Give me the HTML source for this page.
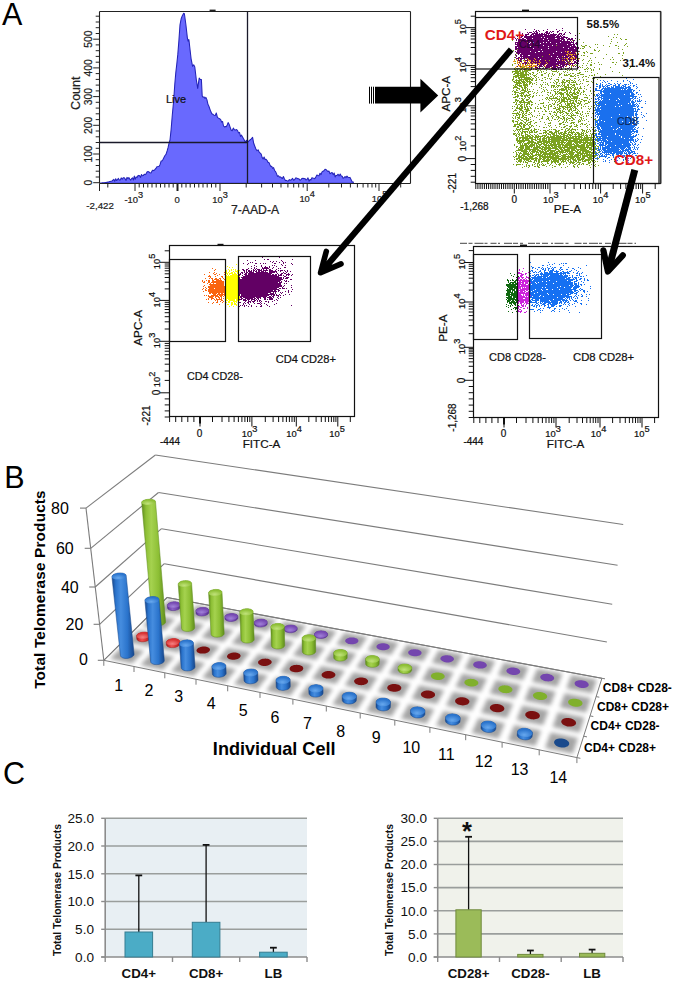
<!DOCTYPE html>
<html><head><meta charset="utf-8"><style>
html,body{margin:0;padding:0;background:#fff;}
svg{display:block;}
text{font-family:"Liberation Sans", sans-serif;}
</style></head><body>
<svg width="675" height="982" viewBox="0 0 675 982" font-family="Liberation Sans, sans-serif">
<defs><filter id="fb" x="-5%" y="-20%" width="110%" height="140%"><feGaussianBlur stdDeviation="2.3"/></filter>
<clipPath id="floorclip"><path d="M103.8 660.3 L576.9 757.6 L601.9 678.3 L167.1 597.5 Z"/></clipPath>
<linearGradient id="cg0" gradientUnits="userSpaceOnUse" x1="167.4" y1="0" x2="180.3" y2="0"><stop offset="0" stop-color="#512c8a"/><stop offset="0.18" stop-color="#7548b2"/><stop offset="0.4" stop-color="#8a60c4"/><stop offset="0.7" stop-color="#7548b2"/><stop offset="1" stop-color="#512c8a"/></linearGradient>
<radialGradient id="cg0t" cx="0.45" cy="0.75" r="0.6"><stop offset="0" stop-color="#a080d8"/><stop offset="1" stop-color="#7548b2"/></radialGradient>
<linearGradient id="cg1" gradientUnits="userSpaceOnUse" x1="195.9" y1="0" x2="208.8" y2="0"><stop offset="0" stop-color="#512c8a"/><stop offset="0.18" stop-color="#7548b2"/><stop offset="0.4" stop-color="#8a60c4"/><stop offset="0.7" stop-color="#7548b2"/><stop offset="1" stop-color="#512c8a"/></linearGradient>
<radialGradient id="cg1t" cx="0.45" cy="0.75" r="0.6"><stop offset="0" stop-color="#a080d8"/><stop offset="1" stop-color="#7548b2"/></radialGradient>
<linearGradient id="cg2" gradientUnits="userSpaceOnUse" x1="224.9" y1="0" x2="237.8" y2="0"><stop offset="0" stop-color="#512c8a"/><stop offset="0.18" stop-color="#7548b2"/><stop offset="0.4" stop-color="#8a60c4"/><stop offset="0.7" stop-color="#7548b2"/><stop offset="1" stop-color="#512c8a"/></linearGradient>
<radialGradient id="cg2t" cx="0.45" cy="0.75" r="0.6"><stop offset="0" stop-color="#a080d8"/><stop offset="1" stop-color="#7548b2"/></radialGradient>
<linearGradient id="cg3" gradientUnits="userSpaceOnUse" x1="141.7" y1="0" x2="165.6" y2="0"><stop offset="0" stop-color="#5f8c1c"/><stop offset="0.18" stop-color="#8dbf35"/><stop offset="0.4" stop-color="#a5d24f"/><stop offset="0.7" stop-color="#8dbf35"/><stop offset="1" stop-color="#5f8c1c"/></linearGradient>
<radialGradient id="cg3t" cx="0.45" cy="0.75" r="0.6"><stop offset="0" stop-color="#c0e27a"/><stop offset="1" stop-color="#8dbf35"/></radialGradient>
<linearGradient id="cg4" gradientUnits="userSpaceOnUse" x1="254.3" y1="0" x2="267.3" y2="0"><stop offset="0" stop-color="#512c8a"/><stop offset="0.18" stop-color="#7548b2"/><stop offset="0.4" stop-color="#8a60c4"/><stop offset="0.7" stop-color="#7548b2"/><stop offset="1" stop-color="#512c8a"/></linearGradient>
<radialGradient id="cg4t" cx="0.45" cy="0.75" r="0.6"><stop offset="0" stop-color="#a080d8"/><stop offset="1" stop-color="#7548b2"/></radialGradient>
<linearGradient id="cg5" gradientUnits="userSpaceOnUse" x1="178.2" y1="0" x2="194.7" y2="0"><stop offset="0" stop-color="#5f8c1c"/><stop offset="0.18" stop-color="#8dbf35"/><stop offset="0.4" stop-color="#a5d24f"/><stop offset="0.7" stop-color="#8dbf35"/><stop offset="1" stop-color="#5f8c1c"/></linearGradient>
<radialGradient id="cg5t" cx="0.45" cy="0.75" r="0.6"><stop offset="0" stop-color="#c0e27a"/><stop offset="1" stop-color="#8dbf35"/></radialGradient>
<linearGradient id="cg6" gradientUnits="userSpaceOnUse" x1="284.2" y1="0" x2="297.2" y2="0"><stop offset="0" stop-color="#512c8a"/><stop offset="0.18" stop-color="#7548b2"/><stop offset="0.4" stop-color="#8a60c4"/><stop offset="0.7" stop-color="#7548b2"/><stop offset="1" stop-color="#512c8a"/></linearGradient>
<radialGradient id="cg6t" cx="0.45" cy="0.75" r="0.6"><stop offset="0" stop-color="#a080d8"/><stop offset="1" stop-color="#7548b2"/></radialGradient>
<linearGradient id="cg7" gradientUnits="userSpaceOnUse" x1="208.6" y1="0" x2="224.2" y2="0"><stop offset="0" stop-color="#5f8c1c"/><stop offset="0.18" stop-color="#8dbf35"/><stop offset="0.4" stop-color="#a5d24f"/><stop offset="0.7" stop-color="#8dbf35"/><stop offset="1" stop-color="#5f8c1c"/></linearGradient>
<radialGradient id="cg7t" cx="0.45" cy="0.75" r="0.6"><stop offset="0" stop-color="#c0e27a"/><stop offset="1" stop-color="#8dbf35"/></radialGradient>
<linearGradient id="cg8" gradientUnits="userSpaceOnUse" x1="314.5" y1="0" x2="327.6" y2="0"><stop offset="0" stop-color="#512c8a"/><stop offset="0.18" stop-color="#7548b2"/><stop offset="0.4" stop-color="#8a60c4"/><stop offset="0.7" stop-color="#7548b2"/><stop offset="1" stop-color="#512c8a"/></linearGradient>
<radialGradient id="cg8t" cx="0.45" cy="0.75" r="0.6"><stop offset="0" stop-color="#a080d8"/><stop offset="1" stop-color="#7548b2"/></radialGradient>
<linearGradient id="cg9" gradientUnits="userSpaceOnUse" x1="136.6" y1="0" x2="150.2" y2="0"><stop offset="0" stop-color="#a01818"/><stop offset="0.18" stop-color="#d83030"/><stop offset="0.4" stop-color="#ec5050"/><stop offset="0.7" stop-color="#d83030"/><stop offset="1" stop-color="#a01818"/></linearGradient>
<radialGradient id="cg9t" cx="0.45" cy="0.75" r="0.6"><stop offset="0" stop-color="#f58080"/><stop offset="1" stop-color="#d83030"/></radialGradient>
<linearGradient id="cg10" gradientUnits="userSpaceOnUse" x1="239.7" y1="0" x2="254.2" y2="0"><stop offset="0" stop-color="#5f8c1c"/><stop offset="0.18" stop-color="#8dbf35"/><stop offset="0.4" stop-color="#a5d24f"/><stop offset="0.7" stop-color="#8dbf35"/><stop offset="1" stop-color="#5f8c1c"/></linearGradient>
<radialGradient id="cg10t" cx="0.45" cy="0.75" r="0.6"><stop offset="0" stop-color="#c0e27a"/><stop offset="1" stop-color="#8dbf35"/></radialGradient>
<linearGradient id="cg12" gradientUnits="userSpaceOnUse" x1="166.3" y1="0" x2="179.8" y2="0"><stop offset="0" stop-color="#a01818"/><stop offset="0.18" stop-color="#d83030"/><stop offset="0.4" stop-color="#ec5050"/><stop offset="0.7" stop-color="#d83030"/><stop offset="1" stop-color="#a01818"/></linearGradient>
<radialGradient id="cg12t" cx="0.45" cy="0.75" r="0.6"><stop offset="0" stop-color="#f58080"/><stop offset="1" stop-color="#d83030"/></radialGradient>
<linearGradient id="cg13" gradientUnits="userSpaceOnUse" x1="270.8" y1="0" x2="284.7" y2="0"><stop offset="0" stop-color="#5f8c1c"/><stop offset="0.18" stop-color="#8dbf35"/><stop offset="0.4" stop-color="#a5d24f"/><stop offset="0.7" stop-color="#8dbf35"/><stop offset="1" stop-color="#5f8c1c"/></linearGradient>
<radialGradient id="cg13t" cx="0.45" cy="0.75" r="0.6"><stop offset="0" stop-color="#c0e27a"/><stop offset="1" stop-color="#8dbf35"/></radialGradient>
<linearGradient id="cg16" gradientUnits="userSpaceOnUse" x1="302.1" y1="0" x2="315.7" y2="0"><stop offset="0" stop-color="#5f8c1c"/><stop offset="0.18" stop-color="#8dbf35"/><stop offset="0.4" stop-color="#a5d24f"/><stop offset="0.7" stop-color="#8dbf35"/><stop offset="1" stop-color="#5f8c1c"/></linearGradient>
<radialGradient id="cg16t" cx="0.45" cy="0.75" r="0.6"><stop offset="0" stop-color="#c0e27a"/><stop offset="1" stop-color="#8dbf35"/></radialGradient>
<linearGradient id="cg18" gradientUnits="userSpaceOnUse" x1="111.9" y1="0" x2="134.1" y2="0"><stop offset="0" stop-color="#17468a"/><stop offset="0.18" stop-color="#2b74cc"/><stop offset="0.4" stop-color="#468ddf"/><stop offset="0.7" stop-color="#2b74cc"/><stop offset="1" stop-color="#17468a"/></linearGradient>
<radialGradient id="cg18t" cx="0.45" cy="0.75" r="0.6"><stop offset="0" stop-color="#67a8ee"/><stop offset="1" stop-color="#2b74cc"/></radialGradient>
<linearGradient id="cg20" gradientUnits="userSpaceOnUse" x1="333.7" y1="0" x2="347.2" y2="0"><stop offset="0" stop-color="#5f8c1c"/><stop offset="0.18" stop-color="#8dbf35"/><stop offset="0.4" stop-color="#a5d24f"/><stop offset="0.7" stop-color="#8dbf35"/><stop offset="1" stop-color="#5f8c1c"/></linearGradient>
<radialGradient id="cg20t" cx="0.45" cy="0.75" r="0.6"><stop offset="0" stop-color="#c0e27a"/><stop offset="1" stop-color="#8dbf35"/></radialGradient>
<linearGradient id="cg22" gradientUnits="userSpaceOnUse" x1="144.9" y1="0" x2="164.3" y2="0"><stop offset="0" stop-color="#17468a"/><stop offset="0.18" stop-color="#2b74cc"/><stop offset="0.4" stop-color="#468ddf"/><stop offset="0.7" stop-color="#2b74cc"/><stop offset="1" stop-color="#17468a"/></linearGradient>
<radialGradient id="cg22t" cx="0.45" cy="0.75" r="0.6"><stop offset="0" stop-color="#67a8ee"/><stop offset="1" stop-color="#2b74cc"/></radialGradient>
<linearGradient id="cg24" gradientUnits="userSpaceOnUse" x1="365.6" y1="0" x2="379.3" y2="0"><stop offset="0" stop-color="#5f8c1c"/><stop offset="0.18" stop-color="#8dbf35"/><stop offset="0.4" stop-color="#a5d24f"/><stop offset="0.7" stop-color="#8dbf35"/><stop offset="1" stop-color="#5f8c1c"/></linearGradient>
<radialGradient id="cg24t" cx="0.45" cy="0.75" r="0.6"><stop offset="0" stop-color="#c0e27a"/><stop offset="1" stop-color="#8dbf35"/></radialGradient>
<linearGradient id="cg26" gradientUnits="userSpaceOnUse" x1="179.4" y1="0" x2="195" y2="0"><stop offset="0" stop-color="#17468a"/><stop offset="0.18" stop-color="#2b74cc"/><stop offset="0.4" stop-color="#468ddf"/><stop offset="0.7" stop-color="#2b74cc"/><stop offset="1" stop-color="#17468a"/></linearGradient>
<radialGradient id="cg26t" cx="0.45" cy="0.75" r="0.6"><stop offset="0" stop-color="#67a8ee"/><stop offset="1" stop-color="#2b74cc"/></radialGradient>
<linearGradient id="cg28" gradientUnits="userSpaceOnUse" x1="398" y1="0" x2="411.8" y2="0"><stop offset="0" stop-color="#5f8c1c"/><stop offset="0.18" stop-color="#8dbf35"/><stop offset="0.4" stop-color="#a5d24f"/><stop offset="0.7" stop-color="#8dbf35"/><stop offset="1" stop-color="#5f8c1c"/></linearGradient>
<radialGradient id="cg28t" cx="0.45" cy="0.75" r="0.6"><stop offset="0" stop-color="#c0e27a"/><stop offset="1" stop-color="#8dbf35"/></radialGradient>
<linearGradient id="cg30" gradientUnits="userSpaceOnUse" x1="211.9" y1="0" x2="226.2" y2="0"><stop offset="0" stop-color="#17468a"/><stop offset="0.18" stop-color="#2b74cc"/><stop offset="0.4" stop-color="#468ddf"/><stop offset="0.7" stop-color="#2b74cc"/><stop offset="1" stop-color="#17468a"/></linearGradient>
<radialGradient id="cg30t" cx="0.45" cy="0.75" r="0.6"><stop offset="0" stop-color="#67a8ee"/><stop offset="1" stop-color="#2b74cc"/></radialGradient>
<linearGradient id="cg34" gradientUnits="userSpaceOnUse" x1="243.7" y1="0" x2="258" y2="0"><stop offset="0" stop-color="#17468a"/><stop offset="0.18" stop-color="#2b74cc"/><stop offset="0.4" stop-color="#468ddf"/><stop offset="0.7" stop-color="#2b74cc"/><stop offset="1" stop-color="#17468a"/></linearGradient>
<radialGradient id="cg34t" cx="0.45" cy="0.75" r="0.6"><stop offset="0" stop-color="#67a8ee"/><stop offset="1" stop-color="#2b74cc"/></radialGradient>
<linearGradient id="cg38" gradientUnits="userSpaceOnUse" x1="276" y1="0" x2="290.3" y2="0"><stop offset="0" stop-color="#17468a"/><stop offset="0.18" stop-color="#2b74cc"/><stop offset="0.4" stop-color="#468ddf"/><stop offset="0.7" stop-color="#2b74cc"/><stop offset="1" stop-color="#17468a"/></linearGradient>
<radialGradient id="cg38t" cx="0.45" cy="0.75" r="0.6"><stop offset="0" stop-color="#67a8ee"/><stop offset="1" stop-color="#2b74cc"/></radialGradient>
<linearGradient id="cg41" gradientUnits="userSpaceOnUse" x1="308.8" y1="0" x2="323.1" y2="0"><stop offset="0" stop-color="#17468a"/><stop offset="0.18" stop-color="#2b74cc"/><stop offset="0.4" stop-color="#468ddf"/><stop offset="0.7" stop-color="#2b74cc"/><stop offset="1" stop-color="#17468a"/></linearGradient>
<radialGradient id="cg41t" cx="0.45" cy="0.75" r="0.6"><stop offset="0" stop-color="#67a8ee"/><stop offset="1" stop-color="#2b74cc"/></radialGradient>
<linearGradient id="cg44" gradientUnits="userSpaceOnUse" x1="342.2" y1="0" x2="356.5" y2="0"><stop offset="0" stop-color="#17468a"/><stop offset="0.18" stop-color="#2b74cc"/><stop offset="0.4" stop-color="#468ddf"/><stop offset="0.7" stop-color="#2b74cc"/><stop offset="1" stop-color="#17468a"/></linearGradient>
<radialGradient id="cg44t" cx="0.45" cy="0.75" r="0.6"><stop offset="0" stop-color="#67a8ee"/><stop offset="1" stop-color="#2b74cc"/></radialGradient>
<linearGradient id="cg47" gradientUnits="userSpaceOnUse" x1="376" y1="0" x2="390.5" y2="0"><stop offset="0" stop-color="#17468a"/><stop offset="0.18" stop-color="#2b74cc"/><stop offset="0.4" stop-color="#468ddf"/><stop offset="0.7" stop-color="#2b74cc"/><stop offset="1" stop-color="#17468a"/></linearGradient>
<radialGradient id="cg47t" cx="0.45" cy="0.75" r="0.6"><stop offset="0" stop-color="#67a8ee"/><stop offset="1" stop-color="#2b74cc"/></radialGradient>
<linearGradient id="cg49" gradientUnits="userSpaceOnUse" x1="410.4" y1="0" x2="425" y2="0"><stop offset="0" stop-color="#17468a"/><stop offset="0.18" stop-color="#2b74cc"/><stop offset="0.4" stop-color="#468ddf"/><stop offset="0.7" stop-color="#2b74cc"/><stop offset="1" stop-color="#17468a"/></linearGradient>
<radialGradient id="cg49t" cx="0.45" cy="0.75" r="0.6"><stop offset="0" stop-color="#67a8ee"/><stop offset="1" stop-color="#2b74cc"/></radialGradient>
<linearGradient id="cg51" gradientUnits="userSpaceOnUse" x1="445.4" y1="0" x2="460.2" y2="0"><stop offset="0" stop-color="#17468a"/><stop offset="0.18" stop-color="#2b74cc"/><stop offset="0.4" stop-color="#468ddf"/><stop offset="0.7" stop-color="#2b74cc"/><stop offset="1" stop-color="#17468a"/></linearGradient>
<radialGradient id="cg51t" cx="0.45" cy="0.75" r="0.6"><stop offset="0" stop-color="#67a8ee"/><stop offset="1" stop-color="#2b74cc"/></radialGradient>
<linearGradient id="cg53" gradientUnits="userSpaceOnUse" x1="481" y1="0" x2="496" y2="0"><stop offset="0" stop-color="#17468a"/><stop offset="0.18" stop-color="#2b74cc"/><stop offset="0.4" stop-color="#468ddf"/><stop offset="0.7" stop-color="#2b74cc"/><stop offset="1" stop-color="#17468a"/></linearGradient>
<radialGradient id="cg53t" cx="0.45" cy="0.75" r="0.6"><stop offset="0" stop-color="#67a8ee"/><stop offset="1" stop-color="#2b74cc"/></radialGradient>
<linearGradient id="cg54" gradientUnits="userSpaceOnUse" x1="517.2" y1="0" x2="532.5" y2="0"><stop offset="0" stop-color="#17468a"/><stop offset="0.18" stop-color="#2b74cc"/><stop offset="0.4" stop-color="#468ddf"/><stop offset="0.7" stop-color="#2b74cc"/><stop offset="1" stop-color="#17468a"/></linearGradient>
<radialGradient id="cg54t" cx="0.45" cy="0.75" r="0.6"><stop offset="0" stop-color="#67a8ee"/><stop offset="1" stop-color="#2b74cc"/></radialGradient></defs>
<text x="2" y="24.7" font-size="30.5">A</text>
<text x="4.3" y="487.8" font-size="30.5">B</text>
<text x="3" y="784.2" font-size="30.5">C</text>
<path d="M100.5 183.2 L100.5 183 L101.4 182.9 L102.3 182.8 L103.2 182.8 L104.2 182.7 L105.1 182.6 L106 182.5 L107 182.2 L108 182 L109 181.8 L110 181.5 L111 181.2 L112 181 L112.9 180.2 L113.8 179.4 L114.7 181.2 L115.7 178.8 L116.6 180.5 L117.5 179.7 L118.4 178.4 L119.3 180 L120.3 179.9 L121.2 177.9 L122.2 179.3 L123.2 177.7 L124.1 177.7 L125.1 178.9 L126.1 180.4 L127 177.4 L128 178.8 L128.9 177.6 L129.8 179.1 L130.7 180.2 L131.6 178.6 L132.5 177.8 L133.4 180 L134.3 176.1 L135.2 179.3 L136.1 176.9 L137 177.6 L137.9 175.8 L138.8 175.4 L139.7 175.8 L140.6 177.4 L141.5 174.5 L142.4 175.8 L143.3 175.6 L144.2 174.2 L145.1 174.6 L146 174 L147 172 L148 171.6 L149 171.9 L150 172.8 L151 172.9 L151.9 171.2 L152.9 170.1 L153.8 170.6 L154.8 169.6 L155.9 168.4 L156.9 166.7 L158 166.5 L159.1 166.2 L160.1 164.4 L161.1 161.1 L162.2 160.7 L163.1 159.3 L164.1 157.3 L165 155.5 L166 154.3 L167.1 151 L168.1 147.4 L169.1 142.9 L170 140 L171.1 129.6 L172.3 115 L173.6 101.4 L174.8 84 L175.8 72.6 L176.8 63.9 L177.8 54.4 L178.9 40.6 L180 24.8 L181.1 19 L182.2 15.9 L183.7 13.3 L184.4 13.7 L185.9 24.8 L187.4 38.1 L188.1 41.1 L188.9 39.6 L190 49.2 L191.1 58.8 L192.6 66.3 L193.7 64.8 L194.8 67 L196.3 79.6 L197.7 88.4 L199.2 78.1 L200.3 79.5 L201.4 79.6 L202.2 95.9 L203.1 97.3 L204.1 96.9 L205 98.5 L205.9 97.4 L206.9 99.6 L207.9 104.1 L208.9 106.3 L209.9 109.1 L210.8 111.6 L211.8 113.7 L212.9 114.3 L214 115.2 L215.2 115.5 L216.3 113 L217.4 117.3 L218.5 118.1 L219.6 118.7 L220.7 119.6 L221.6 122.1 L222.6 121.5 L223.5 126 L224.4 127 L225.3 126.5 L226.2 126.8 L227.2 125 L228.1 122.6 L229.1 124.2 L230.1 127.1 L231.1 130 L232.2 130.7 L233.3 128.1 L234.4 129.8 L235.5 130 L236.5 129.6 L237.5 130.4 L238.5 132.9 L239.5 132.4 L240.5 136.4 L241.4 135.1 L242.4 136.8 L243.4 138.6 L244.4 140.3 L245.4 142.6 L246.4 140.2 L247.4 142.6 L248.7 141.1 L250 140 L251.3 138.9 L252.6 137.4 L253.7 143.3 L254.8 146.2 L255.9 149 L257 150.7 L258.1 149.8 L259.2 152.2 L260.2 153.1 L261.2 154.1 L262.1 157.4 L263.1 159 L264.1 157 L265.1 159.6 L266.1 159.3 L267.1 160.5 L268.1 162.5 L269 162.6 L269.9 164.8 L270.8 166.4 L271.7 166.3 L272.6 168.4 L273.6 167.6 L274.6 170.5 L275.6 171.6 L276.5 173.6 L277.5 176.4 L278.5 175.8 L279.5 177.1 L280.5 176.9 L281.4 177.8 L282.4 178.5 L283.4 176.5 L284.4 178.8 L285.4 180.6 L286.4 180.4 L287.4 181 L288.3 181 L289.3 179.6 L290.3 180.3 L291.4 179.7 L292.5 178.3 L293.6 180.2 L294.7 179.5 L295.8 177.9 L296.8 178.1 L297.9 178.8 L298.9 178.8 L300 180.3 L301 179.6 L302 178.4 L303 178.2 L304 178.7 L305 178.5 L306 180 L307 179.4 L308 177.9 L309 181.2 L310 179.6 L310.9 179.9 L311.9 177.8 L312.8 178.1 L313.8 178.3 L314.7 178.7 L315.8 177.1 L316.9 175.1 L318 175.5 L319 175.8 L320 173.3 L321 174.6 L322 171.9 L323 171.3 L324 170.7 L325 169.2 L326 169.5 L327 170.7 L328 171.5 L329 171.1 L330 173.8 L331 173 L332.1 172.5 L333.3 174.7 L334.2 173 L335.1 176.9 L336.1 175.4 L337 175.5 L338.1 174.2 L339.1 175.9 L340.2 174 L341.3 176 L342.2 176.2 L343.1 178.2 L344.1 177.8 L345 176.5 L346 177.6 L347 176.1 L348 177.3 L349 177.5 L350 177.4 L351 179.5 L352.1 181.8 L353.3 182 L353.3 183.2Z" fill="#6969fe" stroke="#2424b8" stroke-width="1.05" stroke-linejoin="round"/>
<line x1="99.5" y1="11.5" x2="410.5" y2="11.5" stroke="#222" stroke-width="1.1"/>
<line x1="410.5" y1="11.5" x2="410.5" y2="183.5" stroke="#222" stroke-width="1.1"/>
<line x1="99.5" y1="11.5" x2="99.5" y2="183.5" stroke="#222" stroke-width="1.1"/>
<line x1="99.5" y1="183.5" x2="410.5" y2="183.5" stroke="#222" stroke-width="1.1"/>
<rect x="209.6" y="9.6" width="6" height="1.6" fill="#222" stroke="none" stroke-width="0"/>
<line x1="99.5" y1="142.5" x2="247.5" y2="142.5" stroke="#1a1a2a" stroke-width="1.3"/>
<line x1="247.5" y1="11.5" x2="247.5" y2="183.5" stroke="#1a1a2a" stroke-width="1.3"/>
<line x1="93.2" y1="182.7" x2="99.5" y2="182.7" stroke="#222" stroke-width="1"/>
<line x1="95.7" y1="177" x2="99.5" y2="177" stroke="#222" stroke-width="1"/>
<line x1="95.7" y1="171.2" x2="99.5" y2="171.2" stroke="#222" stroke-width="1"/>
<line x1="95.7" y1="165.5" x2="99.5" y2="165.5" stroke="#222" stroke-width="1"/>
<line x1="95.7" y1="159.7" x2="99.5" y2="159.7" stroke="#222" stroke-width="1"/>
<line x1="93.2" y1="154" x2="99.5" y2="154" stroke="#222" stroke-width="1"/>
<line x1="95.7" y1="148.3" x2="99.5" y2="148.3" stroke="#222" stroke-width="1"/>
<line x1="95.7" y1="142.5" x2="99.5" y2="142.5" stroke="#222" stroke-width="1"/>
<line x1="95.7" y1="136.8" x2="99.5" y2="136.8" stroke="#222" stroke-width="1"/>
<line x1="95.7" y1="131" x2="99.5" y2="131" stroke="#222" stroke-width="1"/>
<line x1="93.2" y1="125.3" x2="99.5" y2="125.3" stroke="#222" stroke-width="1"/>
<line x1="95.7" y1="119.6" x2="99.5" y2="119.6" stroke="#222" stroke-width="1"/>
<line x1="95.7" y1="113.8" x2="99.5" y2="113.8" stroke="#222" stroke-width="1"/>
<line x1="95.7" y1="108.1" x2="99.5" y2="108.1" stroke="#222" stroke-width="1"/>
<line x1="95.7" y1="102.3" x2="99.5" y2="102.3" stroke="#222" stroke-width="1"/>
<line x1="93.2" y1="96.6" x2="99.5" y2="96.6" stroke="#222" stroke-width="1"/>
<line x1="95.7" y1="90.9" x2="99.5" y2="90.9" stroke="#222" stroke-width="1"/>
<line x1="95.7" y1="85.1" x2="99.5" y2="85.1" stroke="#222" stroke-width="1"/>
<line x1="95.7" y1="79.4" x2="99.5" y2="79.4" stroke="#222" stroke-width="1"/>
<line x1="95.7" y1="73.6" x2="99.5" y2="73.6" stroke="#222" stroke-width="1"/>
<line x1="93.2" y1="67.9" x2="99.5" y2="67.9" stroke="#222" stroke-width="1"/>
<line x1="95.7" y1="62.2" x2="99.5" y2="62.2" stroke="#222" stroke-width="1"/>
<line x1="95.7" y1="56.4" x2="99.5" y2="56.4" stroke="#222" stroke-width="1"/>
<line x1="95.7" y1="50.7" x2="99.5" y2="50.7" stroke="#222" stroke-width="1"/>
<line x1="95.7" y1="44.9" x2="99.5" y2="44.9" stroke="#222" stroke-width="1"/>
<line x1="93.2" y1="39.2" x2="99.5" y2="39.2" stroke="#222" stroke-width="1"/>
<line x1="95.7" y1="33.5" x2="99.5" y2="33.5" stroke="#222" stroke-width="1"/>
<line x1="95.7" y1="27.7" x2="99.5" y2="27.7" stroke="#222" stroke-width="1"/>
<line x1="95.7" y1="22" x2="99.5" y2="22" stroke="#222" stroke-width="1"/>
<line x1="95.7" y1="16.2" x2="99.5" y2="16.2" stroke="#222" stroke-width="1"/>
<text x="91.6" y="182.7" font-size="10.3" text-anchor="middle" fill="#222" stroke="#222" stroke-width="0.22" transform="rotate(-90 91.6 182.7)">0</text>
<text x="91.6" y="154" font-size="10.3" text-anchor="middle" fill="#222" stroke="#222" stroke-width="0.22" transform="rotate(-90 91.6 154)">100</text>
<text x="91.6" y="125.3" font-size="10.3" text-anchor="middle" fill="#222" stroke="#222" stroke-width="0.22" transform="rotate(-90 91.6 125.3)">200</text>
<text x="91.6" y="96.6" font-size="10.3" text-anchor="middle" fill="#222" stroke="#222" stroke-width="0.22" transform="rotate(-90 91.6 96.6)">300</text>
<text x="91.6" y="67.9" font-size="10.3" text-anchor="middle" fill="#222" stroke="#222" stroke-width="0.22" transform="rotate(-90 91.6 67.9)">400</text>
<text x="91.6" y="39.2" font-size="10.3" text-anchor="middle" fill="#222" stroke="#222" stroke-width="0.22" transform="rotate(-90 91.6 39.2)">500</text>
<text x="79.6" y="93.2" font-size="12.5" text-anchor="middle" fill="#222" stroke="#222" stroke-width="0.22" transform="rotate(-90 79.6 93.2)">Count</text>
<line x1="99.5" y1="183.5" x2="99.5" y2="191" stroke="#222" stroke-width="1"/>
<line x1="107.8" y1="183.5" x2="107.8" y2="187.5" stroke="#222" stroke-width="1"/>
<line x1="135" y1="183.5" x2="135" y2="191" stroke="#222" stroke-width="1"/>
<line x1="177.5" y1="183.5" x2="177.5" y2="191" stroke="#222" stroke-width="1"/>
<line x1="220" y1="183.5" x2="220" y2="191" stroke="#222" stroke-width="1"/>
<line x1="307.2" y1="183.5" x2="307.2" y2="191" stroke="#222" stroke-width="1"/>
<line x1="379" y1="183.5" x2="379" y2="191" stroke="#222" stroke-width="1"/>
<line x1="139.2" y1="183.5" x2="139.2" y2="187.5" stroke="#222" stroke-width="1"/>
<line x1="181.8" y1="183.5" x2="181.8" y2="187.5" stroke="#222" stroke-width="1"/>
<line x1="143.5" y1="183.5" x2="143.5" y2="187.5" stroke="#222" stroke-width="1"/>
<line x1="186" y1="183.5" x2="186" y2="187.5" stroke="#222" stroke-width="1"/>
<line x1="147.8" y1="183.5" x2="147.8" y2="187.5" stroke="#222" stroke-width="1"/>
<line x1="190.2" y1="183.5" x2="190.2" y2="187.5" stroke="#222" stroke-width="1"/>
<line x1="152" y1="183.5" x2="152" y2="187.5" stroke="#222" stroke-width="1"/>
<line x1="194.5" y1="183.5" x2="194.5" y2="187.5" stroke="#222" stroke-width="1"/>
<line x1="156.2" y1="183.5" x2="156.2" y2="187.5" stroke="#222" stroke-width="1"/>
<line x1="198.8" y1="183.5" x2="198.8" y2="187.5" stroke="#222" stroke-width="1"/>
<line x1="160.5" y1="183.5" x2="160.5" y2="187.5" stroke="#222" stroke-width="1"/>
<line x1="203" y1="183.5" x2="203" y2="187.5" stroke="#222" stroke-width="1"/>
<line x1="164.8" y1="183.5" x2="164.8" y2="187.5" stroke="#222" stroke-width="1"/>
<line x1="207.2" y1="183.5" x2="207.2" y2="187.5" stroke="#222" stroke-width="1"/>
<line x1="169" y1="183.5" x2="169" y2="187.5" stroke="#222" stroke-width="1"/>
<line x1="211.5" y1="183.5" x2="211.5" y2="187.5" stroke="#222" stroke-width="1"/>
<line x1="173.2" y1="183.5" x2="173.2" y2="187.5" stroke="#222" stroke-width="1"/>
<line x1="215.8" y1="183.5" x2="215.8" y2="187.5" stroke="#222" stroke-width="1"/>
<line x1="246.2" y1="183.5" x2="246.2" y2="187.5" stroke="#222" stroke-width="1"/>
<line x1="261.6" y1="183.5" x2="261.6" y2="187.5" stroke="#222" stroke-width="1"/>
<line x1="272.5" y1="183.5" x2="272.5" y2="187.5" stroke="#222" stroke-width="1"/>
<line x1="281" y1="183.5" x2="281" y2="187.5" stroke="#222" stroke-width="1"/>
<line x1="287.9" y1="183.5" x2="287.9" y2="187.5" stroke="#222" stroke-width="1"/>
<line x1="293.7" y1="183.5" x2="293.7" y2="187.5" stroke="#222" stroke-width="1"/>
<line x1="298.7" y1="183.5" x2="298.7" y2="187.5" stroke="#222" stroke-width="1"/>
<line x1="303.2" y1="183.5" x2="303.2" y2="187.5" stroke="#222" stroke-width="1"/>
<line x1="328.8" y1="183.5" x2="328.8" y2="187.5" stroke="#222" stroke-width="1"/>
<line x1="341.5" y1="183.5" x2="341.5" y2="187.5" stroke="#222" stroke-width="1"/>
<line x1="350.4" y1="183.5" x2="350.4" y2="187.5" stroke="#222" stroke-width="1"/>
<line x1="357.4" y1="183.5" x2="357.4" y2="187.5" stroke="#222" stroke-width="1"/>
<line x1="363.1" y1="183.5" x2="363.1" y2="187.5" stroke="#222" stroke-width="1"/>
<line x1="367.9" y1="183.5" x2="367.9" y2="187.5" stroke="#222" stroke-width="1"/>
<line x1="372" y1="183.5" x2="372" y2="187.5" stroke="#222" stroke-width="1"/>
<line x1="375.7" y1="183.5" x2="375.7" y2="187.5" stroke="#222" stroke-width="1"/>
<line x1="400.7" y1="183.5" x2="400.7" y2="187.5" stroke="#222" stroke-width="1"/>
<line x1="177.5" y1="183.5" x2="177.5" y2="191" stroke="#222" stroke-width="2"/>
<text x="113.8" y="209.3" font-size="9.7" text-anchor="end" fill="#222" stroke="#222" stroke-width="0.22">-2,422</text>
<text x="124.5" y="203.3" font-size="9.4" fill="#222" stroke="#222" stroke-width="0.22">-10<tspan dy="-5" font-size="9.2">3</tspan></text>
<text x="177.2" y="203.2" font-size="9.5" text-anchor="middle" fill="#222" stroke="#222" stroke-width="0.22">0</text>
<text x="220" y="202.6" font-size="9.4" text-anchor="middle" fill="#222" stroke="#222" stroke-width="0.22">10<tspan dy="-5" font-size="9.2">3</tspan></text>
<text x="307.2" y="202" font-size="9.4" text-anchor="middle" fill="#222" stroke="#222" stroke-width="0.22">10<tspan dy="-5" font-size="9.2">4</tspan></text>
<text x="379.5" y="202" font-size="9.4" text-anchor="middle" fill="#222" stroke="#222" stroke-width="0.22">10<tspan dy="-5" font-size="9.2">5</tspan></text>
<text x="231" y="213.7" font-size="12.2" fill="#222" stroke="#222" stroke-width="0.22">7-AAD-A</text>
<text x="166" y="103.2" font-size="11" fill="#111" stroke="#111" stroke-width="0.22">Live</text>
<path fill="#7ba21f" d="M579 33h1v1h-1zm35 1h1v1h-1zm3 0h1v1h-1zm-9 2h1v1h-1zm-46 1h1v1h-1zm51 0h1v1h-1zm3 0h1v1h-1zm-83 1h1v1h-1zm4 0h1v1h-1zm83 0h1v1h-1zm-92 1h1v1h-1zm51 0h1v1h-1zm32 0h1v1h-1zm10 0h1v1h-1zm4 0h2v1h-2zm-113 1h1v1h-1zm8 0h1v1h-1zm52 0h1v1h-1zm-54 1h1v1h-1zm7 0h1v1h-1zm2 0h1v1h-1zm38 0h1v1h-1zm46 0h1v1h-1zm-89 1h1v1h-1zm26 0h1v1h-1zm10 0h2v1h-2zm25 0h1v1h-1zm34 0h1v1h-1zm-66 1h1v1h-1zm10 0h1v1h-1zm49 0h1v1h-1zm16 0h1v1h-1zm-84 1h1v1h-1zm2 0h1v1h-1zm5 0h1v1h-1zm5 0h1v1h-1zm2 0h1v1h-1zm15 0h1v1h-1zm24 0h1v1h-1zm2 0h1v1h-1zm28 0h1v1h-1zm-100 1h1v1h-1zm4 0h1v1h-1zm11 0h2v1h-2zm5 0h1v1h-1zm11 0h1v1h-1zm13 0h1v1h-1zm12 0h1v1h-1zm4 0h2v1h-2zm18 0h1v1h-1zm12 0h2v1h-2zm9 0h1v1h-1zm-105 1h1v1h-1zm4 0h1v1h-1zm12 0h1v1h-1zm30 0h1v1h-1zm17 0h3v1h-3zm7 0h1v1h-1zm20 0h1v1h-1zm9 0h1v1h-1zm9 0h1v1h-1zm-98 1h1v1h-1zm6 0h1v1h-1zm17 0h1v1h-1zm2 0h1v1h-1zm12 0h1v1h-1zm7 0h1v1h-1zm5 0h1v1h-1zm6 0h1v1h-1zm6 0h1v1h-1zm7 0h1v1h-1zm-52 1h1v1h-1zm12 0h1v1h-1zm6 0h1v1h-1zm3 0h1v1h-1zm4 0h1v1h-1zm10 0h1v1h-1zm2 0h2v1h-2zm36 0h1v1h-1zm-101 1h1v1h-1zm34 0h1v1h-1zm3 0h2v1h-2zm5 0h1v1h-1zm9 0h2v1h-2zm6 0h1v1h-1zm20 0h1v1h-1zm28 0h1v1h-1zm-109 1h1v1h-1zm5 0h1v1h-1zm19 0h1v1h-1zm5 0h1v1h-1zm12 0h1v1h-1zm6 0h1v1h-1zm3 0h1v1h-1zm3 0h1v1h-1zm3 0h1v1h-1zm25 0h2v1h-2zm5 0h1v1h-1zm-75 1h1v1h-1zm10 0h1v1h-1zm9 0h1v1h-1zm7 0h1v1h-1zm2 0h1v1h-1zm10 0h1v1h-1zm6 0h1v1h-1zm11 0h1v1h-1zm7 0h1v1h-1zm12 0h1v1h-1zm-74 1h1v1h-1zm2 0h1v1h-1zm6 0h1v1h-1zm2 0h1v1h-1zm5 0h1v1h-1zm2 0h1v1h-1zm19 0h1v1h-1zm5 0h1v1h-1zm2 0h1v1h-1zm8 0h1v1h-1zm8 0h2v1h-2zm4 0h1v1h-1zm36 0h1v1h-1zm-107 1h1v1h-1zm11 0h1v1h-1zm2 0h1v1h-1zm16 0h1v1h-1zm11 0h1v1h-1zm13 0h1v1h-1zm6 0h1v1h-1zm2 0h1v1h-1zm7 0h1v1h-1zm6 0h3v1h-3zm28 0h2v1h-2zm5 0h1v1h-1zm-100 1h1v1h-1zm25 0h1v1h-1zm22 0h1v1h-1zm5 0h1v1h-1zm31 0h1v1h-1zm-91 1h1v1h-1zm22 0h1v1h-1zm34 0h1v1h-1zm2 0h2v1h-2zm4 0h1v1h-1zm4 0h1v1h-1zm2 0h2v1h-2zm39 0h1v1h-1zm-80 1h1v1h-1zm14 0h1v1h-1zm9 0h1v1h-1zm2 0h2v1h-2zm5 0h1v1h-1zm3 0h1v1h-1zm2 0h1v1h-1zm10 0h1v1h-1zm-73 1h1v1h-1zm9 0h1v1h-1zm2 0h1v1h-1zm8 0h1v1h-1zm8 0h1v1h-1zm15 0h1v1h-1zm15 0h2v1h-2zm24 0h1v1h-1zm17 0h1v1h-1zm-93 1h2v1h-2zm6 0h2v1h-2zm5 0h1v1h-1zm2 0h1v1h-1zm8 0h1v1h-1zm8 0h1v1h-1zm12 0h1v1h-1zm2 0h1v1h-1zm8 0h3v1h-3zm9 0h1v1h-1zm11 0h1v1h-1zm13 0h1v1h-1zm19 0h1v1h-1zm-108 1h1v1h-1zm13 0h1v1h-1zm10 0h1v1h-1zm4 0h1v1h-1zm5 0h1v1h-1zm6 0h1v1h-1zm4 0h1v1h-1zm5 0h1v1h-1zm5 0h1v1h-1zm17 0h1v1h-1zm27 0h1v1h-1zm3 0h1v1h-1zm-92 1h1v1h-1zm2 0h1v1h-1zm8 0h2v1h-2zm4 0h1v1h-1zm6 0h1v1h-1zm3 0h1v1h-1zm4 0h3v1h-3zm7 0h1v1h-1zm7 0h2v1h-2zm5 0h1v1h-1zm2 0h2v1h-2zm8 0h1v1h-1zm5 0h1v1h-1zm7 0h1v1h-1zm2 0h1v1h-1zm29 0h1v1h-1zm-107 1h1v1h-1zm2 0h1v1h-1zm6 0h1v1h-1zm4 0h1v1h-1zm2 0h1v1h-1zm39 0h1v1h-1zm6 0h1v1h-1zm3 0h1v1h-1zm13 0h1v1h-1zm-71 1h2v1h-2zm4 0h1v1h-1zm6 0h1v1h-1zm4 0h2v1h-2zm6 0h1v1h-1zm15 0h1v1h-1zm5 0h1v1h-1zm2 0h1v1h-1zm3 0h1v1h-1zm3 0h1v1h-1zm2 0h1v1h-1zm2 0h1v1h-1zm22 0h1v1h-1zm7 0h1v1h-1zm14 0h2v1h-2zm4 0h1v1h-1zm-101 1h1v1h-1zm9 0h2v1h-2zm6 0h1v1h-1zm14 0h1v1h-1zm2 0h1v1h-1zm4 0h1v1h-1zm4 0h1v1h-1zm3 0h1v1h-1zm8 0h1v1h-1zm3 0h1v1h-1zm3 0h1v1h-1zm12 0h1v1h-1zm4 0h1v1h-1zm7 0h1v1h-1zm-82 1h1v1h-1zm8 0h1v1h-1zm7 0h1v1h-1zm5 0h1v1h-1zm7 0h2v1h-2zm15 0h1v1h-1zm7 0h1v1h-1zm2 0h1v1h-1zm5 0h1v1h-1zm7 0h1v1h-1zm15 0h2v1h-2zm9 0h1v1h-1zm2 0h1v1h-1zm14 0h1v1h-1zm-103 1h1v1h-1zm7 0h1v1h-1zm3 0h1v1h-1zm4 0h4v1h-4zm8 0h1v1h-1zm15 0h1v1h-1zm7 0h1v1h-1zm3 0h1v1h-1zm5 0h1v1h-1zm10 0h1v1h-1zm2 0h1v1h-1zm6 0h1v1h-1zm4 0h1v1h-1zm4 0h2v1h-2zm-69 1h5v1h-5zm8 0h2v1h-2zm9 0h1v1h-1zm10 0h1v1h-1zm9 0h1v1h-1zm14 0h1v1h-1zm8 0h1v1h-1zm-59 1h1v1h-1zm2 0h3v1h-3zm4 0h1v1h-1zm2 0h1v1h-1zm4 0h1v1h-1zm5 0h1v1h-1zm6 0h1v1h-1zm2 0h1v1h-1zm6 0h1v1h-1zm4 0h1v1h-1zm8 0h1v1h-1zm6 0h1v1h-1zm2 0h1v1h-1zm9 0h1v1h-1zm2 0h1v1h-1zm5 0h1v1h-1zm7 0h1v1h-1zm16 0h1v1h-1zm20 0h1v1h-1zm-116 1h1v1h-1zm2 0h4v1h-4zm6 0h1v1h-1zm2 0h4v1h-4zm5 0h1v1h-1zm8 0h1v1h-1zm9 0h2v1h-2zm19 0h1v1h-1zm21 0h1v1h-1zm2 0h1v1h-1zm2 0h1v1h-1zm9 0h1v1h-1zm30 0h1v1h-1zm-115 1h2v1h-2zm3 0h1v1h-1zm3 0h2v1h-2zm3 0h4v1h-4zm5 0h4v1h-4zm7 0h1v1h-1zm6 0h1v1h-1zm3 0h1v1h-1zm11 0h1v1h-1zm3 0h1v1h-1zm4 0h1v1h-1zm4 0h1v1h-1zm4 0h2v1h-2zm14 0h2v1h-2zm3 0h1v1h-1zm4 0h1v1h-1zm2 0h1v1h-1zm6 0h1v1h-1zm-84 1h3v1h-3zm4 0h2v1h-2zm3 0h1v1h-1zm2 0h7v1h-7zm13 0h2v1h-2zm3 0h1v1h-1zm6 0h1v1h-1zm5 0h1v1h-1zm5 0h1v1h-1zm11 0h1v1h-1zm2 0h1v1h-1zm3 0h1v1h-1zm4 0h1v1h-1zm3 0h1v1h-1zm12 0h1v1h-1zm2 0h1v1h-1zm-81 1h9v1h-9zm10 0h6v1h-6zm15 0h1v1h-1zm4 0h1v1h-1zm2 0h1v1h-1zm9 0h5v1h-5zm6 0h1v1h-1zm5 0h1v1h-1zm2 0h1v1h-1zm20 0h1v1h-1zm2 0h1v1h-1zm25 0h1v1h-1zm-100 1h1v1h-1zm3 0h4v1h-4zm5 0h4v1h-4zm5 0h2v1h-2zm3 0h1v1h-1zm4 0h2v1h-2zm7 0h1v1h-1zm2 0h1v1h-1zm5 0h1v1h-1zm11 0h1v1h-1zm7 0h1v1h-1zm3 0h1v1h-1zm12 0h2v1h-2zm12 0h1v1h-1zm28 0h1v1h-1zm-105 1h10v1h-10zm11 0h2v1h-2zm4 0h2v1h-2zm4 0h1v1h-1zm4 0h1v1h-1zm7 0h2v1h-2zm5 0h1v1h-1zm3 0h1v1h-1zm7 0h1v1h-1zm2 0h1v1h-1zm9 0h1v1h-1zm2 0h2v1h-2zm5 0h3v1h-3zm20 0h1v1h-1zm-84 1h2v1h-2zm4 0h2v1h-2zm3 0h9v1h-9zm10 0h1v1h-1zm2 0h1v1h-1zm4 0h1v1h-1zm5 0h2v1h-2zm7 0h1v1h-1zm4 0h1v1h-1zm2 0h1v1h-1zm5 0h2v1h-2zm5 0h1v1h-1zm2 0h1v1h-1zm2 0h2v1h-2zm7 0h1v1h-1zm5 0h4v1h-4zm14 0h1v1h-1zm11 0h1v1h-1zm-90 1h12v1h-12zm13 0h1v1h-1zm5 0h3v1h-3zm8 0h2v1h-2zm7 0h1v1h-1zm5 0h1v1h-1zm6 0h1v1h-1zm5 0h4v1h-4zm6 0h2v1h-2zm4 0h1v1h-1zm3 0h2v1h-2zm12 0h1v1h-1zm2 0h2v1h-2zm3 0h1v1h-1zm28 0h1v1h-1zm-109 1h6v1h-6zm7 0h5v1h-5zm6 0h1v1h-1zm4 0h1v1h-1zm4 0h1v1h-1zm2 0h1v1h-1zm12 0h1v1h-1zm3 0h1v1h-1zm19 0h4v1h-4zm5 0h1v1h-1zm8 0h1v1h-1zm2 0h2v1h-2zm15 0h1v1h-1zm-87 1h1v1h-1zm2 0h2v1h-2zm3 0h12v1h-12zm13 0h1v1h-1zm4 0h1v1h-1zm3 0h1v1h-1zm6 0h2v1h-2zm14 0h1v1h-1zm3 0h1v1h-1zm17 0h1v1h-1zm4 0h1v1h-1zm6 0h1v1h-1zm6 0h1v1h-1zm-81 1h1v1h-1zm5 0h2v1h-2zm3 0h1v1h-1zm3 0h7v1h-7zm8 0h2v1h-2zm4 0h1v1h-1zm6 0h1v1h-1zm5 0h1v1h-1zm2 0h1v1h-1zm2 0h1v1h-1zm18 0h1v1h-1zm5 0h2v1h-2zm18 0h1v1h-1zm2 0h1v1h-1zm-82 1h2v1h-2zm4 0h1v1h-1zm3 0h14v1h-14zm17 0h1v1h-1zm3 0h1v1h-1zm6 0h1v1h-1zm5 0h1v1h-1zm6 0h3v1h-3zm7 0h2v1h-2zm7 0h1v1h-1zm9 0h1v1h-1zm4 0h1v1h-1zm3 0h1v1h-1zm11 0h1v1h-1zm-85 1h1v1h-1zm3 0h7v1h-7zm8 0h1v1h-1zm2 0h3v1h-3zm4 0h1v1h-1zm2 0h2v1h-2zm4 0h2v1h-2zm6 0h2v1h-2zm13 0h1v1h-1zm4 0h1v1h-1zm4 0h1v1h-1zm2 0h1v1h-1zm2 0h4v1h-4zm5 0h2v1h-2zm3 0h1v1h-1zm4 0h1v1h-1zm5 0h1v1h-1zm-70 1h2v1h-2zm3 0h1v1h-1zm2 0h2v1h-2zm3 0h4v1h-4zm5 0h5v1h-5zm29 0h1v1h-1zm3 0h1v1h-1zm4 0h2v1h-2zm4 0h2v1h-2zm3 0h1v1h-1zm4 0h1v1h-1zm2 0h1v1h-1zm5 0h1v1h-1zm6 0h3v1h-3zm5 0h1v1h-1zm2 0h1v1h-1zm-79 1h7v1h-7zm8 0h4v1h-4zm5 0h1v1h-1zm2 0h3v1h-3zm7 0h1v1h-1zm7 0h1v1h-1zm2 0h1v1h-1zm5 0h1v1h-1zm3 0h1v1h-1zm3 0h2v1h-2zm5 0h5v1h-5zm7 0h2v1h-2zm3 0h5v1h-5zm21 0h1v1h-1zm-76 1h6v1h-6zm7 0h2v1h-2zm3 0h1v1h-1zm3 0h2v1h-2zm3 0h1v1h-1zm2 0h1v1h-1zm13 0h1v1h-1zm7 0h1v1h-1zm2 0h1v1h-1zm3 0h1v1h-1zm3 0h1v1h-1zm2 0h1v1h-1zm5 0h1v1h-1zm7 0h1v1h-1zm4 0h1v1h-1zm2 0h1v1h-1zm14 0h1v1h-1zm-81 1h3v1h-3zm4 0h1v1h-1zm4 0h5v1h-5zm6 0h1v1h-1zm3 0h1v1h-1zm4 0h1v1h-1zm4 0h1v1h-1zm2 0h1v1h-1zm3 0h1v1h-1zm2 0h1v1h-1zm9 0h1v1h-1zm6 0h1v1h-1zm2 0h1v1h-1zm3 0h2v1h-2zm3 0h2v1h-2zm3 0h2v1h-2zm3 0h2v1h-2zm3 0h1v1h-1zm9 0h1v1h-1zm-75 1h1v1h-1zm2 0h1v1h-1zm2 0h5v1h-5zm6 0h5v1h-5zm18 0h1v1h-1zm7 0h1v1h-1zm3 0h4v1h-4zm6 0h3v1h-3zm4 0h1v1h-1zm2 0h2v1h-2zm4 0h2v1h-2zm5 0h3v1h-3zm15 0h1v1h-1zm-73 1h3v1h-3zm5 0h3v1h-3zm5 0h2v1h-2zm3 0h1v1h-1zm4 0h1v1h-1zm10 0h1v1h-1zm10 0h1v1h-1zm2 0h2v1h-2zm3 0h1v1h-1zm2 0h1v1h-1zm2 0h1v1h-1zm2 0h1v1h-1zm2 0h3v1h-3zm4 0h1v1h-1zm3 0h1v1h-1zm3 0h1v1h-1zm6 0h1v1h-1zm4 0h1v1h-1zm16 0h1v1h-1zm-87 1h5v1h-5zm8 0h2v1h-2zm3 0h3v1h-3zm15 0h1v1h-1zm4 0h1v1h-1zm2 0h1v1h-1zm6 0h1v1h-1zm2 0h1v1h-1zm2 0h1v1h-1zm2 0h1v1h-1zm7 0h7v1h-7zm8 0h2v1h-2zm3 0h1v1h-1zm2 0h1v1h-1zm3 0h1v1h-1zm10 0h1v1h-1zm-77 1h1v1h-1zm4 0h3v1h-3zm5 0h1v1h-1zm2 0h2v1h-2zm3 0h1v1h-1zm14 0h1v1h-1zm20 0h3v1h-3zm4 0h2v1h-2zm3 0h1v1h-1zm2 0h2v1h-2zm4 0h2v1h-2zm3 0h1v1h-1zm2 0h3v1h-3zm5 0h1v1h-1zm-68 1h1v1h-1zm3 0h1v1h-1zm3 0h2v1h-2zm3 0h1v1h-1zm2 0h1v1h-1zm2 0h1v1h-1zm4 0h1v1h-1zm10 0h1v1h-1zm3 0h1v1h-1zm8 0h2v1h-2zm3 0h1v1h-1zm2 0h8v1h-8zm9 0h2v1h-2zm3 0h1v1h-1zm3 0h3v1h-3zm4 0h1v1h-1zm8 0h1v1h-1zm9 0h1v1h-1zm-82 1h1v1h-1zm3 0h2v1h-2zm5 0h5v1h-5zm6 0h1v1h-1zm10 0h1v1h-1zm7 0h1v1h-1zm3 0h1v1h-1zm4 0h1v1h-1zm2 0h1v1h-1zm6 0h1v1h-1zm2 0h4v1h-4zm5 0h2v1h-2zm4 0h1v1h-1zm3 0h2v1h-2zm5 0h2v1h-2zm5 0h1v1h-1zm7 0h1v1h-1zm8 0h1v1h-1zm-86 1h1v1h-1zm2 0h2v1h-2zm6 0h1v1h-1zm4 0h3v1h-3zm4 0h3v1h-3zm4 0h1v1h-1zm10 0h1v1h-1zm2 0h1v1h-1zm10 0h2v1h-2zm3 0h2v1h-2zm9 0h2v1h-2zm4 0h1v1h-1zm4 0h1v1h-1zm3 0h1v1h-1zm2 0h1v1h-1zm4 0h2v1h-2zm7 0h1v1h-1zm4 0h1v1h-1zm-80 1h5v1h-5zm7 0h4v1h-4zm6 0h2v1h-2zm7 0h1v1h-1zm3 0h1v1h-1zm4 0h1v1h-1zm6 0h2v1h-2zm3 0h1v1h-1zm5 0h1v1h-1zm2 0h1v1h-1zm2 0h3v1h-3zm5 0h2v1h-2zm3 0h1v1h-1zm2 0h3v1h-3zm4 0h2v1h-2zm3 0h3v1h-3zm5 0h1v1h-1zm2 0h1v1h-1zm-68 1h1v1h-1zm4 0h5v1h-5zm9 0h1v1h-1zm5 0h1v1h-1zm3 0h1v1h-1zm14 0h1v1h-1zm5 0h2v1h-2zm3 0h6v1h-6zm8 0h2v1h-2zm3 0h1v1h-1zm3 0h4v1h-4zm5 0h2v1h-2zm3 0h1v1h-1zm11 0h1v1h-1zm2 0h1v1h-1zm-81 1h1v1h-1zm2 0h2v1h-2zm3 0h1v1h-1zm4 0h1v1h-1zm2 0h1v1h-1zm3 0h1v1h-1zm3 0h2v1h-2zm18 0h1v1h-1zm5 0h1v1h-1zm3 0h1v1h-1zm2 0h1v1h-1zm3 0h4v1h-4zm6 0h3v1h-3zm4 0h3v1h-3zm4 0h3v1h-3zm6 0h1v1h-1zm3 0h1v1h-1zm2 0h1v1h-1zm9 0h1v1h-1zm-77 1h2v1h-2zm3 0h3v1h-3zm4 0h6v1h-6zm9 0h1v1h-1zm3 0h1v1h-1zm3 0h1v1h-1zm3 0h1v1h-1zm6 0h1v1h-1zm4 0h1v1h-1zm2 0h1v1h-1zm7 0h1v1h-1zm2 0h1v1h-1zm4 0h3v1h-3zm4 0h2v1h-2zm6 0h2v1h-2zm9 0h1v1h-1zm3 0h1v1h-1zm5 0h1v1h-1zm-79 1h4v1h-4zm6 0h2v1h-2zm3 0h2v1h-2zm3 0h1v1h-1zm3 0h1v1h-1zm2 0h2v1h-2zm18 0h2v1h-2zm3 0h1v1h-1zm4 0h1v1h-1zm2 0h1v1h-1zm2 0h1v1h-1zm2 0h1v1h-1zm4 0h1v1h-1zm2 0h2v1h-2zm3 0h6v1h-6zm23 0h1v1h-1zm2 0h1v1h-1zm-84 1h3v1h-3zm4 0h1v1h-1zm8 0h1v1h-1zm3 0h2v1h-2zm4 0h1v1h-1zm14 0h2v1h-2zm3 0h1v1h-1zm4 0h1v1h-1zm2 0h2v1h-2zm5 0h1v1h-1zm2 0h5v1h-5zm6 0h1v1h-1zm2 0h1v1h-1zm3 0h5v1h-5zm11 0h4v1h-4zm-65 1h1v1h-1zm2 0h2v1h-2zm3 0h1v1h-1zm5 0h1v1h-1zm16 0h1v1h-1zm2 0h1v1h-1zm2 0h9v1h-9zm10 0h1v1h-1zm2 0h1v1h-1zm2 0h4v1h-4zm5 0h2v1h-2zm3 0h7v1h-7zm8 0h1v1h-1zm8 0h1v1h-1zm4 0h1v1h-1zm-76 1h2v1h-2zm7 0h2v1h-2zm4 0h3v1h-3zm16 0h1v1h-1zm4 0h1v1h-1zm2 0h1v1h-1zm3 0h1v1h-1zm6 0h3v1h-3zm4 0h4v1h-4zm5 0h5v1h-5zm8 0h1v1h-1zm2 0h1v1h-1zm5 0h2v1h-2zm8 0h1v1h-1zm-74 1h4v1h-4zm6 0h3v1h-3zm5 0h2v1h-2zm4 0h1v1h-1zm9 0h1v1h-1zm10 0h1v1h-1zm3 0h1v1h-1zm2 0h1v1h-1zm2 0h1v1h-1zm3 0h1v1h-1zm2 0h4v1h-4zm6 0h1v1h-1zm3 0h4v1h-4zm5 0h2v1h-2zm3 0h2v1h-2zm5 0h4v1h-4zm-68 1h1v1h-1zm2 0h1v1h-1zm2 0h3v1h-3zm4 0h2v1h-2zm5 0h4v1h-4zm27 0h1v1h-1zm3 0h2v1h-2zm3 0h7v1h-7zm8 0h2v1h-2zm4 0h1v1h-1zm2 0h2v1h-2zm5 0h2v1h-2zm4 0h1v1h-1zm4 0h1v1h-1zm2 0h1v1h-1zm3 0h1v1h-1zm-80 1h2v1h-2zm3 0h1v1h-1zm3 0h11v1h-11zm12 0h2v1h-2zm12 0h1v1h-1zm5 0h1v1h-1zm7 0h1v1h-1zm2 0h1v1h-1zm3 0h2v1h-2zm4 0h1v1h-1zm3 0h1v1h-1zm3 0h1v1h-1zm2 0h2v1h-2zm4 0h1v1h-1zm2 0h1v1h-1zm2 0h1v1h-1zm8 0h2v1h-2zm6 0h3v1h-3zm-78 1h1v1h-1zm4 0h1v1h-1zm4 0h1v1h-1zm3 0h3v1h-3zm8 0h1v1h-1zm5 0h4v1h-4zm12 0h1v1h-1zm2 0h1v1h-1zm5 0h2v1h-2zm6 0h1v1h-1zm2 0h8v1h-8zm10 0h4v1h-4zm8 0h3v1h-3zm-70 1h2v1h-2zm3 0h2v1h-2zm3 0h2v1h-2zm3 0h1v1h-1zm2 0h2v1h-2zm3 0h1v1h-1zm2 0h2v1h-2zm7 0h1v1h-1zm11 0h2v1h-2zm4 0h2v1h-2zm4 0h2v1h-2zm4 0h1v1h-1zm4 0h1v1h-1zm2 0h3v1h-3zm4 0h1v1h-1zm3 0h2v1h-2zm5 0h1v1h-1zm2 0h1v1h-1zm3 0h1v1h-1zm14 0h1v1h-1zm-81 1h1v1h-1zm3 0h2v1h-2zm4 0h1v1h-1zm2 0h1v1h-1zm5 0h1v1h-1zm12 0h1v1h-1zm3 0h1v1h-1zm2 0h1v1h-1zm3 0h1v1h-1zm6 0h1v1h-1zm2 0h1v1h-1zm2 0h1v1h-1zm5 0h4v1h-4zm5 0h2v1h-2zm3 0h1v1h-1zm3 0h2v1h-2zm4 0h1v1h-1zm12 0h2v1h-2zm-81 1h1v1h-1zm2 0h1v1h-1zm3 0h1v1h-1zm3 0h3v1h-3zm4 0h1v1h-1zm2 0h2v1h-2zm3 0h1v1h-1zm8 0h1v1h-1zm6 0h1v1h-1zm5 0h1v1h-1zm2 0h2v1h-2zm4 0h1v1h-1zm5 0h7v1h-7zm8 0h1v1h-1zm2 0h3v1h-3zm4 0h3v1h-3zm4 0h1v1h-1zm6 0h1v1h-1zm2 0h1v1h-1zm3 0h1v1h-1zm3 0h1v1h-1zm2 0h1v1h-1zm-77 1h2v1h-2zm3 0h1v1h-1zm2 0h2v1h-2zm3 0h2v1h-2zm3 0h1v1h-1zm3 0h1v1h-1zm5 0h1v1h-1zm5 0h1v1h-1zm4 0h2v1h-2zm4 0h1v1h-1zm7 0h1v1h-1zm2 0h1v1h-1zm2 0h1v1h-1zm3 0h2v1h-2zm3 0h6v1h-6zm7 0h1v1h-1zm2 0h2v1h-2zm7 0h1v1h-1zm13 0h1v1h-1zm4 0h1v1h-1zm-86 1h1v1h-1zm4 0h7v1h-7zm9 0h1v1h-1zm2 0h2v1h-2zm3 0h2v1h-2zm5 0h1v1h-1zm2 0h2v1h-2zm3 0h2v1h-2zm8 0h1v1h-1zm5 0h3v1h-3zm5 0h3v1h-3zm5 0h2v1h-2zm4 0h1v1h-1zm3 0h2v1h-2zm3 0h1v1h-1zm2 0h2v1h-2zm6 0h1v1h-1zm7 0h1v1h-1zm2 0h1v1h-1zm3 0h1v1h-1zm6 0h1v1h-1zm-84 1h1v1h-1zm4 0h3v1h-3zm5 0h5v1h-5zm20 0h1v1h-1zm4 0h1v1h-1zm8 0h4v1h-4zm7 0h1v1h-1zm2 0h1v1h-1zm2 0h1v1h-1zm2 0h3v1h-3zm6 0h1v1h-1zm2 0h1v1h-1zm12 0h1v1h-1zm-75 1h3v1h-3zm6 0h3v1h-3zm6 0h4v1h-4zm8 0h1v1h-1zm11 0h1v1h-1zm11 0h1v1h-1zm3 0h2v1h-2zm3 0h1v1h-1zm6 0h2v1h-2zm3 0h1v1h-1zm2 0h3v1h-3zm5 0h1v1h-1zm16 0h1v1h-1zm-81 1h1v1h-1zm6 0h1v1h-1zm3 0h2v1h-2zm3 0h3v1h-3zm9 0h1v1h-1zm4 0h1v1h-1zm4 0h1v1h-1zm3 0h2v1h-2zm4 0h1v1h-1zm2 0h1v1h-1zm3 0h1v1h-1zm3 0h2v1h-2zm3 0h1v1h-1zm2 0h3v1h-3zm6 0h2v1h-2zm4 0h1v1h-1zm5 0h1v1h-1zm2 0h1v1h-1zm3 0h1v1h-1zm5 0h1v1h-1zm2 0h1v1h-1zm-72 1h1v1h-1zm2 0h1v1h-1zm2 0h1v1h-1zm2 0h1v1h-1zm3 0h1v1h-1zm3 0h1v1h-1zm2 0h1v1h-1zm22 0h3v1h-3zm4 0h1v1h-1zm2 0h4v1h-4zm6 0h2v1h-2zm6 0h1v1h-1zm4 0h3v1h-3zm7 0h1v1h-1zm-70 1h7v1h-7zm10 0h2v1h-2zm3 0h2v1h-2zm5 0h1v1h-1zm9 0h1v1h-1zm10 0h2v1h-2zm7 0h1v1h-1zm4 0h1v1h-1zm3 0h1v1h-1zm3 0h3v1h-3zm4 0h1v1h-1zm2 0h1v1h-1zm4 0h3v1h-3zm4 0h1v1h-1zm5 0h1v1h-1zm2 0h2v1h-2zm5 0h1v1h-1zm-76 1h1v1h-1zm2 0h3v1h-3zm4 0h1v1h-1zm2 0h1v1h-1zm4 0h2v1h-2zm3 0h1v1h-1zm12 0h2v1h-2zm7 0h1v1h-1zm4 0h1v1h-1zm2 0h1v1h-1zm6 0h1v1h-1zm5 0h1v1h-1zm4 0h1v1h-1zm2 0h1v1h-1zm7 0h1v1h-1zm2 0h1v1h-1zm-69 1h1v1h-1zm3 0h2v1h-2zm3 0h1v1h-1zm3 0h2v1h-2zm3 0h2v1h-2zm7 0h1v1h-1zm5 0h1v1h-1zm2 0h1v1h-1zm13 0h1v1h-1zm3 0h2v1h-2zm5 0h1v1h-1zm4 0h1v1h-1zm2 0h1v1h-1zm2 0h2v1h-2zm3 0h5v1h-5zm6 0h1v1h-1zm4 0h1v1h-1zm5 0h1v1h-1zm2 0h1v1h-1zm-73 1h1v1h-1zm4 0h1v1h-1zm3 0h2v1h-2zm10 0h1v1h-1zm2 0h1v1h-1zm8 0h1v1h-1zm5 0h1v1h-1zm4 0h1v1h-1zm2 0h1v1h-1zm4 0h2v1h-2zm5 0h2v1h-2zm8 0h2v1h-2zm9 0h1v1h-1zm4 0h1v1h-1zm3 0h1v1h-1zm23 0h1v1h-1zm-97 1h1v1h-1zm3 0h1v1h-1zm2 0h3v1h-3zm4 0h2v1h-2zm3 0h3v1h-3zm6 0h1v1h-1zm6 0h1v1h-1zm6 0h1v1h-1zm6 0h1v1h-1zm4 0h1v1h-1zm4 0h1v1h-1zm2 0h2v1h-2zm5 0h2v1h-2zm4 0h1v1h-1zm4 0h2v1h-2zm4 0h1v1h-1zm5 0h2v1h-2zm11 0h1v1h-1zm-78 1h1v1h-1zm2 0h1v1h-1zm3 0h2v1h-2zm5 0h1v1h-1zm3 0h1v1h-1zm2 0h1v1h-1zm13 0h2v1h-2zm6 0h2v1h-2zm5 0h1v1h-1zm6 0h1v1h-1zm2 0h2v1h-2zm3 0h2v1h-2zm3 0h1v1h-1zm2 0h3v1h-3zm4 0h2v1h-2zm9 0h1v1h-1zm2 0h1v1h-1zm12 0h1v1h-1zm-78 1h1v1h-1zm3 0h1v1h-1zm4 0h3v1h-3zm4 0h1v1h-1zm2 0h1v1h-1zm9 0h1v1h-1zm7 0h1v1h-1zm2 0h1v1h-1zm6 0h2v1h-2zm3 0h1v1h-1zm5 0h1v1h-1zm2 0h1v1h-1zm2 0h2v1h-2zm7 0h2v1h-2zm6 0h1v1h-1zm2 0h1v1h-1zm5 0h1v1h-1zm8 0h2v1h-2zm-82 1h2v1h-2zm6 0h1v1h-1zm3 0h2v1h-2zm5 0h3v1h-3zm7 0h1v1h-1zm16 0h1v1h-1zm2 0h1v1h-1zm8 0h1v1h-1zm5 0h1v1h-1zm2 0h1v1h-1zm3 0h1v1h-1zm2 0h2v1h-2zm7 0h1v1h-1zm2 0h1v1h-1zm2 0h1v1h-1zm2 0h1v1h-1zm9 0h1v1h-1zm3 0h1v1h-1zm-84 1h2v1h-2zm3 0h3v1h-3zm8 0h1v1h-1zm3 0h1v1h-1zm4 0h2v1h-2zm10 0h1v1h-1zm18 0h1v1h-1zm5 0h1v1h-1zm3 0h1v1h-1zm12 0h3v1h-3zm10 0h1v1h-1zm-75 1h1v1h-1zm4 0h1v1h-1zm3 0h2v1h-2zm4 0h2v1h-2zm4 0h3v1h-3zm7 0h2v1h-2zm9 0h1v1h-1zm6 0h1v1h-1zm12 0h2v1h-2zm3 0h1v1h-1zm2 0h1v1h-1zm4 0h4v1h-4zm7 0h1v1h-1zm15 0h1v1h-1zm-76 1h1v1h-1zm2 0h4v1h-4zm6 0h1v1h-1zm2 0h1v1h-1zm3 0h1v1h-1zm4 0h1v1h-1zm14 0h3v1h-3zm11 0h3v1h-3zm11 0h2v1h-2zm3 0h1v1h-1zm8 0h2v1h-2zm5 0h1v1h-1zm-72 1h6v1h-6zm7 0h1v1h-1zm2 0h2v1h-2zm3 0h2v1h-2zm3 0h2v1h-2zm16 0h1v1h-1zm14 0h2v1h-2zm4 0h2v1h-2zm11 0h1v1h-1zm2 0h1v1h-1zm4 0h1v1h-1zm2 0h1v1h-1zm2 0h2v1h-2zm5 0h1v1h-1zm7 0h1v1h-1zm-82 1h2v1h-2zm5 0h2v1h-2zm4 0h3v1h-3zm5 0h1v1h-1zm3 0h2v1h-2zm5 0h1v1h-1zm12 0h1v1h-1zm2 0h1v1h-1zm5 0h1v1h-1zm11 0h2v1h-2zm5 0h1v1h-1zm5 0h2v1h-2zm11 0h1v1h-1zm-74 1h3v1h-3zm4 0h2v1h-2zm3 0h2v1h-2zm3 0h2v1h-2zm6 0h1v1h-1zm2 0h1v1h-1zm2 0h1v1h-1zm6 0h1v1h-1zm10 0h1v1h-1zm10 0h1v1h-1zm5 0h2v1h-2zm5 0h3v1h-3zm5 0h3v1h-3zm6 0h1v1h-1zm6 0h1v1h-1zm-69 1h2v1h-2zm4 0h1v1h-1zm2 0h2v1h-2zm6 0h2v1h-2zm14 0h2v1h-2zm3 0h1v1h-1zm5 0h1v1h-1zm5 0h1v1h-1zm5 0h1v1h-1zm2 0h2v1h-2zm7 0h1v1h-1zm7 0h1v1h-1zm10 0h1v1h-1zm4 0h1v1h-1zm3 0h1v1h-1zm-78 1h1v1h-1zm4 0h3v1h-3zm5 0h5v1h-5zm9 0h1v1h-1zm32 0h2v1h-2zm3 0h1v1h-1zm3 0h1v1h-1zm-56 1h5v1h-5zm6 0h7v1h-7zm9 0h1v1h-1zm3 0h3v1h-3zm4 0h1v1h-1zm11 0h1v1h-1zm2 0h1v1h-1zm2 0h3v1h-3zm8 0h2v1h-2zm4 0h1v1h-1zm3 0h2v1h-2zm3 0h5v1h-5zm6 0h1v1h-1zm4 0h2v1h-2zm6 0h1v1h-1zm2 0h1v1h-1zm3 0h2v1h-2zm-79 1h1v1h-1zm2 0h1v1h-1zm2 0h1v1h-1zm2 0h1v1h-1zm3 0h1v1h-1zm6 0h1v1h-1zm2 0h2v1h-2zm3 0h2v1h-2zm7 0h1v1h-1zm3 0h3v1h-3zm4 0h2v1h-2zm8 0h2v1h-2zm3 0h2v1h-2zm7 0h1v1h-1zm2 0h2v1h-2zm3 0h2v1h-2zm5 0h1v1h-1zm7 0h3v1h-3zm4 0h1v1h-1zm4 0h1v1h-1zm4 0h2v1h-2zm-80 1h1v1h-1zm4 0h1v1h-1zm2 0h1v1h-1zm2 0h6v1h-6zm7 0h1v1h-1zm2 0h2v1h-2zm3 0h1v1h-1zm2 0h2v1h-2zm9 0h2v1h-2zm4 0h3v1h-3zm6 0h4v1h-4zm9 0h3v1h-3zm5 0h1v1h-1zm2 0h1v1h-1zm2 0h1v1h-1zm9 0h1v1h-1zm2 0h1v1h-1zm2 0h1v1h-1zm2 0h1v1h-1zm2 0h1v1h-1zm4 0h1v1h-1zm4 0h3v1h-3zm-80 1h1v1h-1zm3 0h2v1h-2zm3 0h2v1h-2zm3 0h1v1h-1zm2 0h4v1h-4zm5 0h3v1h-3zm9 0h4v1h-4zm6 0h4v1h-4zm5 0h3v1h-3zm4 0h1v1h-1zm2 0h3v1h-3zm4 0h2v1h-2zm4 0h7v1h-7zm8 0h3v1h-3zm5 0h1v1h-1zm2 0h1v1h-1zm3 0h2v1h-2zm7 0h1v1h-1zm-80 1h3v1h-3zm4 0h1v1h-1zm2 0h1v1h-1zm2 0h2v1h-2zm4 0h1v1h-1zm4 0h1v1h-1zm10 0h3v1h-3zm4 0h1v1h-1zm2 0h1v1h-1zm2 0h2v1h-2zm4 0h4v1h-4zm5 0h1v1h-1zm2 0h4v1h-4zm5 0h4v1h-4zm5 0h1v1h-1zm3 0h2v1h-2zm4 0h1v1h-1zm2 0h3v1h-3zm4 0h3v1h-3zm4 0h1v1h-1zm5 0h1v1h-1zm2 0h4v1h-4zm-79 1h2v1h-2zm3 0h1v1h-1zm2 0h2v1h-2zm3 0h1v1h-1zm4 0h3v1h-3zm5 0h1v1h-1zm4 0h1v1h-1zm3 0h1v1h-1zm9 0h1v1h-1zm2 0h3v1h-3zm4 0h3v1h-3zm4 0h1v1h-1zm3 0h1v1h-1zm2 0h4v1h-4zm6 0h4v1h-4zm5 0h1v1h-1zm2 0h3v1h-3zm4 0h4v1h-4zm5 0h1v1h-1zm3 0h1v1h-1zm5 0h2v1h-2zm7 0h1v1h-1zm-83 1h2v1h-2zm4 0h1v1h-1zm2 0h3v1h-3zm4 0h1v1h-1zm2 0h3v1h-3zm4 0h2v1h-2zm4 0h2v1h-2zm3 0h1v1h-1zm4 0h5v1h-5zm8 0h1v1h-1zm3 0h6v1h-6zm7 0h1v1h-1zm3 0h5v1h-5zm6 0h3v1h-3zm6 0h1v1h-1zm3 0h2v1h-2zm3 0h3v1h-3zm4 0h3v1h-3zm4 0h1v1h-1zm2 0h1v1h-1zm2 0h2v1h-2zm3 0h1v1h-1zm-80 1h1v1h-1zm2 0h1v1h-1zm4 0h2v1h-2zm3 0h6v1h-6zm7 0h2v1h-2zm3 0h8v1h-8zm9 0h2v1h-2zm3 0h2v1h-2zm3 0h5v1h-5zm6 0h9v1h-9zm10 0h3v1h-3zm4 0h1v1h-1zm2 0h10v1h-10zm12 0h1v1h-1zm2 0h2v1h-2zm5 0h1v1h-1zm3 0h1v1h-1zm3 0h2v1h-2zm-80 1h1v1h-1zm2 0h9v1h-9zm10 0h4v1h-4zm5 0h5v1h-5zm6 0h1v1h-1zm3 0h2v1h-2zm3 0h16v1h-16zm17 0h4v1h-4zm5 0h6v1h-6zm7 0h2v1h-2zm3 0h5v1h-5zm6 0h11v1h-11zm12 0h1v1h-1zm3 0h1v1h-1zm-83 1h2v1h-2zm3 0h2v1h-2zm3 0h11v1h-11zm13 0h1v1h-1zm2 0h1v1h-1zm2 0h2v1h-2zm3 0h5v1h-5zm6 0h2v1h-2zm3 0h14v1h-14zm15 0h14v1h-14zm15 0h1v1h-1zm2 0h6v1h-6zm7 0h2v1h-2zm3 0h1v1h-1zm5 0h1v1h-1zm-82 1h2v1h-2zm3 0h1v1h-1zm3 0h2v1h-2zm3 0h4v1h-4zm6 0h5v1h-5zm6 0h4v1h-4zm5 0h3v1h-3zm4 0h1v1h-1zm2 0h13v1h-13zm14 0h6v1h-6zm7 0h2v1h-2zm4 0h25v1h-25zm-57 1h14v1h-14zm15 0h2v1h-2zm4 0h2v1h-2zm4 0h2v1h-2zm3 0h5v1h-5zm6 0h2v1h-2zm3 0h27v1h-27zm28 0h14v1h-14zm17 0h1v1h-1zm2 0h1v1h-1zm-81 1h8v1h-8zm11 0h6v1h-6zm9 0h23v1h-23zm24 0h3v1h-3zm5 0h1v1h-1zm2 0h14v1h-14zm15 0h1v1h-1zm2 0h3v1h-3zm5 0h1v1h-1zm2 0h1v1h-1zm2 0h1v1h-1zm3 0h1v1h-1zm-80 1h1v1h-1zm2 0h3v1h-3zm4 0h1v1h-1zm4 0h9v1h-9zm10 0h5v1h-5zm6 0h7v1h-7zm8 0h5v1h-5zm6 0h9v1h-9zm10 0h5v1h-5zm7 0h22v1h-22zm-56 1h3v1h-3zm4 0h1v1h-1zm2 0h6v1h-6zm7 0h2v1h-2zm3 0h5v1h-5zm7 0h4v1h-4zm5 0h2v1h-2zm3 0h3v1h-3zm4 0h3v1h-3zm4 0h3v1h-3zm4 0h2v1h-2zm3 0h1v1h-1zm2 0h6v1h-6zm7 0h1v1h-1zm2 0h3v1h-3zm4 0h2v1h-2zm4 0h3v1h-3zm4 0h9v1h-9zm-73 1h1v1h-1zm6 0h1v1h-1zm2 0h1v1h-1zm2 0h3v1h-3zm4 0h1v1h-1zm2 0h5v1h-5zm6 0h1v1h-1zm2 0h4v1h-4zm5 0h4v1h-4zm5 0h1v1h-1zm2 0h14v1h-14zm15 0h10v1h-10zm11 0h3v1h-3zm5 0h4v1h-4zm5 0h2v1h-2zm3 0h7v1h-7zm-75 1h1v1h-1zm6 0h8v1h-8zm9 0h6v1h-6zm7 0h2v1h-2zm3 0h2v1h-2zm5 0h13v1h-13zm14 0h3v1h-3zm4 0h10v1h-10zm12 0h11v1h-11zm12 0h9v1h-9zm10 0h1v1h-1zm-80 1h2v1h-2zm4 0h4v1h-4zm5 0h8v1h-8zm9 0h1v1h-1zm2 0h4v1h-4zm5 0h3v1h-3zm4 0h2v1h-2zm3 0h2v1h-2zm3 0h2v1h-2zm3 0h7v1h-7zm8 0h1v1h-1zm2 0h4v1h-4zm5 0h16v1h-16zm17 0h3v1h-3zm5 0h5v1h-5zm6 0h2v1h-2zm-81 1h1v1h-1zm3 0h5v1h-5zm6 0h5v1h-5zm6 0h1v1h-1zm2 0h8v1h-8zm9 0h9v1h-9zm10 0h5v1h-5zm6 0h19v1h-19zm20 0h14v1h-14zm15 0h3v1h-3zm-75 1h1v1h-1zm2 0h4v1h-4zm5 0h5v1h-5zm8 0h5v1h-5zm6 0h4v1h-4zm5 0h14v1h-14zm15 0h3v1h-3zm4 0h2v1h-2zm4 0h10v1h-10zm13 0h6v1h-6zm7 0h1v1h-1zm2 0h3v1h-3zm4 0h5v1h-5zm-75 1h5v1h-5zm6 0h15v1h-15zm17 0h6v1h-6zm7 0h3v1h-3zm7 0h4v1h-4zm5 0h3v1h-3zm4 0h6v1h-6zm7 0h4v1h-4zm5 0h11v1h-11zm13 0h4v1h-4zm5 0h2v1h-2zm-78 1h11v1h-11zm13 0h2v1h-2zm3 0h4v1h-4zm5 0h4v1h-4zm5 0h1v1h-1zm2 0h2v1h-2zm3 0h9v1h-9zm11 0h2v1h-2zm3 0h9v1h-9zm10 0h5v1h-5zm6 0h2v1h-2zm3 0h9v1h-9zm11 0h1v1h-1zm2 0h2v1h-2zm4 0h1v1h-1zm2 0h1v1h-1zm-84 1h1v1h-1zm6 0h7v1h-7zm8 0h1v1h-1zm2 0h7v1h-7zm8 0h5v1h-5zm6 0h4v1h-4zm5 0h5v1h-5zm6 0h8v1h-8zm9 0h8v1h-8zm10 0h3v1h-3zm4 0h2v1h-2zm3 0h9v1h-9zm11 0h2v1h-2zm6 0h1v1h-1zm-86 1h1v1h-1zm3 0h1v1h-1zm2 0h1v1h-1zm2 0h1v1h-1zm3 0h4v1h-4zm5 0h1v1h-1zm2 0h1v1h-1zm2 0h3v1h-3zm4 0h3v1h-3zm4 0h7v1h-7zm9 0h4v1h-4zm5 0h4v1h-4zm5 0h7v1h-7zm8 0h1v1h-1zm2 0h6v1h-6zm7 0h5v1h-5zm6 0h2v1h-2zm3 0h12v1h-12zm13 0h1v1h-1zm-82 1h1v1h-1zm3 0h3v1h-3zm4 0h6v1h-6zm7 0h3v1h-3zm6 0h1v1h-1zm2 0h1v1h-1zm2 0h2v1h-2zm3 0h16v1h-16zm17 0h1v1h-1zm2 0h1v1h-1zm4 0h1v1h-1zm2 0h6v1h-6zm9 0h11v1h-11zm12 0h1v1h-1zm2 0h5v1h-5zm-75 1h2v1h-2zm3 0h1v1h-1zm3 0h8v1h-8zm9 0h2v1h-2zm4 0h6v1h-6zm7 0h14v1h-14zm15 0h1v1h-1zm2 0h2v1h-2zm4 0h5v1h-5zm6 0h5v1h-5zm6 0h4v1h-4zm5 0h3v1h-3zm4 0h1v1h-1zm2 0h6v1h-6zm7 0h1v1h-1zm2 0h2v1h-2zm3 0h1v1h-1zm-82 1h1v1h-1zm2 0h2v1h-2zm3 0h4v1h-4zm6 0h2v1h-2zm3 0h1v1h-1zm2 0h5v1h-5zm6 0h5v1h-5zm6 0h2v1h-2zm3 0h1v1h-1zm2 0h2v1h-2zm3 0h7v1h-7zm9 0h5v1h-5zm7 0h1v1h-1zm2 0h3v1h-3zm4 0h7v1h-7zm8 0h11v1h-11zm12 0h4v1h-4zm5 0h1v1h-1zm-86 1h1v1h-1zm2 0h2v1h-2zm3 0h4v1h-4zm5 0h4v1h-4zm5 0h6v1h-6zm9 0h1v1h-1zm2 0h15v1h-15zm16 0h6v1h-6zm7 0h17v1h-17zm18 0h1v1h-1zm2 0h6v1h-6zm7 0h7v1h-7zm10 0h1v1h-1zm-85 1h1v1h-1zm4 0h6v1h-6zm7 0h3v1h-3zm4 0h4v1h-4zm6 0h2v1h-2zm4 0h2v1h-2zm3 0h17v1h-17zm19 0h5v1h-5zm6 0h8v1h-8zm9 0h5v1h-5zm6 0h3v1h-3zm5 0h5v1h-5zm7 0h1v1h-1zm3 0h1v1h-1zm2 0h1v1h-1zm-83 1h4v1h-4zm5 0h17v1h-17zm18 0h3v1h-3zm4 0h3v1h-3zm4 0h2v1h-2zm3 0h19v1h-19zm20 0h4v1h-4zm5 0h1v1h-1zm2 0h3v1h-3zm4 0h4v1h-4zm7 0h6v1h-6zm9 0h2v1h-2zm-83 1h1v1h-1zm2 0h2v1h-2zm3 0h3v1h-3zm4 0h7v1h-7zm8 0h3v1h-3zm4 0h2v1h-2zm3 0h3v1h-3zm4 0h3v1h-3zm4 0h5v1h-5zm6 0h5v1h-5zm6 0h9v1h-9zm10 0h3v1h-3zm4 0h4v1h-4zm5 0h7v1h-7zm8 0h7v1h-7zm-67 1h4v1h-4zm6 0h1v1h-1zm2 0h3v1h-3zm4 0h1v1h-1zm4 0h3v1h-3zm4 0h2v1h-2zm5 0h7v1h-7zm8 0h1v1h-1zm2 0h6v1h-6zm7 0h1v1h-1zm2 0h2v1h-2zm3 0h1v1h-1zm2 0h2v1h-2zm3 0h1v1h-1zm3 0h4v1h-4zm5 0h3v1h-3zm4 0h1v1h-1zm2 0h6v1h-6zm7 0h4v1h-4zm-75 1h1v1h-1zm2 0h4v1h-4zm5 0h1v1h-1zm2 0h1v1h-1zm3 0h4v1h-4zm6 0h1v1h-1zm2 0h1v1h-1zm2 0h2v1h-2zm3 0h8v1h-8zm10 0h8v1h-8zm10 0h5v1h-5zm7 0h1v1h-1zm2 0h2v1h-2zm3 0h1v1h-1zm2 0h2v1h-2zm3 0h1v1h-1zm4 0h4v1h-4zm6 0h1v1h-1zm2 0h1v1h-1zm2 0h1v1h-1zm3 0h1v1h-1zm2 0h1v1h-1zm-80 1h1v1h-1zm3 0h1v1h-1zm3 0h1v1h-1zm2 0h3v1h-3zm8 0h2v1h-2zm5 0h2v1h-2zm3 0h1v1h-1zm6 0h1v1h-1zm4 0h2v1h-2zm3 0h2v1h-2zm3 0h2v1h-2zm4 0h1v1h-1zm2 0h1v1h-1zm3 0h1v1h-1zm3 0h6v1h-6zm8 0h4v1h-4zm11 0h3v1h-3zm6 0h1v1h-1zm-67 1h1v1h-1zm8 0h1v1h-1zm2 0h2v1h-2zm5 0h1v1h-1zm5 0h2v1h-2zm4 0h1v1h-1zm4 0h1v1h-1zm4 0h2v1h-2zm7 0h1v1h-1zm4 0h1v1h-1zm2 0h2v1h-2zm4 0h1v1h-1zm3 0h1v1h-1zm3 0h2v1h-2zm6 0h2v1h-2zm-75 1h1v1h-1zm3 0h5v1h-5zm6 0h1v1h-1zm4 0h1v1h-1zm6 0h1v1h-1zm2 0h1v1h-1zm3 0h1v1h-1zm2 0h1v1h-1zm2 0h1v1h-1zm2 0h1v1h-1zm2 0h1v1h-1zm5 0h1v1h-1zm6 0h1v1h-1zm2 0h3v1h-3zm5 0h1v1h-1zm6 0h1v1h-1zm5 0h2v1h-2zm4 0h2v1h-2zm3 0h1v1h-1zm2 0h1v1h-1zm3 0h2v1h-2zm5 0h1v1h-1zm2 0h1v1h-1zm2 0h1v1h-1zm-79 1h1v1h-1zm10 0h1v1h-1zm2 0h2v1h-2zm4 0h1v1h-1zm5 0h1v1h-1zm2 0h1v1h-1zm3 0h3v1h-3zm7 0h1v1h-1zm3 0h1v1h-1zm7 0h1v1h-1zm14 0h1v1h-1zm4 0h1v1h-1zm12 0h1v1h-1zm5 0h1v1h-1zm4 0h1v1h-1zm-74 1h1v1h-1zm2 0h1v1h-1zm3 0h1v1h-1zm5 0h2v1h-2zm3 0h2v1h-2zm9 0h1v1h-1zm8 0h2v1h-2zm13 0h1v1h-1zm6 0h2v1h-2zm4 0h1v1h-1zm18 0h1v1h-1zm-73 1h1v1h-1zm6 0h1v1h-1zm10 0h2v1h-2zm14 0h1v1h-1zm9 0h1v1h-1zm4 0h1v1h-1zm9 0h1v1h-1zm4 0h1v1h-1zm12 0h1v1h-1z"/>
<path fill="#1a70ee" d="M626 78h1v1h-1zm7 1h1v1h-1zm-33 1h1v1h-1zm3 0h1v1h-1zm8 0h1v1h-1zm12 0h1v1h-1zm4 0h1v1h-1zm-23 1h1v1h-1zm3 0h1v1h-1zm10 0h1v1h-1zm6 0h1v1h-1zm6 0h1v1h-1zm-27 1h1v1h-1zm3 0h1v1h-1zm25 0h1v1h-1zm-30 1h1v1h-1zm8 0h2v1h-2zm6 0h1v1h-1zm3 0h1v1h-1zm3 0h1v1h-1zm10 0h1v1h-1zm2 0h1v1h-1zm-36 1h2v1h-2zm4 0h1v1h-1zm2 0h1v1h-1zm4 0h1v1h-1zm4 0h2v1h-2zm5 0h1v1h-1zm3 0h2v1h-2zm6 0h3v1h-3zm4 0h1v1h-1zm8 0h1v1h-1zm-37 1h2v1h-2zm3 0h1v1h-1zm3 0h1v1h-1zm2 0h3v1h-3zm6 0h3v1h-3zm5 0h2v1h-2zm4 0h2v1h-2zm3 0h1v1h-1zm5 0h1v1h-1zm3 0h2v1h-2zm-37 1h2v1h-2zm3 0h2v1h-2zm3 0h3v1h-3zm4 0h2v1h-2zm5 0h1v1h-1zm2 0h1v1h-1zm2 0h5v1h-5zm6 0h1v1h-1zm2 0h3v1h-3zm5 0h2v1h-2zm5 0h1v1h-1zm3 0h1v1h-1zm-37 1h2v1h-2zm4 0h1v1h-1zm2 0h1v1h-1zm2 0h3v1h-3zm4 0h3v1h-3zm4 0h9v1h-9zm10 0h6v1h-6zm12 0h1v1h-1zm-42 1h2v1h-2zm4 0h1v1h-1zm3 0h25v1h-25zm26 0h3v1h-3zm8 0h1v1h-1zm-41 1h2v1h-2zm6 0h2v1h-2zm3 0h17v1h-17zm18 0h1v1h-1zm2 0h2v1h-2zm3 0h6v1h-6zm-32 1h7v1h-7zm8 0h29v1h-29zm30 0h2v1h-2zm6 0h1v1h-1zm-39 1h32v1h-32zm33 0h1v1h-1zm-33 1h2v1h-2zm3 0h30v1h-30zm33 0h2v1h-2zm-38 1h1v1h-1zm2 0h2v1h-2zm4 0h6v1h-6zm7 0h19v1h-19zm20 0h3v1h-3zm5 0h1v1h-1zm-40 1h2v1h-2zm3 0h1v1h-1zm2 0h23v1h-23zm24 0h5v1h-5zm6 0h4v1h-4zm7 0h1v1h-1zm2 0h1v1h-1zm-44 1h3v1h-3zm4 0h34v1h-34zm-5 1h1v1h-1zm2 0h1v1h-1zm2 0h1v1h-1zm2 0h36v1h-36zm40 0h1v1h-1zm-43 1h4v1h-4zm5 0h27v1h-27zm29 0h2v1h-2zm3 0h1v1h-1zm4 0h1v1h-1zm-44 1h1v1h-1zm2 0h2v1h-2zm4 0h17v1h-17zm18 0h14v1h-14zm15 0h2v1h-2zm3 0h1v1h-1zm-42 1h2v1h-2zm3 0h2v1h-2zm3 0h1v1h-1zm2 0h6v1h-6zm7 0h9v1h-9zm10 0h11v1h-11zm13 0h1v1h-1zm6 0h1v1h-1zm-41 1h1v1h-1zm2 0h1v1h-1zm2 0h14v1h-14zm15 0h14v1h-14zm15 0h1v1h-1zm3 0h1v1h-1zm2 0h1v1h-1zm2 0h1v1h-1zm2 0h1v1h-1zm-46 1h3v1h-3zm4 0h31v1h-31zm32 0h3v1h-3zm4 0h1v1h-1zm2 0h4v1h-4zm8 0h1v1h-1zm-50 1h1v1h-1zm3 0h32v1h-32zm33 0h4v1h-4zm-36 1h1v1h-1zm2 0h21v1h-21zm22 0h9v1h-9zm10 0h2v1h-2zm3 0h2v1h-2zm4 0h1v1h-1zm3 0h1v1h-1zm6 0h1v1h-1zm-50 1h2v1h-2zm4 0h6v1h-6zm7 0h25v1h-25zm26 0h4v1h-4zm5 0h1v1h-1zm-41 1h25v1h-25zm26 0h13v1h-13zm14 0h1v1h-1zm2 0h1v1h-1zm-42 1h1v1h-1zm2 0h2v1h-2zm3 0h14v1h-14zm15 0h3v1h-3zm4 0h16v1h-16zm17 0h2v1h-2zm-42 1h1v1h-1zm2 0h2v1h-2zm3 0h33v1h-33zm37 0h1v1h-1zm4 0h2v1h-2zm-46 1h1v1h-1zm2 0h39v1h-39zm41 0h1v1h-1zm-43 1h5v1h-5zm6 0h33v1h-33zm34 0h1v1h-1zm2 0h3v1h-3zm-42 1h39v1h-39zm40 0h1v1h-1zm2 0h1v1h-1zm-41 1h42v1h-42zm-1 1h3v1h-3zm4 0h35v1h-35zm37 0h1v1h-1zm5 0h1v1h-1zm-46 1h1v1h-1zm2 0h37v1h-37zm38 0h2v1h-2zm11 0h1v1h-1zm-50 1h23v1h-23zm24 0h14v1h-14zm15 0h3v1h-3zm6 0h1v1h-1zm-46 1h1v1h-1zm3 0h1v1h-1zm2 0h34v1h-34zm35 0h2v1h-2zm8 0h1v1h-1zm-48 1h1v1h-1zm2 0h1v1h-1zm2 0h28v1h-28zm29 0h4v1h-4zm5 0h1v1h-1zm3 0h1v1h-1zm8 0h1v1h-1zm-47 1h1v1h-1zm2 0h12v1h-12zm13 0h20v1h-20zm22 0h1v1h-1zm3 0h2v1h-2zm5 0h1v1h-1zm-47 1h1v1h-1zm4 0h34v1h-34zm37 0h2v1h-2zm-38 1h37v1h-37zm38 0h1v1h-1zm-41 1h1v1h-1zm2 0h4v1h-4zm5 0h34v1h-34zm44 0h1v1h-1zm-51 1h3v1h-3zm4 0h5v1h-5zm6 0h17v1h-17zm18 0h9v1h-9zm10 0h2v1h-2zm4 0h2v1h-2zm-42 1h3v1h-3zm4 0h30v1h-30zm31 0h5v1h-5zm6 0h1v1h-1zm-41 1h1v1h-1zm2 0h39v1h-39zm41 0h1v1h-1zm-43 1h1v1h-1zm2 0h35v1h-35zm39 0h1v1h-1zm-41 1h1v1h-1zm2 0h40v1h-40zm-1 1h3v1h-3zm4 0h11v1h-11zm12 0h23v1h-23zm-17 1h1v1h-1zm2 0h3v1h-3zm4 0h18v1h-18zm19 0h14v1h-14zm15 0h1v1h-1zm3 0h1v1h-1zm-41 1h3v1h-3zm4 0h16v1h-16zm17 0h15v1h-15zm16 0h1v1h-1zm3 0h1v1h-1zm6 0h1v1h-1zm-48 1h1v1h-1zm3 0h3v1h-3zm4 0h11v1h-11zm12 0h2v1h-2zm3 0h4v1h-4zm5 0h14v1h-14zm-26 1h1v1h-1zm2 0h1v1h-1zm2 0h31v1h-31zm32 0h2v1h-2zm4 0h2v1h-2zm-41 1h1v1h-1zm4 0h39v1h-39zm0 1h33v1h-33zm35 0h1v1h-1zm2 0h2v1h-2zm-40 1h1v1h-1zm2 0h2v1h-2zm3 0h14v1h-14zm15 0h15v1h-15zm16 0h2v1h-2zm-37 1h2v1h-2zm3 0h17v1h-17zm18 0h16v1h-16zm20 0h1v1h-1zm2 0h1v1h-1zm-43 1h2v1h-2zm6 0h18v1h-18zm19 0h11v1h-11zm13 0h1v1h-1zm2 0h2v1h-2zm-39 1h11v1h-11zm12 0h13v1h-13zm14 0h14v1h-14zm20 0h1v1h-1zm-45 1h1v1h-1zm3 0h1v1h-1zm2 0h19v1h-19zm20 0h12v1h-12zm-27 1h1v1h-1zm2 0h27v1h-27zm28 0h4v1h-4zm5 0h3v1h-3zm7 0h1v1h-1zm-42 1h2v1h-2zm3 0h3v1h-3zm4 0h4v1h-4zm5 0h27v1h-27zm28 0h1v1h-1zm3 0h1v1h-1zm3 0h1v1h-1zm-46 1h1v1h-1zm2 0h10v1h-10zm11 0h26v1h-26zm27 0h1v1h-1zm2 0h1v1h-1zm-39 1h1v1h-1zm3 0h1v1h-1zm2 0h8v1h-8zm9 0h17v1h-17zm18 0h1v1h-1zm3 0h1v1h-1zm2 0h2v1h-2zm-40 1h1v1h-1zm4 0h5v1h-5zm6 0h24v1h-24zm25 0h2v1h-2zm4 0h1v1h-1zm6 0h1v1h-1zm-43 1h2v1h-2zm3 0h1v1h-1zm2 0h2v1h-2zm3 0h25v1h-25zm27 0h1v1h-1zm3 0h1v1h-1zm-40 1h1v1h-1zm4 0h5v1h-5zm6 0h2v1h-2zm3 0h14v1h-14zm15 0h8v1h-8zm9 0h1v1h-1zm2 0h2v1h-2zm4 0h1v1h-1zm-39 1h7v1h-7zm8 0h8v1h-8zm9 0h15v1h-15zm17 0h1v1h-1zm4 0h1v1h-1zm-37 1h1v1h-1zm2 0h1v1h-1zm3 0h25v1h-25zm29 0h1v1h-1zm-39 1h1v1h-1zm3 0h1v1h-1zm2 0h1v1h-1zm2 0h8v1h-8zm9 0h15v1h-15zm16 0h4v1h-4zm5 0h1v1h-1zm2 0h1v1h-1zm2 0h1v1h-1zm2 0h1v1h-1zm-43 1h1v1h-1zm3 0h1v1h-1zm2 0h1v1h-1zm2 0h17v1h-17zm18 0h5v1h-5zm6 0h1v1h-1zm2 0h3v1h-3zm6 0h1v1h-1zm3 0h1v1h-1zm-41 1h1v1h-1zm2 0h3v1h-3zm4 0h4v1h-4zm5 0h13v1h-13zm14 0h3v1h-3zm4 0h6v1h-6zm8 0h1v1h-1zm2 0h1v1h-1zm2 0h1v1h-1zm-39 1h2v1h-2zm3 0h1v1h-1zm2 0h16v1h-16zm17 0h1v1h-1zm2 0h7v1h-7zm8 0h2v1h-2zm-35 1h1v1h-1zm5 0h1v1h-1zm2 0h1v1h-1zm2 0h20v1h-20zm21 0h1v1h-1zm2 0h3v1h-3zm4 0h4v1h-4zm-36 1h1v1h-1zm4 0h1v1h-1zm3 0h10v1h-10zm11 0h10v1h-10zm11 0h1v1h-1zm2 0h1v1h-1zm2 0h5v1h-5zm6 0h1v1h-1zm-38 1h2v1h-2zm4 0h2v1h-2zm4 0h1v1h-1zm2 0h1v1h-1zm2 0h1v1h-1zm2 0h5v1h-5zm6 0h7v1h-7zm8 0h3v1h-3zm4 0h3v1h-3zm5 0h3v1h-3zm4 0h1v1h-1zm-42 1h2v1h-2zm3 0h1v1h-1zm2 0h1v1h-1zm2 0h1v1h-1zm3 0h5v1h-5zm7 0h2v1h-2zm4 0h3v1h-3zm4 0h2v1h-2zm6 0h2v1h-2zm3 0h1v1h-1zm3 0h1v1h-1zm-35 1h1v1h-1zm4 0h2v1h-2zm3 0h1v1h-1zm2 0h1v1h-1zm4 0h1v1h-1zm2 0h2v1h-2zm6 0h1v1h-1zm2 0h1v1h-1zm2 0h3v1h-3zm4 0h1v1h-1zm2 0h1v1h-1zm3 0h1v1h-1zm4 0h2v1h-2zm-36 1h8v1h-8zm14 0h1v1h-1zm3 0h1v1h-1zm3 0h6v1h-6zm11 0h1v1h-1zm-33 1h1v1h-1zm2 0h1v1h-1zm6 0h1v1h-1zm3 0h2v1h-2zm5 0h1v1h-1zm3 0h1v1h-1zm2 0h1v1h-1zm5 0h1v1h-1zm2 0h2v1h-2zm6 0h1v1h-1zm2 0h1v1h-1zm-38 1h2v1h-2zm12 0h1v1h-1zm8 0h1v1h-1zm4 0h1v1h-1zm6 0h1v1h-1zm3 0h1v1h-1zm2 0h1v1h-1zm-33 1h1v1h-1zm6 0h1v1h-1zm8 0h1v1h-1zm3 0h1v1h-1zm9 0h1v1h-1zm2 0h1v1h-1zm9 0h1v1h-1zm-29 1h1v1h-1zm4 0h1v1h-1zm6 0h3v1h-3zm8 0h1v1h-1zm3 0h1v1h-1zm2 0h1v1h-1zm-25 1h1v1h-1zm2 0h1v1h-1zm9 0h1v1h-1zm-5 1h1v1h-1zm19 0h1v1h-1z"/>
<path fill="#650068" d="M562 28h1v1h-1zm-37 1h1v1h-1zm9 0h1v1h-1zm13 0h1v1h-1zm9 0h1v1h-1zm-20 1h1v1h-1zm2 0h1v1h-1zm5 0h1v1h-1zm16 0h1v1h-1zm3 0h1v1h-1zm-29 1h1v1h-1zm2 0h2v1h-2zm4 0h1v1h-1zm7 0h2v1h-2zm4 0h1v1h-1zm2 0h2v1h-2zm5 0h2v1h-2zm-38 1h1v1h-1zm8 0h1v1h-1zm2 0h3v1h-3zm5 0h1v1h-1zm2 0h2v1h-2zm9 0h3v1h-3zm4 0h1v1h-1zm2 0h1v1h-1zm6 0h1v1h-1zm8 0h1v1h-1zm4 0h1v1h-1zm-47 1h1v1h-1zm6 0h1v1h-1zm4 0h6v1h-6zm7 0h1v1h-1zm2 0h2v1h-2zm3 0h1v1h-1zm2 0h4v1h-4zm7 0h1v1h-1zm6 0h3v1h-3zm5 0h1v1h-1zm6 0h1v1h-1zm-51 1h1v1h-1zm3 0h1v1h-1zm3 0h4v1h-4zm6 0h3v1h-3zm4 0h12v1h-12zm13 0h1v1h-1zm2 0h7v1h-7zm8 0h2v1h-2zm3 0h1v1h-1zm2 0h2v1h-2zm-44 1h1v1h-1zm2 0h1v1h-1zm2 0h1v1h-1zm2 0h2v1h-2zm5 0h2v1h-2zm3 0h10v1h-10zm11 0h12v1h-12zm13 0h2v1h-2zm3 0h1v1h-1zm2 0h1v1h-1zm13 0h1v1h-1zm-58 1h1v1h-1zm2 0h1v1h-1zm2 0h2v1h-2zm3 0h31v1h-31zm32 0h6v1h-6zm7 0h2v1h-2zm14 0h1v1h-1zm-57 1h2v1h-2zm4 0h17v1h-17zm18 0h2v1h-2zm3 0h15v1h-15zm16 0h7v1h-7zm-46 1h1v1h-1zm2 0h1v1h-1zm5 0h2v1h-2zm4 0h6v1h-6zm7 0h14v1h-14zm15 0h7v1h-7zm9 0h7v1h-7zm9 0h1v1h-1zm2 0h2v1h-2zm3 0h2v1h-2zm4 0h1v1h-1zm-59 1h1v1h-1zm2 0h8v1h-8zm9 0h16v1h-16zm17 0h16v1h-16zm17 0h4v1h-4zm6 0h6v1h-6zm-51 1h1v1h-1zm2 0h30v1h-30zm31 0h13v1h-13zm14 0h2v1h-2zm4 0h1v1h-1zm3 0h1v1h-1zm3 0h2v1h-2zm4 0h1v1h-1zm-59 1h2v1h-2zm3 0h49v1h-49zm50 0h1v1h-1zm2 0h1v1h-1zm4 0h1v1h-1zm-62 1h12v1h-12zm13 0h2v1h-2zm3 0h2v1h-2zm3 0h9v1h-9zm10 0h2v1h-2zm3 0h3v1h-3zm4 0h9v1h-9zm10 0h13v1h-13zm15 0h2v1h-2zm-61 1h1v1h-1zm2 0h12v1h-12zm13 0h10v1h-10zm11 0h15v1h-15zm16 0h14v1h-14zm16 0h1v1h-1zm2 0h2v1h-2zm-60 1h52v1h-52zm53 0h7v1h-7zm8 0h1v1h-1zm-59 1h26v1h-26zm27 0h8v1h-8zm9 0h3v1h-3zm4 0h15v1h-15zm16 0h2v1h-2zm-58 1h15v1h-15zm16 0h17v1h-17zm18 0h21v1h-21zm22 0h5v1h-5zm6 0h1v1h-1zm-62 1h2v1h-2zm3 0h45v1h-45zm46 0h13v1h-13zm14 0h1v1h-1zm-63 1h18v1h-18zm19 0h14v1h-14zm15 0h19v1h-19zm20 0h5v1h-5zm6 0h2v1h-2zm3 0h1v1h-1zm-63 1h2v1h-2zm3 0h23v1h-23zm24 0h35v1h-35zm-25 1h61v1h-61zm-2 1h1v1h-1zm2 0h13v1h-13zm14 0h7v1h-7zm9 0h2v1h-2zm3 0h13v1h-13zm14 0h14v1h-14zm15 0h5v1h-5zm6 0h1v1h-1zm-62 1h19v1h-19zm20 0h25v1h-25zm26 0h14v1h-14zm-45 1h3v1h-3zm4 0h32v1h-32zm33 0h22v1h-22zm23 0h2v1h-2zm-62 1h1v1h-1zm3 0h1v1h-1zm2 0h50v1h-50zm51 0h6v1h-6zm7 0h1v1h-1zm-62 1h1v1h-1zm4 0h2v1h-2zm3 0h5v1h-5zm7 0h48v1h-48zm-14 1h1v1h-1zm4 0h22v1h-22zm23 0h8v1h-8zm9 0h5v1h-5zm6 0h6v1h-6zm7 0h8v1h-8zm9 0h4v1h-4zm-59 1h1v1h-1zm3 0h2v1h-2zm3 0h1v1h-1zm2 0h15v1h-15zm16 0h29v1h-29zm30 0h8v1h-8zm-53 1h9v1h-9zm10 0h30v1h-30zm31 0h1v1h-1zm2 0h3v1h-3zm4 0h16v1h-16zm-45 1h1v1h-1zm2 0h2v1h-2zm4 0h1v1h-1zm3 0h13v1h-13zm14 0h18v1h-18zm19 0h16v1h-16zm17 0h1v1h-1zm-59 1h3v1h-3zm7 0h3v1h-3zm4 0h20v1h-20zm21 0h7v1h-7zm8 0h9v1h-9zm11 0h1v1h-1zm2 0h1v1h-1zm2 0h1v1h-1zm3 0h1v1h-1zm2 0h1v1h-1zm-58 1h2v1h-2zm5 0h1v1h-1zm2 0h1v1h-1zm2 0h36v1h-36zm37 0h5v1h-5zm6 0h1v1h-1zm2 0h2v1h-2zm4 0h1v1h-1zm-60 1h2v1h-2zm3 0h1v1h-1zm3 0h3v1h-3zm4 0h1v1h-1zm2 0h26v1h-26zm27 0h9v1h-9zm10 0h2v1h-2zm4 0h1v1h-1zm3 0h4v1h-4zm-54 1h1v1h-1zm2 0h2v1h-2zm3 0h2v1h-2zm3 0h1v1h-1zm2 0h38v1h-38zm39 0h6v1h-6zm7 0h1v1h-1zm2 0h1v1h-1zm-60 1h1v1h-1zm5 0h1v1h-1zm2 0h1v1h-1zm6 0h2v1h-2zm6 0h9v1h-9zm10 0h12v1h-12zm13 0h11v1h-11zm12 0h1v1h-1zm-52 1h1v1h-1zm8 0h2v1h-2zm3 0h1v1h-1zm2 0h2v1h-2zm3 0h2v1h-2zm3 0h3v1h-3zm4 0h2v1h-2zm3 0h10v1h-10zm11 0h4v1h-4zm5 0h3v1h-3zm4 0h1v1h-1zm3 0h1v1h-1zm2 0h3v1h-3zm-54 1h1v1h-1zm3 0h1v1h-1zm2 0h1v1h-1zm4 0h1v1h-1zm3 0h1v1h-1zm4 0h1v1h-1zm2 0h2v1h-2zm4 0h4v1h-4zm5 0h1v1h-1zm2 0h6v1h-6zm7 0h5v1h-5zm7 0h4v1h-4zm5 0h2v1h-2zm8 0h1v1h-1zm2 0h1v1h-1zm-46 1h1v1h-1zm2 0h1v1h-1zm4 0h3v1h-3zm4 0h1v1h-1zm6 0h5v1h-5zm7 0h4v1h-4zm5 0h5v1h-5zm6 0h1v1h-1zm6 0h1v1h-1zm9 0h1v1h-1zm-47 1h1v1h-1zm6 0h4v1h-4zm5 0h2v1h-2zm3 0h2v1h-2zm6 0h6v1h-6zm7 0h1v1h-1zm3 0h1v1h-1zm6 0h2v1h-2zm4 0h1v1h-1zm-47 1h1v1h-1zm7 0h1v1h-1zm5 0h1v1h-1zm13 0h1v1h-1zm3 0h5v1h-5zm6 0h1v1h-1zm2 0h2v1h-2zm5 0h1v1h-1z"/>
<path fill="#f0a020" d="M577 50h1v1h-1zm-12 1h1v1h-1zm2 0h2v1h-2zm0 1h1v1h-1zm3 0h1v1h-1zm5 0h1v1h-1zm-7 1h1v1h-1zm10 0h1v1h-1zm-29 1h1v1h-1zm17 0h2v1h-2zm3 0h4v1h-4zm5 0h1v1h-1zm2 0h1v1h-1zm-9 1h1v1h-1zm4 0h1v1h-1zm-9 1h1v1h-1zm7 0h1v1h-1zm3 0h1v1h-1zm-1 1h1v1h-1zm2 0h2v1h-2zm-54 1h1v1h-1zm8 0h1v1h-1zm7 0h1v1h-1zm30 0h1v1h-1zm2 0h2v1h-2zm4 0h3v1h-3zm4 0h1v1h-1zm2 0h1v1h-1zm-60 1h1v1h-1zm12 0h1v1h-1zm7 0h1v1h-1zm32 0h1v1h-1zm5 0h1v1h-1zm6 0h1v1h-1zm-64 1h1v1h-1zm3 0h1v1h-1zm7 0h1v1h-1zm4 0h3v1h-3zm5 0h1v1h-1zm6 0h1v1h-1zm6 0h1v1h-1zm14 0h1v1h-1zm3 0h1v1h-1zm2 0h1v1h-1zm7 0h1v1h-1zm-58 1h2v1h-2zm4 0h1v1h-1zm2 0h1v1h-1zm5 0h2v1h-2zm5 0h2v1h-2zm5 0h1v1h-1zm2 0h1v1h-1zm3 0h1v1h-1zm29 0h1v1h-1zm4 0h1v1h-1zm-55 1h2v1h-2zm4 0h1v1h-1zm7 0h1v1h-1zm4 0h1v1h-1zm8 0h1v1h-1zm6 0h1v1h-1zm25 0h1v1h-1zm-57 1h1v1h-1zm3 0h1v1h-1zm2 0h2v1h-2zm5 0h1v1h-1zm3 0h1v1h-1zm2 0h2v1h-2zm4 0h2v1h-2zm3 0h1v1h-1zm2 0h2v1h-2zm9 0h1v1h-1zm18 0h1v1h-1zm-43 1h2v1h-2zm7 0h1v1h-1zm2 0h2v1h-2zm8 0h1v1h-1zm6 0h1v1h-1zm24 0h1v1h-1zm-51 1h3v1h-3zm4 0h2v1h-2zm3 0h1v1h-1zm2 0h4v1h-4zm6 0h4v1h-4zm11 0h1v1h-1zm13 0h1v1h-1zm14 0h1v1h-1zm2 0h1v1h-1zm-57 1h1v1h-1zm3 0h1v1h-1zm3 0h2v1h-2zm3 0h2v1h-2zm5 0h5v1h-5zm6 0h1v1h-1zm9 0h1v1h-1zm21 0h1v1h-1zm-51 1h1v1h-1zm5 0h2v1h-2zm4 0h1v1h-1zm2 0h2v1h-2zm3 0h2v1h-2zm22 0h1v1h-1zm-30 1h1v1h-1zm3 0h1v1h-1zm5 0h1v1h-1zm4 0h1v1h-1zm2 0h2v1h-2zm-12 1h1v1h-1zm3 0h1v1h-1zm3 0h1v1h-1zm4 0h1v1h-1zm8 0h1v1h-1zm8 0h1v1h-1z"/>
<rect x="475.5" y="11.5" width="185" height="172" fill="none" stroke="#111" stroke-width="1.2"/>
<line x1="470.7" y1="93.7" x2="475.5" y2="93.7" stroke="#111" stroke-width="1"/>
<line x1="470.7" y1="86.6" x2="475.5" y2="86.6" stroke="#111" stroke-width="1"/>
<line x1="470.7" y1="81.6" x2="475.5" y2="81.6" stroke="#111" stroke-width="1"/>
<line x1="470.7" y1="77.7" x2="475.5" y2="77.7" stroke="#111" stroke-width="1"/>
<line x1="470.7" y1="74.5" x2="475.5" y2="74.5" stroke="#111" stroke-width="1"/>
<line x1="470.7" y1="71.8" x2="475.5" y2="71.8" stroke="#111" stroke-width="1"/>
<line x1="470.7" y1="69.5" x2="475.5" y2="69.5" stroke="#111" stroke-width="1"/>
<line x1="470.7" y1="67.4" x2="475.5" y2="67.4" stroke="#111" stroke-width="1"/>
<line x1="470.7" y1="54.2" x2="475.5" y2="54.2" stroke="#111" stroke-width="1"/>
<line x1="470.7" y1="47.5" x2="475.5" y2="47.5" stroke="#111" stroke-width="1"/>
<line x1="470.7" y1="42.7" x2="475.5" y2="42.7" stroke="#111" stroke-width="1"/>
<line x1="470.7" y1="39" x2="475.5" y2="39" stroke="#111" stroke-width="1"/>
<line x1="470.7" y1="36" x2="475.5" y2="36" stroke="#111" stroke-width="1"/>
<line x1="470.7" y1="33.5" x2="475.5" y2="33.5" stroke="#111" stroke-width="1"/>
<line x1="470.7" y1="31.3" x2="475.5" y2="31.3" stroke="#111" stroke-width="1"/>
<line x1="470.7" y1="29.3" x2="475.5" y2="29.3" stroke="#111" stroke-width="1"/>
<line x1="470.7" y1="16.2" x2="475.5" y2="16.2" stroke="#111" stroke-width="1"/>
<line x1="470.7" y1="145.9" x2="475.5" y2="145.9" stroke="#111" stroke-width="1"/>
<line x1="470.7" y1="136.3" x2="475.5" y2="136.3" stroke="#111" stroke-width="1"/>
<line x1="470.7" y1="129.2" x2="475.5" y2="129.2" stroke="#111" stroke-width="1"/>
<line x1="470.7" y1="123.9" x2="475.5" y2="123.9" stroke="#111" stroke-width="1"/>
<line x1="470.7" y1="119.6" x2="475.5" y2="119.6" stroke="#111" stroke-width="1"/>
<line x1="470.7" y1="116" x2="475.5" y2="116" stroke="#111" stroke-width="1"/>
<line x1="470.7" y1="112.9" x2="475.5" y2="112.9" stroke="#111" stroke-width="1"/>
<line x1="470.7" y1="110.3" x2="475.5" y2="110.3" stroke="#111" stroke-width="1"/>
<line x1="470.7" y1="107.9" x2="475.5" y2="107.9" stroke="#111" stroke-width="1"/>
<line x1="470.7" y1="164.5" x2="475.5" y2="164.5" stroke="#111" stroke-width="1"/>
<line x1="470.7" y1="170.4" x2="475.5" y2="170.4" stroke="#111" stroke-width="1"/>
<line x1="470.7" y1="176.3" x2="475.5" y2="176.3" stroke="#111" stroke-width="1"/>
<line x1="470.7" y1="182.2" x2="475.5" y2="182.2" stroke="#111" stroke-width="1"/>
<line x1="466" y1="158.6" x2="475.5" y2="158.6" stroke="#111" stroke-width="1"/>
<line x1="466" y1="105.8" x2="475.5" y2="105.8" stroke="#111" stroke-width="1"/>
<line x1="466" y1="65.6" x2="475.5" y2="65.6" stroke="#111" stroke-width="1"/>
<line x1="466" y1="27.6" x2="475.5" y2="27.6" stroke="#111" stroke-width="1"/>
<line x1="565.2" y1="183.5" x2="565.2" y2="189" stroke="#111" stroke-width="1"/>
<line x1="574.1" y1="183.5" x2="574.1" y2="189" stroke="#111" stroke-width="1"/>
<line x1="580.5" y1="183.5" x2="580.5" y2="189" stroke="#111" stroke-width="1"/>
<line x1="585.4" y1="183.5" x2="585.4" y2="189" stroke="#111" stroke-width="1"/>
<line x1="589.4" y1="183.5" x2="589.4" y2="189" stroke="#111" stroke-width="1"/>
<line x1="592.8" y1="183.5" x2="592.8" y2="189" stroke="#111" stroke-width="1"/>
<line x1="595.7" y1="183.5" x2="595.7" y2="189" stroke="#111" stroke-width="1"/>
<line x1="598.3" y1="183.5" x2="598.3" y2="189" stroke="#111" stroke-width="1"/>
<line x1="613.2" y1="183.5" x2="613.2" y2="189" stroke="#111" stroke-width="1"/>
<line x1="620.6" y1="183.5" x2="620.6" y2="189" stroke="#111" stroke-width="1"/>
<line x1="625.9" y1="183.5" x2="625.9" y2="189" stroke="#111" stroke-width="1"/>
<line x1="630" y1="183.5" x2="630" y2="189" stroke="#111" stroke-width="1"/>
<line x1="633.3" y1="183.5" x2="633.3" y2="189" stroke="#111" stroke-width="1"/>
<line x1="636.1" y1="183.5" x2="636.1" y2="189" stroke="#111" stroke-width="1"/>
<line x1="638.5" y1="183.5" x2="638.5" y2="189" stroke="#111" stroke-width="1"/>
<line x1="640.7" y1="183.5" x2="640.7" y2="189" stroke="#111" stroke-width="1"/>
<line x1="655.2" y1="183.5" x2="655.2" y2="189" stroke="#111" stroke-width="1"/>
<line x1="516.5" y1="183.5" x2="516.5" y2="189" stroke="#111" stroke-width="1"/>
<line x1="518.8" y1="183.5" x2="518.8" y2="189" stroke="#111" stroke-width="1"/>
<line x1="521" y1="183.5" x2="521" y2="189" stroke="#111" stroke-width="1"/>
<line x1="523.2" y1="183.5" x2="523.2" y2="189" stroke="#111" stroke-width="1"/>
<line x1="525.5" y1="183.5" x2="525.5" y2="189" stroke="#111" stroke-width="1"/>
<line x1="527.7" y1="183.5" x2="527.7" y2="189" stroke="#111" stroke-width="1"/>
<line x1="529.9" y1="183.5" x2="529.9" y2="189" stroke="#111" stroke-width="1"/>
<line x1="532.1" y1="183.5" x2="532.1" y2="189" stroke="#111" stroke-width="1"/>
<line x1="534.4" y1="183.5" x2="534.4" y2="189" stroke="#111" stroke-width="1"/>
<line x1="536.6" y1="183.5" x2="536.6" y2="189" stroke="#111" stroke-width="1"/>
<line x1="538.8" y1="183.5" x2="538.8" y2="189" stroke="#111" stroke-width="1"/>
<line x1="541.1" y1="183.5" x2="541.1" y2="189" stroke="#111" stroke-width="1"/>
<line x1="543.3" y1="183.5" x2="543.3" y2="189" stroke="#111" stroke-width="1"/>
<line x1="545.5" y1="183.5" x2="545.5" y2="189" stroke="#111" stroke-width="1"/>
<line x1="547.8" y1="183.5" x2="547.8" y2="189" stroke="#111" stroke-width="1"/>
<line x1="512.2" y1="183.5" x2="512.2" y2="189" stroke="#111" stroke-width="1"/>
<line x1="510" y1="183.5" x2="510" y2="189" stroke="#111" stroke-width="1"/>
<line x1="507.9" y1="183.5" x2="507.9" y2="189" stroke="#111" stroke-width="1"/>
<line x1="505.7" y1="183.5" x2="505.7" y2="189" stroke="#111" stroke-width="1"/>
<line x1="503.6" y1="183.5" x2="503.6" y2="189" stroke="#111" stroke-width="1"/>
<line x1="501.5" y1="183.5" x2="501.5" y2="189" stroke="#111" stroke-width="1"/>
<line x1="499.3" y1="183.5" x2="499.3" y2="189" stroke="#111" stroke-width="1"/>
<line x1="497.2" y1="183.5" x2="497.2" y2="189" stroke="#111" stroke-width="1"/>
<line x1="495" y1="183.5" x2="495" y2="189" stroke="#111" stroke-width="1"/>
<line x1="492.9" y1="183.5" x2="492.9" y2="189" stroke="#111" stroke-width="1"/>
<line x1="490.8" y1="183.5" x2="490.8" y2="189" stroke="#111" stroke-width="1"/>
<line x1="488.6" y1="183.5" x2="488.6" y2="189" stroke="#111" stroke-width="1"/>
<line x1="486.5" y1="183.5" x2="486.5" y2="189" stroke="#111" stroke-width="1"/>
<line x1="484.4" y1="183.5" x2="484.4" y2="189" stroke="#111" stroke-width="1"/>
<line x1="482.2" y1="183.5" x2="482.2" y2="189" stroke="#111" stroke-width="1"/>
<line x1="480.1" y1="183.5" x2="480.1" y2="189" stroke="#111" stroke-width="1"/>
<line x1="477.9" y1="183.5" x2="477.9" y2="189" stroke="#111" stroke-width="1"/>
<line x1="475.8" y1="183.5" x2="475.8" y2="189" stroke="#111" stroke-width="1"/>
<line x1="514.3" y1="183.5" x2="514.3" y2="193.5" stroke="#111" stroke-width="1"/>
<line x1="550" y1="183.5" x2="550" y2="193.5" stroke="#111" stroke-width="1"/>
<line x1="600.6" y1="183.5" x2="600.6" y2="193.5" stroke="#111" stroke-width="1"/>
<line x1="642.6" y1="183.5" x2="642.6" y2="193.5" stroke="#111" stroke-width="1"/>
<line x1="661.3" y1="11.5" x2="661.3" y2="183.5" stroke="#888" stroke-width="1.2"/>
<rect x="522" y="9.6" width="7" height="1.6" fill="#111" stroke="none" stroke-width="0"/>
<rect x="475.5" y="17.5" width="102" height="51.5" fill="none" stroke="#111" stroke-width="1.2"/>
<rect x="593.5" y="77.5" width="65.5" height="106" fill="none" stroke="#111" stroke-width="1.2"/>
<text x="466.3" y="26.8" font-size="9.4" text-anchor="middle" fill="#111" stroke="#111" stroke-width="0.22" transform="rotate(-90 466.3 26.8)">10<tspan dy="-5" font-size="9.2">5</tspan></text>
<text x="466.3" y="64.8" font-size="9.4" text-anchor="middle" fill="#111" stroke="#111" stroke-width="0.22" transform="rotate(-90 466.3 64.8)">10<tspan dy="-5" font-size="9.2">4</tspan></text>
<text x="466.3" y="105" font-size="9.4" text-anchor="middle" fill="#111" stroke="#111" stroke-width="0.22" transform="rotate(-90 466.3 105)">10<tspan dy="-5" font-size="9.2">3</tspan></text>
<text x="466.3" y="143.5" font-size="9.4" text-anchor="middle" fill="#111" stroke="#111" stroke-width="0.22" transform="rotate(-90 466.3 143.5)">10<tspan dy="-5" font-size="9.2">2</tspan></text>
<text x="466.3" y="158.6" font-size="10" text-anchor="middle" fill="#111" stroke="#111" stroke-width="0.22" transform="rotate(-90 466.3 158.6)">0</text>
<text x="456.3" y="183" font-size="10" text-anchor="middle" fill="#111" stroke="#111" stroke-width="0.22" transform="rotate(-90 456.3 183)">-221</text>
<text x="449.8" y="93.7" font-size="11.7" text-anchor="middle" fill="#111" stroke="#111" stroke-width="0.22" transform="rotate(-90 449.8 93.7)">APC-A</text>
<text x="488.6" y="210.3" font-size="10" text-anchor="end" fill="#111" stroke="#111" stroke-width="0.22">-1,268</text>
<text x="514.3" y="202.8" font-size="10" text-anchor="middle" fill="#111" stroke="#111" stroke-width="0.22">0</text>
<text x="550.8" y="202.8" font-size="9.4" text-anchor="middle" fill="#111" stroke="#111" stroke-width="0.22">10<tspan dy="-5" font-size="9.2">3</tspan></text>
<text x="600.5" y="202.8" font-size="9.4" text-anchor="middle" fill="#111" stroke="#111" stroke-width="0.22">10<tspan dy="-5" font-size="9.2">4</tspan></text>
<text x="642.8" y="202.8" font-size="9.4" text-anchor="middle" fill="#111" stroke="#111" stroke-width="0.22">10<tspan dy="-5" font-size="9.2">5</tspan></text>
<text x="567.5" y="212.5" font-size="11.7" text-anchor="middle" fill="#111" stroke="#111" stroke-width="0.22">PE-A</text>
<text x="484.8" y="39.6" font-size="15.2" font-weight="bold" fill="#e01818">CD4+</text>
<text x="519" y="47.5" font-size="10.5" fill="#2a0630" stroke="#2a0630" stroke-width="0.22">CD4</text>
<text x="586.5" y="28.3" font-size="11.5" font-weight="bold" fill="#111">58.5%</text>
<text x="622.5" y="67.4" font-size="11.5" font-weight="bold" fill="#111">31.4%</text>
<text x="617" y="125" font-size="10.5" fill="#0a2a60" stroke="#0a2a60" stroke-width="0.22">CD8</text>
<text x="613.8" y="165.2" font-size="15.2" font-weight="bold" fill="#e01818">CD8+</text>
<path fill="#fa640e" d="M212 268h1v1h-1zm3 1h1v1h-1zm-1 1h1v1h-1zm-5 2h1v1h-1zm5 0h1v1h-1zm10 0h1v1h-1zm-11 1h1v1h-1zm3 0h1v1h-1zm-12 1h1v1h-1zm10 0h2v1h-2zm5 0h1v1h-1zm5 0h1v1h-1zm-15 1h1v1h-1zm8 0h1v1h-1zm-9 1h3v1h-3zm7 0h1v1h-1zm6 0h2v1h-2zm-11 1h1v1h-1zm12 0h1v1h-1zm-17 1h1v1h-1zm4 0h1v1h-1zm2 0h2v1h-2zm4 0h2v1h-2zm4 0h2v1h-2zm4 0h1v1h-1zm-11 1h1v1h-1zm2 0h5v1h-5zm6 0h1v1h-1zm4 0h1v1h-1zm-22 1h1v1h-1zm4 0h1v1h-1zm2 0h2v1h-2zm4 0h2v1h-2zm4 0h6v1h-6zm-14 1h1v1h-1zm2 0h1v1h-1zm4 0h2v1h-2zm4 0h12v1h-12zm13 0h1v1h-1zm-22 1h2v1h-2zm5 0h2v1h-2zm3 0h13v1h-13zm14 0h1v1h-1zm-18 1h1v1h-1zm3 0h1v1h-1zm3 0h1v1h-1zm3 0h8v1h-8zm9 0h1v1h-1zm-16 1h15v1h-15zm16 0h1v1h-1zm-21 1h1v1h-1zm6 0h14v1h-14zm15 0h1v1h-1zm-22 1h1v1h-1zm5 0h18v1h-18zm-3 1h1v1h-1zm3 0h18v1h-18zm-5 1h1v1h-1zm3 0h1v1h-1zm3 0h5v1h-5zm6 0h11v1h-11zm-13 1h1v1h-1zm3 0h1v1h-1zm3 0h18v1h-18zm-3 1h2v1h-2zm3 0h18v1h-18zm-5 1h1v1h-1zm5 0h18v1h-18zm1 1h17v1h-17zm0 1h2v1h-2zm3 0h5v1h-5zm6 0h2v1h-2zm3 0h2v1h-2zm3 0h2v1h-2zm-11 1h3v1h-3zm4 0h9v1h-9zm-13 1h1v1h-1zm2 0h1v1h-1zm2 0h1v1h-1zm3 0h7v1h-7zm8 0h4v1h-4zm5 0h2v1h-2zm-16 1h6v1h-6zm7 0h4v1h-4zm5 0h2v1h-2zm3 0h1v1h-1zm2 0h1v1h-1zm-16 1h4v1h-4zm6 0h1v1h-1zm3 0h2v1h-2zm3 0h1v1h-1zm-13 1h1v1h-1zm3 0h3v1h-3zm5 0h1v1h-1zm3 0h1v1h-1zm2 0h1v1h-1zm2 0h1v1h-1zm-17 1h1v1h-1zm2 0h1v1h-1zm3 0h1v1h-1zm3 0h1v1h-1zm2 0h6v1h-6zm-1 1h1v1h-1zm2 0h1v1h-1zm4 0h2v1h-2zm-4 1h1v1h-1zm3 0h1v1h-1zm3 0h1v1h-1zm-15 1h1v1h-1zm5 0h1v1h-1zm3 0h2v1h-2zm6 0h1v1h-1zm-10 1h1v1h-1zm7 1h1v1h-1z"/>
<path fill="#ffff00" d="M236 264h1v1h-1zm-9 2h1v1h-1zm-2 1h1v1h-1zm4 0h1v1h-1zm3 0h1v1h-1zm6 1h1v1h-1zm-10 1h1v1h-1zm3 0h1v1h-1zm2 0h1v1h-1zm2 0h1v1h-1zm-9 1h1v1h-1zm3 0h1v1h-1zm2 0h1v1h-1zm4 0h1v1h-1zm2 0h1v1h-1zm2 0h1v1h-1zm-13 1h1v1h-1zm3 0h1v1h-1zm4 0h1v1h-1zm2 0h3v1h-3zm-9 1h1v1h-1zm2 0h1v1h-1zm3 0h2v1h-2zm3 0h1v1h-1zm3 0h1v1h-1zm-11 1h2v1h-2zm3 0h4v1h-4zm5 0h2v1h-2zm3 0h2v1h-2zm-12 1h1v1h-1zm2 0h1v1h-1zm2 0h1v1h-1zm3 0h5v1h-5zm-6 1h1v1h-1zm2 0h1v1h-1zm2 0h8v1h-8zm9 0h1v1h-1zm-14 1h15v1h-15zm0 1h13v1h-13zm14 0h1v1h-1zm-14 1h15v1h-15zm0 1h15v1h-15zm0 1h15v1h-15zm0 1h15v1h-15zm0 1h15v1h-15zm0 1h15v1h-15zm0 1h15v1h-15zm0 1h15v1h-15zm0 1h15v1h-15zm0 1h15v1h-15zm0 1h15v1h-15zm0 1h15v1h-15zm0 1h15v1h-15zm0 1h15v1h-15zm0 1h15v1h-15zm0 1h15v1h-15zm0 1h15v1h-15zm0 1h15v1h-15zm0 1h15v1h-15zm0 1h15v1h-15zm1 1h14v1h-14zm-1 1h2v1h-2zm3 0h7v1h-7zm8 0h3v1h-3zm-11 1h3v1h-3zm4 0h6v1h-6zm7 0h2v1h-2zm3 0h1v1h-1zm-14 1h1v1h-1zm3 0h2v1h-2zm5 0h4v1h-4zm5 0h1v1h-1zm-12 1h1v1h-1zm2 0h2v1h-2zm3 0h2v1h-2zm3 0h1v1h-1zm2 0h1v1h-1zm2 0h1v1h-1zm-7 1h2v1h-2zm3 0h2v1h-2zm4 0h1v1h-1zm-11 1h2v1h-2zm4 0h2v1h-2zm3 0h3v1h-3zm-9 1h1v1h-1zm6 0h1v1h-1zm5 0h1v1h-1zm2 0h1v1h-1zm-9 1h1v1h-1zm4 0h1v1h-1zm5 0h1v1h-1z"/>
<path fill="#620064" d="M262 257h1v1h-1zm17 0h1v1h-1zm-15 2h1v1h-1zm3 0h2v1h-2zm25 0h1v1h-1zm-45 1h1v1h-1zm8 0h1v1h-1zm26 0h1v1h-1zm-11 1h1v1h-1zm3 0h1v1h-1zm3 0h1v1h-1zm6 0h1v1h-1zm-32 1h1v1h-1zm2 0h1v1h-1zm20 0h1v1h-1zm7 0h1v1h-1zm4 0h1v1h-1zm2 0h1v1h-1zm-42 1h1v1h-1zm5 0h1v1h-1zm7 0h2v1h-2zm5 0h1v1h-1zm3 0h1v1h-1zm2 0h1v1h-1zm9 0h2v1h-2zm9 0h1v1h-1zm8 0h1v1h-1zm-44 1h1v1h-1zm34 0h1v1h-1zm11 0h1v1h-1zm-38 1h1v1h-1zm7 0h1v1h-1zm11 0h1v1h-1zm2 0h1v1h-1zm8 0h1v1h-1zm3 0h1v1h-1zm-34 1h1v1h-1zm5 0h1v1h-1zm5 0h1v1h-1zm4 0h1v1h-1zm4 0h1v1h-1zm7 0h1v1h-1zm-22 1h1v1h-1zm8 0h1v1h-1zm2 0h4v1h-4zm5 0h1v1h-1zm4 0h1v1h-1zm11 0h2v1h-2zm-36 1h1v1h-1zm3 0h1v1h-1zm3 0h1v1h-1zm2 0h1v1h-1zm6 0h7v1h-7zm10 0h1v1h-1zm6 0h1v1h-1zm2 0h1v1h-1zm-38 1h2v1h-2zm4 0h2v1h-2zm7 0h1v1h-1zm2 0h1v1h-1zm2 0h3v1h-3zm4 0h1v1h-1zm2 0h1v1h-1zm3 0h1v1h-1zm3 0h2v1h-2zm7 0h1v1h-1zm-33 1h2v1h-2zm3 0h1v1h-1zm2 0h2v1h-2zm3 0h1v1h-1zm2 0h2v1h-2zm3 0h1v1h-1zm2 0h4v1h-4zm5 0h5v1h-5zm6 0h4v1h-4zm6 0h1v1h-1zm3 0h1v1h-1zm2 0h3v1h-3zm4 0h1v1h-1zm3 0h1v1h-1zm-43 1h1v1h-1zm2 0h1v1h-1zm2 0h4v1h-4zm5 0h1v1h-1zm2 0h2v1h-2zm3 0h2v1h-2zm3 0h3v1h-3zm4 0h1v1h-1zm4 0h8v1h-8zm11 0h1v1h-1zm5 0h1v1h-1zm2 0h1v1h-1zm3 0h1v1h-1zm-49 1h2v1h-2zm3 0h1v1h-1zm2 0h2v1h-2zm3 0h5v1h-5zm7 0h12v1h-12zm13 0h6v1h-6zm7 0h1v1h-1zm7 0h1v1h-1zm3 0h1v1h-1zm-46 1h1v1h-1zm2 0h1v1h-1zm3 0h2v1h-2zm3 0h24v1h-24zm29 0h1v1h-1zm4 0h2v1h-2zm3 0h2v1h-2zm4 0h1v1h-1zm-49 1h2v1h-2zm5 0h3v1h-3zm4 0h23v1h-23zm24 0h2v1h-2zm3 0h2v1h-2zm3 0h1v1h-1zm2 0h2v1h-2zm6 0h4v1h-4zm6 0h1v1h-1zm-53 1h1v1h-1zm3 0h1v1h-1zm3 0h32v1h-32zm33 0h4v1h-4zm5 0h1v1h-1zm3 0h1v1h-1zm2 0h1v1h-1zm3 0h1v1h-1zm-48 1h36v1h-36zm41 0h2v1h-2zm-45 1h1v1h-1zm2 0h41v1h-41zm42 0h1v1h-1zm3 0h3v1h-3zm-47 1h1v1h-1zm3 0h40v1h-40zm41 0h1v1h-1zm2 0h3v1h-3zm-46 1h44v1h-44zm51 0h2v1h-2zm-51 1h42v1h-42zm45 0h1v1h-1zm2 0h1v1h-1zm-47 1h41v1h-41zm42 0h1v1h-1zm4 0h2v1h-2zm3 0h1v1h-1zm-49 1h39v1h-39zm40 0h3v1h-3zm-40 1h42v1h-42zm45 0h1v1h-1zm2 0h1v1h-1zm-47 1h42v1h-42zm0 1h43v1h-43zm45 0h1v1h-1zm7 0h1v1h-1zm-52 1h43v1h-43zm44 0h1v1h-1zm-44 1h40v1h-40zm43 0h1v1h-1zm9 0h1v1h-1zm-52 1h38v1h-38zm40 0h2v1h-2zm3 0h3v1h-3zm4 0h1v1h-1zm-47 1h40v1h-40zm53 0h1v1h-1zm-53 1h34v1h-34zm35 0h2v1h-2zm4 0h2v1h-2zm10 0h1v1h-1zm-49 1h38v1h-38zm39 0h1v1h-1zm7 0h1v1h-1zm3 0h1v1h-1zm3 0h1v1h-1zm-52 1h32v1h-32zm34 0h1v1h-1zm2 0h1v1h-1zm5 0h1v1h-1zm2 0h1v1h-1zm6 0h1v1h-1zm-49 1h29v1h-29zm31 0h4v1h-4zm5 0h1v1h-1zm6 0h1v1h-1zm-42 1h1v1h-1zm2 0h34v1h-34zm35 0h1v1h-1zm3 0h1v1h-1zm6 0h1v1h-1zm4 0h1v1h-1zm-50 1h1v1h-1zm2 0h28v1h-28zm30 0h1v1h-1zm2 0h2v1h-2zm3 0h3v1h-3zm4 0h1v1h-1zm3 0h1v1h-1zm-43 1h27v1h-27zm29 0h2v1h-2zm3 0h2v1h-2zm6 0h1v1h-1zm-38 1h2v1h-2zm3 0h12v1h-12zm13 0h5v1h-5zm7 0h3v1h-3zm4 0h5v1h-5zm6 0h1v1h-1zm4 0h1v1h-1zm3 0h1v1h-1zm-39 1h2v1h-2zm4 0h8v1h-8zm9 0h2v1h-2zm3 0h2v1h-2zm3 0h1v1h-1zm4 0h2v1h-2zm5 0h4v1h-4zm9 0h1v1h-1zm-39 1h3v1h-3zm4 0h3v1h-3zm4 0h3v1h-3zm4 0h4v1h-4zm5 0h1v1h-1zm2 0h1v1h-1zm6 0h2v1h-2zm3 0h1v1h-1zm2 0h4v1h-4zm7 0h1v1h-1zm-33 1h4v1h-4zm5 0h1v1h-1zm3 0h1v1h-1zm3 0h2v1h-2zm3 0h1v1h-1zm2 0h2v1h-2zm15 0h1v1h-1zm3 0h1v1h-1zm-32 1h1v1h-1zm3 0h3v1h-3zm4 0h3v1h-3zm5 0h1v1h-1zm2 0h1v1h-1zm2 0h1v1h-1zm4 0h2v1h-2zm3 0h1v1h-1zm4 0h1v1h-1zm-33 1h2v1h-2zm5 0h1v1h-1zm3 0h2v1h-2zm3 0h1v1h-1zm3 0h1v1h-1zm7 0h1v1h-1zm8 0h1v1h-1zm-25 1h1v1h-1zm2 0h1v1h-1zm3 0h1v1h-1zm6 0h1v1h-1zm3 0h3v1h-3zm4 0h1v1h-1zm3 0h1v1h-1zm12 0h1v1h-1zm-33 1h1v1h-1zm6 0h1v1h-1zm11 0h1v1h-1zm6 0h1v1h-1zm8 0h1v1h-1zm-34 1h1v1h-1zm2 0h1v1h-1zm2 0h1v1h-1zm2 0h1v1h-1zm5 0h1v1h-1zm10 0h1v1h-1zm6 0h1v1h-1zm24 0h1v1h-1zm-52 1h1v1h-1zm5 0h1v1h-1zm4 0h1v1h-1zm3 0h1v1h-1zm5 0h1v1h-1zm4 0h2v1h-2zm9 0h1v1h-1z"/>
<rect x="169.5" y="245.5" width="185" height="171" fill="none" stroke="#111" stroke-width="1.2"/>
<line x1="164.7" y1="329" x2="169.5" y2="329" stroke="#111" stroke-width="1"/>
<line x1="164.7" y1="321.8" x2="169.5" y2="321.8" stroke="#111" stroke-width="1"/>
<line x1="164.7" y1="316.7" x2="169.5" y2="316.7" stroke="#111" stroke-width="1"/>
<line x1="164.7" y1="312.7" x2="169.5" y2="312.7" stroke="#111" stroke-width="1"/>
<line x1="164.7" y1="309.5" x2="169.5" y2="309.5" stroke="#111" stroke-width="1"/>
<line x1="164.7" y1="306.7" x2="169.5" y2="306.7" stroke="#111" stroke-width="1"/>
<line x1="164.7" y1="304.4" x2="169.5" y2="304.4" stroke="#111" stroke-width="1"/>
<line x1="164.7" y1="302.3" x2="169.5" y2="302.3" stroke="#111" stroke-width="1"/>
<line x1="164.7" y1="288.9" x2="169.5" y2="288.9" stroke="#111" stroke-width="1"/>
<line x1="164.7" y1="282.2" x2="169.5" y2="282.2" stroke="#111" stroke-width="1"/>
<line x1="164.7" y1="277.5" x2="169.5" y2="277.5" stroke="#111" stroke-width="1"/>
<line x1="164.7" y1="273.8" x2="169.5" y2="273.8" stroke="#111" stroke-width="1"/>
<line x1="164.7" y1="270.8" x2="169.5" y2="270.8" stroke="#111" stroke-width="1"/>
<line x1="164.7" y1="268.2" x2="169.5" y2="268.2" stroke="#111" stroke-width="1"/>
<line x1="164.7" y1="266" x2="169.5" y2="266" stroke="#111" stroke-width="1"/>
<line x1="164.7" y1="264" x2="169.5" y2="264" stroke="#111" stroke-width="1"/>
<line x1="164.7" y1="250.8" x2="169.5" y2="250.8" stroke="#111" stroke-width="1"/>
<line x1="164.7" y1="380.4" x2="169.5" y2="380.4" stroke="#111" stroke-width="1"/>
<line x1="164.7" y1="371" x2="169.5" y2="371" stroke="#111" stroke-width="1"/>
<line x1="164.7" y1="364.2" x2="169.5" y2="364.2" stroke="#111" stroke-width="1"/>
<line x1="164.7" y1="358.9" x2="169.5" y2="358.9" stroke="#111" stroke-width="1"/>
<line x1="164.7" y1="354.7" x2="169.5" y2="354.7" stroke="#111" stroke-width="1"/>
<line x1="164.7" y1="351.2" x2="169.5" y2="351.2" stroke="#111" stroke-width="1"/>
<line x1="164.7" y1="348.3" x2="169.5" y2="348.3" stroke="#111" stroke-width="1"/>
<line x1="164.7" y1="345.7" x2="169.5" y2="345.7" stroke="#111" stroke-width="1"/>
<line x1="164.7" y1="343.4" x2="169.5" y2="343.4" stroke="#111" stroke-width="1"/>
<line x1="164.7" y1="398.9" x2="169.5" y2="398.9" stroke="#111" stroke-width="1"/>
<line x1="164.7" y1="404.9" x2="169.5" y2="404.9" stroke="#111" stroke-width="1"/>
<line x1="164.7" y1="410.9" x2="169.5" y2="410.9" stroke="#111" stroke-width="1"/>
<line x1="164.7" y1="417" x2="169.5" y2="417" stroke="#111" stroke-width="1"/>
<line x1="160" y1="392.8" x2="169.5" y2="392.8" stroke="#111" stroke-width="1"/>
<line x1="160" y1="341.3" x2="169.5" y2="341.3" stroke="#111" stroke-width="1"/>
<line x1="160" y1="300.4" x2="169.5" y2="300.4" stroke="#111" stroke-width="1"/>
<line x1="160" y1="262.3" x2="169.5" y2="262.3" stroke="#111" stroke-width="1"/>
<line x1="265.3" y1="416.5" x2="265.3" y2="422" stroke="#111" stroke-width="1"/>
<line x1="273.1" y1="416.5" x2="273.1" y2="422" stroke="#111" stroke-width="1"/>
<line x1="278.6" y1="416.5" x2="278.6" y2="422" stroke="#111" stroke-width="1"/>
<line x1="282.9" y1="416.5" x2="282.9" y2="422" stroke="#111" stroke-width="1"/>
<line x1="286.4" y1="416.5" x2="286.4" y2="422" stroke="#111" stroke-width="1"/>
<line x1="289.4" y1="416.5" x2="289.4" y2="422" stroke="#111" stroke-width="1"/>
<line x1="292" y1="416.5" x2="292" y2="422" stroke="#111" stroke-width="1"/>
<line x1="294.3" y1="416.5" x2="294.3" y2="422" stroke="#111" stroke-width="1"/>
<line x1="308.8" y1="416.5" x2="308.8" y2="422" stroke="#111" stroke-width="1"/>
<line x1="316.1" y1="416.5" x2="316.1" y2="422" stroke="#111" stroke-width="1"/>
<line x1="321.3" y1="416.5" x2="321.3" y2="422" stroke="#111" stroke-width="1"/>
<line x1="325.3" y1="416.5" x2="325.3" y2="422" stroke="#111" stroke-width="1"/>
<line x1="328.6" y1="416.5" x2="328.6" y2="422" stroke="#111" stroke-width="1"/>
<line x1="331.4" y1="416.5" x2="331.4" y2="422" stroke="#111" stroke-width="1"/>
<line x1="333.8" y1="416.5" x2="333.8" y2="422" stroke="#111" stroke-width="1"/>
<line x1="335.9" y1="416.5" x2="335.9" y2="422" stroke="#111" stroke-width="1"/>
<line x1="350.3" y1="416.5" x2="350.3" y2="422" stroke="#111" stroke-width="1"/>
<line x1="212.5" y1="416.5" x2="212.5" y2="422" stroke="#111" stroke-width="1"/>
<line x1="222" y1="416.5" x2="222" y2="422" stroke="#111" stroke-width="1"/>
<line x1="228.9" y1="416.5" x2="228.9" y2="422" stroke="#111" stroke-width="1"/>
<line x1="234.1" y1="416.5" x2="234.1" y2="422" stroke="#111" stroke-width="1"/>
<line x1="238.4" y1="416.5" x2="238.4" y2="422" stroke="#111" stroke-width="1"/>
<line x1="241.9" y1="416.5" x2="241.9" y2="422" stroke="#111" stroke-width="1"/>
<line x1="244.9" y1="416.5" x2="244.9" y2="422" stroke="#111" stroke-width="1"/>
<line x1="247.5" y1="416.5" x2="247.5" y2="422" stroke="#111" stroke-width="1"/>
<line x1="249.8" y1="416.5" x2="249.8" y2="422" stroke="#111" stroke-width="1"/>
<line x1="193.9" y1="416.5" x2="193.9" y2="422" stroke="#111" stroke-width="1"/>
<line x1="187.8" y1="416.5" x2="187.8" y2="422" stroke="#111" stroke-width="1"/>
<line x1="181.8" y1="416.5" x2="181.8" y2="422" stroke="#111" stroke-width="1"/>
<line x1="175.7" y1="416.5" x2="175.7" y2="422" stroke="#111" stroke-width="1"/>
<line x1="169.6" y1="416.5" x2="169.6" y2="422" stroke="#111" stroke-width="1"/>
<line x1="200" y1="416.5" x2="200" y2="426.5" stroke="#111" stroke-width="1"/>
<line x1="251.9" y1="416.5" x2="251.9" y2="426.5" stroke="#111" stroke-width="1"/>
<line x1="296.3" y1="416.5" x2="296.3" y2="426.5" stroke="#111" stroke-width="1"/>
<line x1="337.8" y1="416.5" x2="337.8" y2="426.5" stroke="#111" stroke-width="1"/>
<line x1="200" y1="416.5" x2="200" y2="423.5" stroke="#111" stroke-width="2"/>
<rect x="217.5" y="243.8" width="6" height="1.5" fill="#111" stroke="none" stroke-width="0"/>
<rect x="169.5" y="259.5" width="56" height="82" fill="none" stroke="#111" stroke-width="1.2"/>
<rect x="238.5" y="256.5" width="72" height="85" fill="none" stroke="#111" stroke-width="1.2"/>
<text x="160.3" y="261.5" font-size="9.4" text-anchor="middle" fill="#111" stroke="#111" stroke-width="0.22" transform="rotate(-90 160.3 261.5)">10<tspan dy="-5" font-size="9.2">5</tspan></text>
<text x="160.3" y="299.6" font-size="9.4" text-anchor="middle" fill="#111" stroke="#111" stroke-width="0.22" transform="rotate(-90 160.3 299.6)">10<tspan dy="-5" font-size="9.2">4</tspan></text>
<text x="160.3" y="340.5" font-size="9.4" text-anchor="middle" fill="#111" stroke="#111" stroke-width="0.22" transform="rotate(-90 160.3 340.5)">10<tspan dy="-5" font-size="9.2">3</tspan></text>
<text x="160.3" y="379.5" font-size="9.4" text-anchor="middle" fill="#111" stroke="#111" stroke-width="0.22" transform="rotate(-90 160.3 379.5)">10<tspan dy="-5" font-size="9.2">2</tspan></text>
<text x="160.3" y="392.5" font-size="10" text-anchor="middle" fill="#111" stroke="#111" stroke-width="0.22" transform="rotate(-90 160.3 392.5)">0</text>
<text x="150.4" y="415.5" font-size="10" text-anchor="middle" fill="#111" stroke="#111" stroke-width="0.22" transform="rotate(-90 150.4 415.5)">-221</text>
<text x="142.5" y="327.8" font-size="11.7" text-anchor="middle" fill="#111" stroke="#111" stroke-width="0.22" transform="rotate(-90 142.5 327.8)">APC-A</text>
<text x="160" y="444.5" font-size="10" fill="#111" stroke="#111" stroke-width="0.22">-444</text>
<text x="199.6" y="436.8" font-size="10" text-anchor="middle" fill="#111" stroke="#111" stroke-width="0.22">0</text>
<text x="249.5" y="436.8" font-size="9.4" text-anchor="middle" fill="#111" stroke="#111" stroke-width="0.22">10<tspan dy="-5" font-size="9.2">3</tspan></text>
<text x="294" y="436.8" font-size="9.4" text-anchor="middle" fill="#111" stroke="#111" stroke-width="0.22">10<tspan dy="-5" font-size="9.2">4</tspan></text>
<text x="337" y="436.8" font-size="9.4" text-anchor="middle" fill="#111" stroke="#111" stroke-width="0.22">10<tspan dy="-5" font-size="9.2">5</tspan></text>
<text x="261.5" y="448.3" font-size="11.7" text-anchor="middle" fill="#111" stroke="#111" stroke-width="0.22">FITC-A</text>
<text x="187" y="379.8" font-size="10.8" fill="#111" stroke="#111" stroke-width="0.22">CD4 CD28-</text>
<text x="275.8" y="362.7" font-size="11.1" fill="#111" stroke="#111" stroke-width="0.22">CD4 CD28+</text>
<path fill="#0f680f" d="M510 273h1v1h-1zm4 1h1v1h-1zm-3 1h1v1h-1zm2 1h1v1h-1zm5 0h1v1h-1zm-2 1h2v1h-2zm2 1h1v1h-1zm-11 1h1v1h-1zm5 0h1v1h-1zm4 0h1v1h-1zm-9 1h2v1h-2zm3 0h1v1h-1zm2 0h2v1h-2zm3 0h2v1h-2zm-7 1h1v1h-1zm6 0h2v1h-2zm-6 1h1v1h-1zm2 0h6v1h-6zm7 0h2v1h-2zm-8 1h2v1h-2zm3 0h2v1h-2zm3 0h2v1h-2zm3 0h1v1h-1zm-12 1h11v1h-11zm12 0h1v1h-1zm-12 1h10v1h-10zm11 0h2v1h-2zm-10 1h10v1h-10zm11 0h1v1h-1zm-10 1h10v1h-10zm-1 1h1v1h-1zm2 0h4v1h-4zm5 0h5v1h-5zm-7 1h8v1h-8zm9 0h3v1h-3zm-10 1h5v1h-5zm6 0h3v1h-3zm4 0h3v1h-3zm-9 1h4v1h-4zm5 0h1v1h-1zm2 0h5v1h-5zm-7 1h6v1h-6zm7 0h5v1h-5zm-8 1h4v1h-4zm5 0h8v1h-8zm-5 1h13v1h-13zm0 1h4v1h-4zm5 0h8v1h-8zm-3 1h4v1h-4zm5 0h6v1h-6zm-7 1h6v1h-6zm7 0h6v1h-6zm-6 1h8v1h-8zm9 0h3v1h-3zm-10 1h1v1h-1zm2 0h11v1h-11zm-1 1h4v1h-4zm5 0h2v1h-2zm3 0h4v1h-4zm-8 1h3v1h-3zm4 0h4v1h-4zm5 0h3v1h-3zm-9 1h1v1h-1zm2 0h9v1h-9zm0 1h3v1h-3zm4 0h3v1h-3zm5 0h1v1h-1zm-12 1h1v1h-1zm5 0h1v1h-1zm3 0h2v1h-2zm-6 1h1v1h-1zm2 0h1v1h-1zm2 0h1v1h-1zm3 0h1v1h-1zm3 0h1v1h-1zm-12 1h1v1h-1zm4 0h1v1h-1zm-2 1h1v1h-1zm6 0h3v1h-3zm-1 1h1v1h-1zm2 0h2v1h-2zm3 0h1v1h-1zm-7 1h1v1h-1zm4 0h1v1h-1zm-7 2h1v1h-1zm8 0h1v1h-1zm-4 1h1v1h-1z"/>
<path fill="#cc22dc" d="M523 268h1v1h-1zm-4 1h1v1h-1zm0 1h1v1h-1zm3 1h1v1h-1zm-4 1h2v1h-2zm10 0h1v1h-1zm-10 1h4v1h-4zm7 0h2v1h-2zm-4 1h3v1h-3zm4 0h1v1h-1zm-5 1h3v1h-3zm0 1h2v1h-2zm6 0h1v1h-1zm3 0h2v1h-2zm-11 1h2v1h-2zm3 0h3v1h-3zm5 0h4v1h-4zm-8 1h2v1h-2zm4 0h1v1h-1zm3 0h1v1h-1zm3 0h2v1h-2zm-10 1h1v1h-1zm2 0h2v1h-2zm3 0h2v1h-2zm3 0h1v1h-1zm3 0h2v1h-2zm-11 1h12v1h-12zm1 1h2v1h-2zm3 0h7v1h-7zm-4 1h6v1h-6zm7 0h3v1h-3zm4 0h2v1h-2zm-11 1h3v1h-3zm4 0h2v1h-2zm3 0h3v1h-3zm-7 1h8v1h-8zm10 0h3v1h-3zm-10 1h2v1h-2zm3 0h10v1h-10zm-3 1h11v1h-11zm12 0h1v1h-1zm-12 1h3v1h-3zm4 0h1v1h-1zm2 0h1v1h-1zm2 0h4v1h-4zm-8 1h3v1h-3zm4 0h9v1h-9zm-4 1h1v1h-1zm2 0h10v1h-10zm-2 1h7v1h-7zm8 0h2v1h-2zm3 0h2v1h-2zm-11 1h1v1h-1zm2 0h3v1h-3zm4 0h2v1h-2zm4 0h2v1h-2zm-10 1h7v1h-7zm8 0h3v1h-3zm-8 1h13v1h-13zm0 1h3v1h-3zm5 0h1v1h-1zm2 0h6v1h-6zm-7 1h4v1h-4zm5 0h1v1h-1zm2 0h6v1h-6zm-7 1h7v1h-7zm8 0h1v1h-1zm2 0h3v1h-3zm-10 1h13v1h-13zm0 1h5v1h-5zm7 0h5v1h-5zm-7 1h12v1h-12zm1 1h12v1h-12zm-1 1h6v1h-6zm7 0h4v1h-4zm5 0h1v1h-1zm-12 1h1v1h-1zm2 0h4v1h-4zm5 0h3v1h-3zm4 0h2v1h-2zm-11 1h1v1h-1zm2 0h2v1h-2zm4 0h1v1h-1zm2 0h4v1h-4zm-5 1h1v1h-1zm2 0h1v1h-1zm3 0h1v1h-1zm-5 1h3v1h-3zm4 0h1v1h-1zm-7 1h2v1h-2zm4 0h2v1h-2zm3 0h1v1h-1zm-7 1h1v1h-1zm2 0h2v1h-2zm7 0h1v1h-1zm-9 1h1v1h-1zm5 0h2v1h-2zm4 0h1v1h-1zm-8 1h2v1h-2zm10 0h2v1h-2zm-11 1h1v1h-1zm3 0h1v1h-1zm-3 1h4v1h-4zm8 0h1v1h-1zm-6 1h1v1h-1zm4 0h2v1h-2z"/>
<path fill="#1570f2" d="M530 262h1v1h-1zm18 0h1v1h-1zm6 1h1v1h-1zm7 0h1v1h-1zm2 0h1v1h-1zm2 0h2v1h-2zm-16 1h1v1h-1zm3 0h1v1h-1zm7 0h1v1h-1zm-17 1h2v1h-2zm5 0h1v1h-1zm16 0h1v1h-1zm23 0h1v1h-1zm-55 1h1v1h-1zm19 0h1v1h-1zm-18 1h2v1h-2zm6 0h2v1h-2zm4 0h1v1h-1zm5 0h1v1h-1zm5 0h1v1h-1zm2 0h2v1h-2zm6 0h2v1h-2zm8 0h1v1h-1zm10 0h1v1h-1zm-46 1h1v1h-1zm3 0h1v1h-1zm6 0h1v1h-1zm2 0h1v1h-1zm2 0h1v1h-1zm3 0h2v1h-2zm3 0h1v1h-1zm2 0h1v1h-1zm7 0h1v1h-1zm12 0h2v1h-2zm8 0h1v1h-1zm-43 1h1v1h-1zm5 0h2v1h-2zm3 0h1v1h-1zm3 0h1v1h-1zm4 0h2v1h-2zm7 0h1v1h-1zm2 0h2v1h-2zm5 0h2v1h-2zm8 0h1v1h-1zm-43 1h2v1h-2zm9 0h1v1h-1zm4 0h2v1h-2zm4 0h1v1h-1zm2 0h4v1h-4zm6 0h1v1h-1zm4 0h1v1h-1zm11 0h1v1h-1zm5 0h1v1h-1zm-46 1h1v1h-1zm2 0h1v1h-1zm3 0h1v1h-1zm4 0h2v1h-2zm5 0h1v1h-1zm5 0h4v1h-4zm5 0h5v1h-5zm8 0h2v1h-2zm5 0h1v1h-1zm2 0h2v1h-2zm9 0h1v1h-1zm-45 1h2v1h-2zm3 0h1v1h-1zm2 0h1v1h-1zm3 0h1v1h-1zm3 0h4v1h-4zm5 0h4v1h-4zm7 0h2v1h-2zm4 0h2v1h-2zm3 0h6v1h-6zm10 0h1v1h-1zm4 0h1v1h-1zm5 0h1v1h-1zm-52 1h1v1h-1zm10 0h3v1h-3zm4 0h22v1h-22zm23 0h3v1h-3zm9 0h2v1h-2zm3 0h1v1h-1zm2 0h1v1h-1zm-47 1h1v1h-1zm2 0h3v1h-3zm4 0h19v1h-19zm20 0h2v1h-2zm3 0h1v1h-1zm2 0h1v1h-1zm14 0h1v1h-1zm-49 1h1v1h-1zm2 0h2v1h-2zm3 0h2v1h-2zm3 0h1v1h-1zm3 0h1v1h-1zm2 0h6v1h-6zm7 0h13v1h-13zm14 0h4v1h-4zm5 0h1v1h-1zm3 0h1v1h-1zm4 0h2v1h-2zm3 0h1v1h-1zm7 0h1v1h-1zm-56 1h1v1h-1zm4 0h2v1h-2zm3 0h11v1h-11zm12 0h19v1h-19zm23 0h1v1h-1zm8 0h2v1h-2zm3 0h1v1h-1zm-52 1h11v1h-11zm12 0h3v1h-3zm4 0h20v1h-20zm21 0h3v1h-3zm4 0h1v1h-1zm2 0h3v1h-3zm4 0h1v1h-1zm-48 1h1v1h-1zm2 0h33v1h-33zm34 0h4v1h-4zm7 0h1v1h-1zm2 0h2v1h-2zm5 0h2v1h-2zm4 0h1v1h-1zm-54 1h3v1h-3zm4 0h41v1h-41zm42 0h1v1h-1zm3 0h2v1h-2zm5 0h1v1h-1zm3 0h1v1h-1zm-57 1h2v1h-2zm3 0h16v1h-16zm17 0h17v1h-17zm18 0h5v1h-5zm8 0h2v1h-2zm8 0h1v1h-1zm3 0h2v1h-2zm-57 1h12v1h-12zm13 0h3v1h-3zm4 0h9v1h-9zm10 0h14v1h-14zm17 0h3v1h-3zm7 0h1v1h-1zm-50 1h4v1h-4zm5 0h2v1h-2zm3 0h34v1h-34zm35 0h1v1h-1zm4 0h1v1h-1zm5 0h1v1h-1zm-53 1h6v1h-6zm7 0h16v1h-16zm17 0h19v1h-19zm20 0h3v1h-3zm4 0h1v1h-1zm-48 1h1v1h-1zm2 0h14v1h-14zm15 0h26v1h-26zm27 0h3v1h-3zm4 0h1v1h-1zm2 0h2v1h-2zm4 0h1v1h-1zm-54 1h39v1h-39zm40 0h4v1h-4zm5 0h4v1h-4zm6 0h1v1h-1zm-51 1h30v1h-30zm31 0h12v1h-12zm13 0h6v1h-6zm16 0h1v1h-1zm-60 1h12v1h-12zm13 0h2v1h-2zm3 0h11v1h-11zm12 0h6v1h-6zm7 0h7v1h-7zm8 0h6v1h-6zm-43 1h41v1h-41zm43 0h4v1h-4zm7 0h1v1h-1zm10 0h1v1h-1zm-60 1h5v1h-5zm6 0h5v1h-5zm6 0h4v1h-4zm6 0h4v1h-4zm5 0h6v1h-6zm7 0h16v1h-16zm19 0h1v1h-1zm2 0h2v1h-2zm-51 1h3v1h-3zm4 0h8v1h-8zm9 0h29v1h-29zm31 0h4v1h-4zm6 0h1v1h-1zm3 0h2v1h-2zm-53 1h1v1h-1zm2 0h41v1h-41zm42 0h2v1h-2zm4 0h1v1h-1zm5 0h2v1h-2zm4 0h1v1h-1zm-57 1h7v1h-7zm8 0h36v1h-36zm38 0h2v1h-2zm8 0h1v1h-1zm-54 1h4v1h-4zm5 0h12v1h-12zm13 0h21v1h-21zm22 0h3v1h-3zm4 0h3v1h-3zm-44 1h18v1h-18zm19 0h4v1h-4zm5 0h7v1h-7zm8 0h4v1h-4zm5 0h4v1h-4zm9 0h1v1h-1zm5 0h1v1h-1zm5 0h1v1h-1zm3 0h1v1h-1zm-58 1h9v1h-9zm10 0h28v1h-28zm34 0h1v1h-1zm3 0h1v1h-1zm4 0h1v1h-1zm-52 1h2v1h-2zm3 0h6v1h-6zm7 0h3v1h-3zm4 0h28v1h-28zm30 0h1v1h-1zm2 0h1v1h-1zm5 0h2v1h-2zm5 0h1v1h-1zm-56 1h27v1h-27zm28 0h7v1h-7zm8 0h4v1h-4zm5 0h1v1h-1zm2 0h1v1h-1zm4 0h1v1h-1zm-45 1h31v1h-31zm33 0h1v1h-1zm2 0h1v1h-1zm2 0h1v1h-1zm2 0h1v1h-1zm4 0h1v1h-1zm2 0h1v1h-1zm11 0h1v1h-1zm-57 1h2v1h-2zm4 0h4v1h-4zm5 0h13v1h-13zm14 0h11v1h-11zm12 0h1v1h-1zm3 0h1v1h-1zm3 0h1v1h-1zm-42 1h1v1h-1zm2 0h7v1h-7zm8 0h9v1h-9zm10 0h11v1h-11zm12 0h6v1h-6zm8 0h1v1h-1zm3 0h1v1h-1zm2 0h2v1h-2zm6 0h1v1h-1zm7 0h1v1h-1zm-58 1h2v1h-2zm5 0h2v1h-2zm5 0h10v1h-10zm11 0h7v1h-7zm9 0h2v1h-2zm3 0h1v1h-1zm2 0h2v1h-2zm3 0h1v1h-1zm6 0h3v1h-3zm-44 1h7v1h-7zm8 0h1v1h-1zm2 0h1v1h-1zm2 0h1v1h-1zm2 0h14v1h-14zm15 0h3v1h-3zm5 0h2v1h-2zm3 0h2v1h-2zm10 0h1v1h-1zm-41 1h2v1h-2zm4 0h2v1h-2zm3 0h3v1h-3zm5 0h3v1h-3zm4 0h6v1h-6zm7 0h1v1h-1zm2 0h1v1h-1zm3 0h1v1h-1zm5 0h1v1h-1zm5 0h1v1h-1zm6 0h2v1h-2zm-48 1h1v1h-1zm3 0h1v1h-1zm3 0h1v1h-1zm4 0h3v1h-3zm5 0h2v1h-2zm3 0h7v1h-7zm13 0h1v1h-1zm2 0h1v1h-1zm3 0h1v1h-1zm4 0h1v1h-1zm9 0h1v1h-1zm5 0h1v1h-1zm-55 1h2v1h-2zm3 0h1v1h-1zm2 0h2v1h-2zm3 0h1v1h-1zm2 0h1v1h-1zm3 0h2v1h-2zm4 0h1v1h-1zm3 0h4v1h-4zm8 0h3v1h-3zm10 0h1v1h-1zm-36 1h2v1h-2zm3 0h1v1h-1zm3 0h1v1h-1zm5 0h1v1h-1zm4 0h1v1h-1zm3 0h3v1h-3zm5 0h1v1h-1zm3 0h2v1h-2zm8 0h1v1h-1zm8 0h1v1h-1zm-39 1h1v1h-1zm11 0h4v1h-4zm-7 1h1v1h-1zm3 0h1v1h-1zm6 0h1v1h-1zm5 0h2v1h-2zm8 0h1v1h-1zm4 0h1v1h-1zm-36 1h4v1h-4zm8 0h2v1h-2zm16 0h1v1h-1zm5 0h1v1h-1zm5 0h1v1h-1zm-27 1h1v1h-1zm3 0h1v1h-1zm2 0h1v1h-1zm10 0h2v1h-2zm16 0h1v1h-1zm-34 1h1v1h-1zm17 0h1v1h-1zm3 0h1v1h-1zm5 0h1v1h-1zm-19 1h1v1h-1zm29 0h1v1h-1zm10 0h1v1h-1z"/>
<rect x="473.5" y="246.5" width="185" height="171" fill="none" stroke="#111" stroke-width="1.2"/>
<line x1="468.7" y1="333.7" x2="473.5" y2="333.7" stroke="#111" stroke-width="1"/>
<line x1="468.7" y1="325.7" x2="473.5" y2="325.7" stroke="#111" stroke-width="1"/>
<line x1="468.7" y1="320" x2="473.5" y2="320" stroke="#111" stroke-width="1"/>
<line x1="468.7" y1="315.6" x2="473.5" y2="315.6" stroke="#111" stroke-width="1"/>
<line x1="468.7" y1="312" x2="473.5" y2="312" stroke="#111" stroke-width="1"/>
<line x1="468.7" y1="309" x2="473.5" y2="309" stroke="#111" stroke-width="1"/>
<line x1="468.7" y1="306.4" x2="473.5" y2="306.4" stroke="#111" stroke-width="1"/>
<line x1="468.7" y1="304.1" x2="473.5" y2="304.1" stroke="#111" stroke-width="1"/>
<line x1="468.7" y1="290.1" x2="473.5" y2="290.1" stroke="#111" stroke-width="1"/>
<line x1="468.7" y1="283.2" x2="473.5" y2="283.2" stroke="#111" stroke-width="1"/>
<line x1="468.7" y1="278.2" x2="473.5" y2="278.2" stroke="#111" stroke-width="1"/>
<line x1="468.7" y1="274.4" x2="473.5" y2="274.4" stroke="#111" stroke-width="1"/>
<line x1="468.7" y1="271.3" x2="473.5" y2="271.3" stroke="#111" stroke-width="1"/>
<line x1="468.7" y1="268.6" x2="473.5" y2="268.6" stroke="#111" stroke-width="1"/>
<line x1="468.7" y1="266.3" x2="473.5" y2="266.3" stroke="#111" stroke-width="1"/>
<line x1="468.7" y1="264.3" x2="473.5" y2="264.3" stroke="#111" stroke-width="1"/>
<line x1="468.7" y1="250.6" x2="473.5" y2="250.6" stroke="#111" stroke-width="1"/>
<line x1="468.7" y1="372.4" x2="473.5" y2="372.4" stroke="#111" stroke-width="1"/>
<line x1="468.7" y1="366.3" x2="473.5" y2="366.3" stroke="#111" stroke-width="1"/>
<line x1="468.7" y1="361.9" x2="473.5" y2="361.9" stroke="#111" stroke-width="1"/>
<line x1="468.7" y1="358.6" x2="473.5" y2="358.6" stroke="#111" stroke-width="1"/>
<line x1="468.7" y1="355.9" x2="473.5" y2="355.9" stroke="#111" stroke-width="1"/>
<line x1="468.7" y1="353.7" x2="473.5" y2="353.7" stroke="#111" stroke-width="1"/>
<line x1="468.7" y1="351.8" x2="473.5" y2="351.8" stroke="#111" stroke-width="1"/>
<line x1="468.7" y1="350.1" x2="473.5" y2="350.1" stroke="#111" stroke-width="1"/>
<line x1="468.7" y1="348.6" x2="473.5" y2="348.6" stroke="#111" stroke-width="1"/>
<line x1="468.7" y1="386.5" x2="473.5" y2="386.5" stroke="#111" stroke-width="1"/>
<line x1="468.7" y1="392.7" x2="473.5" y2="392.7" stroke="#111" stroke-width="1"/>
<line x1="468.7" y1="398.9" x2="473.5" y2="398.9" stroke="#111" stroke-width="1"/>
<line x1="468.7" y1="405.1" x2="473.5" y2="405.1" stroke="#111" stroke-width="1"/>
<line x1="468.7" y1="411.3" x2="473.5" y2="411.3" stroke="#111" stroke-width="1"/>
<line x1="468.7" y1="417.5" x2="473.5" y2="417.5" stroke="#111" stroke-width="1"/>
<line x1="464" y1="380.3" x2="473.5" y2="380.3" stroke="#111" stroke-width="1"/>
<line x1="464" y1="347.3" x2="473.5" y2="347.3" stroke="#111" stroke-width="1"/>
<line x1="464" y1="302" x2="473.5" y2="302" stroke="#111" stroke-width="1"/>
<line x1="464" y1="262.5" x2="473.5" y2="262.5" stroke="#111" stroke-width="1"/>
<line x1="569.2" y1="417.5" x2="569.2" y2="423" stroke="#111" stroke-width="1"/>
<line x1="577" y1="417.5" x2="577" y2="423" stroke="#111" stroke-width="1"/>
<line x1="582.5" y1="417.5" x2="582.5" y2="423" stroke="#111" stroke-width="1"/>
<line x1="586.8" y1="417.5" x2="586.8" y2="423" stroke="#111" stroke-width="1"/>
<line x1="590.2" y1="417.5" x2="590.2" y2="423" stroke="#111" stroke-width="1"/>
<line x1="593.2" y1="417.5" x2="593.2" y2="423" stroke="#111" stroke-width="1"/>
<line x1="595.7" y1="417.5" x2="595.7" y2="423" stroke="#111" stroke-width="1"/>
<line x1="598" y1="417.5" x2="598" y2="423" stroke="#111" stroke-width="1"/>
<line x1="612.6" y1="417.5" x2="612.6" y2="423" stroke="#111" stroke-width="1"/>
<line x1="620" y1="417.5" x2="620" y2="423" stroke="#111" stroke-width="1"/>
<line x1="625.3" y1="417.5" x2="625.3" y2="423" stroke="#111" stroke-width="1"/>
<line x1="629.4" y1="417.5" x2="629.4" y2="423" stroke="#111" stroke-width="1"/>
<line x1="632.7" y1="417.5" x2="632.7" y2="423" stroke="#111" stroke-width="1"/>
<line x1="635.5" y1="417.5" x2="635.5" y2="423" stroke="#111" stroke-width="1"/>
<line x1="637.9" y1="417.5" x2="637.9" y2="423" stroke="#111" stroke-width="1"/>
<line x1="640.1" y1="417.5" x2="640.1" y2="423" stroke="#111" stroke-width="1"/>
<line x1="654.6" y1="417.5" x2="654.6" y2="423" stroke="#111" stroke-width="1"/>
<line x1="516.5" y1="417.5" x2="516.5" y2="423" stroke="#111" stroke-width="1"/>
<line x1="526" y1="417.5" x2="526" y2="423" stroke="#111" stroke-width="1"/>
<line x1="532.9" y1="417.5" x2="532.9" y2="423" stroke="#111" stroke-width="1"/>
<line x1="538.2" y1="417.5" x2="538.2" y2="423" stroke="#111" stroke-width="1"/>
<line x1="542.4" y1="417.5" x2="542.4" y2="423" stroke="#111" stroke-width="1"/>
<line x1="546" y1="417.5" x2="546" y2="423" stroke="#111" stroke-width="1"/>
<line x1="549" y1="417.5" x2="549" y2="423" stroke="#111" stroke-width="1"/>
<line x1="551.6" y1="417.5" x2="551.6" y2="423" stroke="#111" stroke-width="1"/>
<line x1="553.9" y1="417.5" x2="553.9" y2="423" stroke="#111" stroke-width="1"/>
<line x1="498" y1="417.5" x2="498" y2="423" stroke="#111" stroke-width="1"/>
<line x1="491.9" y1="417.5" x2="491.9" y2="423" stroke="#111" stroke-width="1"/>
<line x1="485.9" y1="417.5" x2="485.9" y2="423" stroke="#111" stroke-width="1"/>
<line x1="479.8" y1="417.5" x2="479.8" y2="423" stroke="#111" stroke-width="1"/>
<line x1="473.8" y1="417.5" x2="473.8" y2="423" stroke="#111" stroke-width="1"/>
<line x1="504" y1="417.5" x2="504" y2="427.5" stroke="#111" stroke-width="1"/>
<line x1="556" y1="417.5" x2="556" y2="427.5" stroke="#111" stroke-width="1"/>
<line x1="600" y1="417.5" x2="600" y2="427.5" stroke="#111" stroke-width="1"/>
<line x1="642" y1="417.5" x2="642" y2="427.5" stroke="#111" stroke-width="1"/>
<line x1="504" y1="417.5" x2="504" y2="424.5" stroke="#111" stroke-width="2"/>
<line x1="460" y1="243.4" x2="636" y2="243.4" stroke="#6a6a6a" stroke-width="1.4" stroke-dasharray="7 1.5 4 2 9 1 3 3 6 1.5 2 4 8 1 5 2 3 5 7 1 4 2 6 3 2 1.5 9 2 3 6"/>
<rect x="520" y="244.6" width="7" height="1.6" fill="#111" stroke="none" stroke-width="0"/>
<rect x="473.5" y="254.5" width="44" height="85" fill="none" stroke="#111" stroke-width="1.2"/>
<rect x="529.5" y="254.5" width="72" height="84" fill="none" stroke="#111" stroke-width="1.2"/>
<text x="465" y="261.7" font-size="9.4" text-anchor="middle" fill="#111" stroke="#111" stroke-width="0.22" transform="rotate(-90 465 261.7)">10<tspan dy="-5" font-size="9.2">5</tspan></text>
<text x="465" y="301.2" font-size="9.4" text-anchor="middle" fill="#111" stroke="#111" stroke-width="0.22" transform="rotate(-90 465 301.2)">10<tspan dy="-5" font-size="9.2">4</tspan></text>
<text x="465" y="346.5" font-size="9.4" text-anchor="middle" fill="#111" stroke="#111" stroke-width="0.22" transform="rotate(-90 465 346.5)">10<tspan dy="-5" font-size="9.2">3</tspan></text>
<text x="465" y="380.4" font-size="10" text-anchor="middle" fill="#111" stroke="#111" stroke-width="0.22" transform="rotate(-90 465 380.4)">0</text>
<text x="455.6" y="417.5" font-size="10" text-anchor="middle" fill="#111" stroke="#111" stroke-width="0.22" transform="rotate(-90 455.6 417.5)">-1,268</text>
<text x="447.2" y="328.2" font-size="11.7" text-anchor="middle" fill="#111" stroke="#111" stroke-width="0.22" transform="rotate(-90 447.2 328.2)">PE-A</text>
<text x="463.4" y="444.5" font-size="10" fill="#111" stroke="#111" stroke-width="0.22">-444</text>
<text x="503.5" y="436.8" font-size="10" text-anchor="middle" fill="#111" stroke="#111" stroke-width="0.22">0</text>
<text x="553" y="436.8" font-size="9.4" text-anchor="middle" fill="#111" stroke="#111" stroke-width="0.22">10<tspan dy="-5" font-size="9.2">3</tspan></text>
<text x="598.5" y="436.8" font-size="9.4" text-anchor="middle" fill="#111" stroke="#111" stroke-width="0.22">10<tspan dy="-5" font-size="9.2">4</tspan></text>
<text x="641.8" y="436.8" font-size="9.4" text-anchor="middle" fill="#111" stroke="#111" stroke-width="0.22">10<tspan dy="-5" font-size="9.2">5</tspan></text>
<text x="565.6" y="448.3" font-size="11.7" text-anchor="middle" fill="#111" stroke="#111" stroke-width="0.22">FITC-A</text>
<text x="489" y="361" font-size="11" fill="#111" stroke="#111" stroke-width="0.22">CD8 CD28-</text>
<text x="573" y="361" font-size="11.3" fill="#111" stroke="#111" stroke-width="0.22">CD8 CD28+</text>
<g clip-path="url(#floorclip)"><g filter="url(#fb)"><path d="M109.9 658.8 L132.2 663.4 L144.4 650.8 L122.4 646.4Z" fill="#a4a4a4"/><path d="M140.2 665 L162.8 669.7 L174.6 656.9 L152.2 652.4Z" fill="#a4a4a4"/><path d="M170.9 671.3 L193.9 676 L205.2 663 L182.5 658.5Z" fill="#a4a4a4"/><path d="M202.1 677.7 L225.5 682.5 L236.3 669.3 L213.2 664.6Z" fill="#a4a4a4"/><path d="M233.8 684.2 L257.7 689.1 L268 675.6 L244.5 670.9Z" fill="#a4a4a4"/><path d="M266.1 690.8 L290.3 695.8 L300.1 682.1 L276.3 677.3Z" fill="#a4a4a4"/><path d="M298.9 697.6 L323.6 702.6 L332.9 688.7 L308.6 683.8Z" fill="#a4a4a4"/><path d="M332.3 704.4 L357.3 709.5 L366.1 695.4 L341.4 690.4Z" fill="#a4a4a4"/><path d="M366.2 711.4 L391.7 716.6 L399.9 702.2 L374.8 697.1Z" fill="#a4a4a4"/><path d="M400.8 718.4 L426.7 723.8 L434.3 709.1 L408.8 703.9Z" fill="#a4a4a4"/><path d="M435.9 725.6 L462.3 731 L469.3 716.1 L443.4 710.9Z" fill="#a4a4a4"/><path d="M471.6 733 L498.5 738.5 L504.9 723.3 L478.5 718Z" fill="#a4a4a4"/><path d="M508 740.4 L535.4 746 L541.1 730.5 L514.3 725.1Z" fill="#a4a4a4"/><path d="M545.1 748 L572.9 753.7 L578 737.9 L550.6 732.4Z" fill="#a4a4a4"/><path d="M126.7 642.1 L148.6 646.5 L160.2 634.5 L138.6 630.2Z" fill="#a4a4a4"/><path d="M156.3 648 L178.6 652.5 L189.8 640.3 L167.8 636Z" fill="#a4a4a4"/><path d="M186.5 654.1 L209.1 658.6 L219.8 646.2 L197.5 641.8Z" fill="#a4a4a4"/><path d="M217.1 660.2 L240 664.7 L250.3 652.1 L227.7 647.7Z" fill="#a4a4a4"/><path d="M248.2 666.4 L271.5 671 L281.4 658.2 L258.4 653.7Z" fill="#a4a4a4"/><path d="M279.8 672.7 L303.5 677.4 L312.9 664.4 L289.5 659.8Z" fill="#a4a4a4"/><path d="M311.9 679.1 L336 683.9 L344.9 670.6 L321.1 666Z" fill="#a4a4a4"/><path d="M344.6 685.6 L369.1 690.5 L377.4 677 L353.3 672.3Z" fill="#a4a4a4"/><path d="M377.8 692.2 L402.7 697.2 L410.5 683.5 L386 678.7Z" fill="#a4a4a4"/><path d="M411.6 699 L436.9 704 L444.2 690.1 L419.2 685.2Z" fill="#a4a4a4"/><path d="M445.9 705.8 L471.7 711 L478.4 696.8 L453 691.8Z" fill="#a4a4a4"/><path d="M480.9 712.8 L507.1 718 L513.2 703.6 L487.4 698.5Z" fill="#a4a4a4"/><path d="M516.4 719.9 L543.1 725.2 L548.5 710.5 L522.3 705.4Z" fill="#a4a4a4"/><path d="M552.6 727.1 L579.7 732.5 L584.5 717.6 L557.8 712.3Z" fill="#a4a4a4"/><path d="M142.7 626.2 L164.2 630.4 L175.3 618.9 L154.1 614.8Z" fill="#a4a4a4"/><path d="M171.8 631.8 L193.6 636.1 L204.3 624.4 L182.8 620.3Z" fill="#a4a4a4"/><path d="M201.3 637.6 L223.5 641.9 L233.8 630 L211.9 625.9Z" fill="#a4a4a4"/><path d="M231.4 643.4 L253.9 647.8 L263.7 635.8 L241.5 631.5Z" fill="#a4a4a4"/><path d="M261.9 649.3 L284.7 653.8 L294.1 641.6 L271.6 637.3Z" fill="#a4a4a4"/><path d="M292.8 655.4 L316.1 659.9 L325 647.5 L302.1 643.1Z" fill="#a4a4a4"/><path d="M324.3 661.5 L347.9 666.1 L356.4 653.4 L333.1 649Z" fill="#a4a4a4"/><path d="M356.3 667.7 L380.3 672.4 L388.3 659.5 L364.6 655Z" fill="#a4a4a4"/><path d="M388.8 674 L413.2 678.8 L420.6 665.7 L396.6 661.1Z" fill="#a4a4a4"/><path d="M421.9 680.5 L446.7 685.3 L453.6 672 L429.2 667.3Z" fill="#a4a4a4"/><path d="M455.4 687 L480.7 691.9 L487 678.4 L462.2 673.6Z" fill="#a4a4a4"/><path d="M489.6 693.6 L515.2 698.6 L521 684.9 L495.8 680.1Z" fill="#a4a4a4"/><path d="M524.3 700.4 L550.4 705.5 L555.6 691.5 L530 686.6Z" fill="#a4a4a4"/><path d="M559.7 707.3 L586.2 712.4 L590.8 698.2 L564.7 693.2Z" fill="#a4a4a4"/><path d="M158 610.9 L179.1 614.9 L189.7 603.9 L168.9 600.1Z" fill="#a4a4a4"/><path d="M186.6 616.3 L208 620.4 L218.2 609.2 L197.1 605.3Z" fill="#a4a4a4"/><path d="M215.6 621.8 L237.3 626 L247.1 614.6 L225.7 610.6Z" fill="#a4a4a4"/><path d="M245 627.4 L267.1 631.6 L276.5 620.1 L254.7 616.1Z" fill="#a4a4a4"/><path d="M274.9 633.1 L297.3 637.4 L306.3 625.7 L284.2 621.5Z" fill="#a4a4a4"/><path d="M305.3 638.9 L328.1 643.2 L336.6 631.3 L314.1 627.1Z" fill="#a4a4a4"/><path d="M336.1 644.7 L359.3 649.1 L367.3 637 L344.5 632.8Z" fill="#a4a4a4"/><path d="M367.5 650.7 L391 655.1 L398.6 642.8 L375.4 638.5Z" fill="#a4a4a4"/><path d="M399.3 656.7 L423.2 661.2 L430.3 648.8 L406.8 644.4Z" fill="#a4a4a4"/><path d="M431.7 662.8 L455.9 667.4 L462.5 654.8 L438.6 650.3Z" fill="#a4a4a4"/><path d="M464.5 669.1 L489.2 673.7 L495.2 660.9 L471 656.3Z" fill="#a4a4a4"/><path d="M497.9 675.4 L523 680.2 L528.5 667.1 L503.8 662.5Z" fill="#a4a4a4"/><path d="M531.9 681.8 L557.4 686.7 L562.3 673.4 L537.2 668.7Z" fill="#a4a4a4"/><path d="M566.4 688.4 L592.3 693.3 L596.7 679.8 L571.2 675Z" fill="#a4a4a4"/></g></g>
<path d="M103.8 660.3 L576.9 757.6 L601.9 678.3 L167.1 597.5Z" fill="none" stroke="#7c7c7c" stroke-width="1"/>
<line x1="167.1" y1="597.5" x2="601.9" y2="678.3" stroke="#7c7c7c" stroke-width="1.1"/>
<line x1="103.8" y1="660.3" x2="167.1" y2="597.5" stroke="#7c7c7c" stroke-width="1.1"/>
<line x1="97.8" y1="660.3" x2="103.8" y2="660.3" stroke="#7c7c7c" stroke-width="1.1"/>
<line x1="164.3" y1="563.7" x2="606.9" y2="642" stroke="#7c7c7c" stroke-width="1.1"/>
<line x1="99.6" y1="624.3" x2="164.3" y2="563.7" stroke="#7c7c7c" stroke-width="1.1"/>
<line x1="93.6" y1="624.3" x2="99.6" y2="624.3" stroke="#7c7c7c" stroke-width="1.1"/>
<line x1="161.5" y1="528.7" x2="612.2" y2="604.3" stroke="#7c7c7c" stroke-width="1.1"/>
<line x1="95.2" y1="587" x2="161.5" y2="528.7" stroke="#7c7c7c" stroke-width="1.1"/>
<line x1="89.2" y1="587" x2="95.2" y2="587" stroke="#7c7c7c" stroke-width="1.1"/>
<line x1="158.5" y1="492.5" x2="617.6" y2="565.2" stroke="#7c7c7c" stroke-width="1.1"/>
<line x1="90.7" y1="548.3" x2="158.5" y2="492.5" stroke="#7c7c7c" stroke-width="1.1"/>
<line x1="84.7" y1="548.3" x2="90.7" y2="548.3" stroke="#7c7c7c" stroke-width="1.1"/>
<line x1="155.4" y1="455" x2="623.2" y2="524.5" stroke="#7c7c7c" stroke-width="1.1"/>
<line x1="86" y1="508.1" x2="155.4" y2="455" stroke="#7c7c7c" stroke-width="1.1"/>
<line x1="80" y1="508.1" x2="86" y2="508.1" stroke="#7c7c7c" stroke-width="1.1"/>
<line x1="103.8" y1="660.3" x2="86" y2="508.1" stroke="#7c7c7c" stroke-width="1.1"/>
<line x1="103.8" y1="660.3" x2="103.8" y2="665.8" stroke="#7c7c7c" stroke-width="1"/>
<line x1="134" y1="666.5" x2="134" y2="672" stroke="#7c7c7c" stroke-width="1"/>
<line x1="164.8" y1="672.8" x2="164.8" y2="678.3" stroke="#7c7c7c" stroke-width="1"/>
<line x1="196" y1="679.2" x2="196" y2="684.7" stroke="#7c7c7c" stroke-width="1"/>
<line x1="227.7" y1="685.8" x2="227.7" y2="691.3" stroke="#7c7c7c" stroke-width="1"/>
<line x1="260" y1="692.4" x2="260" y2="697.9" stroke="#7c7c7c" stroke-width="1"/>
<line x1="292.9" y1="699.1" x2="292.9" y2="704.6" stroke="#7c7c7c" stroke-width="1"/>
<line x1="326.3" y1="706" x2="326.3" y2="711.5" stroke="#7c7c7c" stroke-width="1"/>
<line x1="360.2" y1="713" x2="360.2" y2="718.5" stroke="#7c7c7c" stroke-width="1"/>
<line x1="394.8" y1="720.1" x2="394.8" y2="725.6" stroke="#7c7c7c" stroke-width="1"/>
<line x1="429.9" y1="727.3" x2="429.9" y2="732.8" stroke="#7c7c7c" stroke-width="1"/>
<line x1="465.7" y1="734.7" x2="465.7" y2="740.2" stroke="#7c7c7c" stroke-width="1"/>
<line x1="502.1" y1="742.2" x2="502.1" y2="747.7" stroke="#7c7c7c" stroke-width="1"/>
<line x1="539.2" y1="749.8" x2="539.2" y2="755.3" stroke="#7c7c7c" stroke-width="1"/>
<line x1="576.9" y1="757.6" x2="576.9" y2="763.1" stroke="#7c7c7c" stroke-width="1"/>
<line x1="576.9" y1="757.6" x2="580.4" y2="758.3" stroke="#7c7c7c" stroke-width="1"/>
<line x1="583.7" y1="736.2" x2="587" y2="736.9" stroke="#7c7c7c" stroke-width="1"/>
<line x1="590.1" y1="715.9" x2="593.3" y2="716.5" stroke="#7c7c7c" stroke-width="1"/>
<line x1="596.1" y1="696.6" x2="599.3" y2="697.2" stroke="#7c7c7c" stroke-width="1"/>
<line x1="601.9" y1="678.3" x2="605" y2="678.8" stroke="#7c7c7c" stroke-width="1"/>
<path d="M167.4 605.4 L167.4 604.9 L167.6 604.4 L168.1 603.8 L168.7 603.3 L169.4 602.9 L170.3 602.5 L171.3 602.2 L172.3 602 L173.4 601.8 L174.5 601.8 L175.6 601.8 L176.6 602 L177.6 602.2 L178.4 602.5 L179.1 602.9 L179.6 603.3 L179.9 603.8 L180.1 604.3 L180.3 606.9 L180.2 607.4 L180 607.9 L179.6 608.5 L179 609 L178.3 609.4 L177.4 609.8 L176.4 610.1 L175.3 610.4 L174.2 610.5 L173.1 610.6 L172 610.5 L171 610.4 L170.1 610.1 L169.2 609.8 L168.6 609.4 L168 609 L167.7 608.5 L167.6 608Z" fill="url(#cg0)" stroke="#512c8a" stroke-width="0.5"/>
<path d="M179.4 606 L179.8 605.4 L180 604.9 L180.1 604.3 L179.9 603.8 L179.6 603.3 L179.1 602.9 L178.4 602.5 L177.6 602.2 L176.6 602 L175.6 601.8 L174.5 601.8 L173.4 601.8 L172.3 602 L171.3 602.2 L170.3 602.5 L169.4 602.9 L168.7 603.3 L168.1 603.8 L167.6 604.4 L167.4 604.9 L167.4 605.4 L167.5 606 L167.8 606.5 L168.4 606.9 L169 607.3 L169.9 607.6 L170.8 607.8 L171.8 608 L172.9 608 L174 608 L175.1 607.8 L176.2 607.6 L177.2 607.3 L178.1 606.9 L178.8 606.4Z" fill="url(#cg0t)"/>
<path d="M195.9 611.1 L195.9 610.6 L196.2 610 L196.6 609.5 L197.1 609 L197.9 608.5 L198.7 608.2 L199.7 607.8 L200.8 607.6 L201.9 607.5 L203 607.4 L204.1 607.5 L205.1 607.6 L206.1 607.8 L206.9 608.1 L207.6 608.5 L208.2 609 L208.5 609.5 L208.7 610 L208.8 612.2 L208.8 612.8 L208.6 613.3 L208.2 613.9 L207.6 614.4 L206.9 614.8 L206.1 615.2 L205.1 615.5 L204 615.8 L202.9 615.9 L201.8 616 L200.7 615.9 L199.6 615.8 L198.7 615.6 L197.8 615.2 L197.1 614.8 L196.6 614.4 L196.2 613.9 L196.1 613.3Z" fill="url(#cg1)" stroke="#512c8a" stroke-width="0.5"/>
<path d="M208.1 611.7 L208.5 611.1 L208.7 610.6 L208.7 610 L208.5 609.5 L208.2 609 L207.6 608.5 L206.9 608.1 L206.1 607.8 L205.1 607.6 L204.1 607.5 L203 607.4 L201.9 607.5 L200.8 607.6 L199.7 607.8 L198.7 608.2 L197.9 608.5 L197.1 609 L196.6 609.5 L196.2 610 L195.9 610.6 L195.9 611.1 L196.1 611.7 L196.5 612.2 L197 612.6 L197.7 613 L198.5 613.3 L199.5 613.6 L200.5 613.7 L201.6 613.8 L202.8 613.7 L203.9 613.6 L204.9 613.3 L205.9 613 L206.8 612.6 L207.5 612.2Z" fill="url(#cg1t)"/>
<path d="M224.9 617.3 L224.9 616.7 L225.1 616.1 L225.5 615.6 L226.1 615.1 L226.8 614.6 L227.7 614.2 L228.6 613.9 L229.7 613.7 L230.8 613.5 L231.9 613.5 L233 613.5 L234 613.7 L235 613.9 L235.9 614.2 L236.6 614.6 L237.2 615.1 L237.5 615.6 L237.8 616.1 L237.8 617.6 L237.8 618.2 L237.6 618.8 L237.3 619.3 L236.7 619.8 L236 620.3 L235.2 620.7 L234.2 621 L233.1 621.3 L232 621.4 L230.9 621.5 L229.8 621.4 L228.7 621.3 L227.7 621 L226.9 620.7 L226.2 620.3 L225.6 619.9 L225.2 619.3 L225 618.8Z" fill="url(#cg2)" stroke="#512c8a" stroke-width="0.5"/>
<path d="M237.2 617.8 L237.6 617.2 L237.8 616.7 L237.8 616.1 L237.5 615.6 L237.2 615.1 L236.6 614.6 L235.9 614.2 L235 613.9 L234 613.7 L233 613.5 L231.9 613.5 L230.8 613.5 L229.7 613.7 L228.6 613.9 L227.7 614.2 L226.8 614.6 L226.1 615.1 L225.5 615.6 L225.1 616.1 L224.9 616.7 L224.9 617.3 L225.1 617.8 L225.5 618.3 L226.1 618.8 L226.8 619.2 L227.7 619.5 L228.6 619.7 L229.7 619.9 L230.8 619.9 L231.9 619.9 L233 619.7 L234.1 619.5 L235.1 619.2 L235.9 618.8 L236.6 618.3Z" fill="url(#cg2t)"/>
<path d="M141.7 502.6 L141.7 502.1 L142 501.6 L142.5 501.1 L143.2 500.6 L144 500.2 L144.9 499.9 L146 499.6 L147.2 499.4 L148.4 499.3 L149.6 499.2 L150.7 499.3 L151.8 499.4 L152.8 499.6 L153.7 499.9 L154.4 500.2 L155 500.6 L155.3 501.1 L155.5 501.6 L165.6 621.9 L165.5 622.5 L165.3 623.1 L164.8 623.6 L164.2 624.1 L163.5 624.6 L162.6 625 L161.5 625.3 L160.5 625.6 L159.3 625.7 L158.2 625.8 L157.1 625.7 L156 625.6 L155.1 625.4 L154.2 625 L153.5 624.6 L153 624.2 L152.7 623.6 L152.5 623.1Z" fill="url(#cg3)" stroke="#5f8c1c" stroke-width="0.5"/>
<path d="M154.7 503.1 L155.2 502.6 L155.4 502.1 L155.5 501.6 L155.3 501.1 L155 500.6 L154.4 500.2 L153.7 499.9 L152.8 499.6 L151.8 499.4 L150.7 499.3 L149.6 499.2 L148.4 499.3 L147.2 499.4 L146 499.6 L144.9 499.9 L144 500.2 L143.2 500.6 L142.5 501.1 L142 501.6 L141.7 502.1 L141.7 502.6 L141.8 503.1 L142.1 503.5 L142.7 503.9 L143.4 504.3 L144.3 504.6 L145.3 504.8 L146.4 504.9 L147.6 505 L148.8 504.9 L150 504.8 L151.2 504.6 L152.2 504.3 L153.2 503.9 L154 503.5Z" fill="url(#cg3t)"/>
<path d="M254.3 622.4 L254.5 621.8 L254.9 621.3 L255.4 620.8 L256.1 620.3 L257 619.9 L257.9 619.6 L259 619.3 L260.1 619.2 L261.2 619.1 L262.3 619.2 L263.4 619.3 L264.3 619.5 L265.2 619.9 L266 620.3 L266.6 620.7 L267 621.3 L267.2 621.8 L267.2 622.4 L267.3 623.7 L267.1 624.3 L266.8 624.9 L266.2 625.4 L265.5 625.9 L264.7 626.3 L263.7 626.6 L262.7 626.8 L261.6 627 L260.4 627.1 L259.3 627 L258.2 626.9 L257.3 626.6 L256.4 626.3 L255.6 625.9 L255 625.4 L254.6 624.9 L254.4 624.3 L254.4 623.8Z" fill="url(#cg4)" stroke="#512c8a" stroke-width="0.5"/>
<path d="M266.7 623.5 L267.1 622.9 L267.2 622.4 L267.2 621.8 L267 621.3 L266.6 620.7 L266 620.3 L265.2 619.9 L264.3 619.5 L263.4 619.3 L262.3 619.2 L261.2 619.1 L260.1 619.2 L259 619.3 L257.9 619.6 L257 619.9 L256.1 620.3 L255.4 620.8 L254.9 621.3 L254.5 621.8 L254.3 622.4 L254.4 623 L254.6 623.5 L255 624 L255.6 624.5 L256.3 624.9 L257.2 625.2 L258.2 625.5 L259.3 625.6 L260.4 625.7 L261.5 625.6 L262.6 625.5 L263.7 625.2 L264.6 624.9 L265.5 624.5 L266.2 624Z" fill="url(#cg4t)"/>
<path d="M178.2 584.3 L178.3 583.8 L178.5 583.2 L178.9 582.7 L179.6 582.2 L180.3 581.7 L181.2 581.3 L182.3 581 L183.4 580.8 L184.5 580.7 L185.7 580.6 L186.8 580.7 L187.9 580.8 L188.9 581 L189.8 581.3 L190.5 581.7 L191 582.2 L191.4 582.7 L191.6 583.2 L194.7 627.5 L194.6 628.1 L194.4 628.7 L194 629.2 L193.4 629.8 L192.7 630.2 L191.8 630.7 L190.8 631 L189.7 631.2 L188.5 631.4 L187.4 631.4 L186.3 631.4 L185.2 631.2 L184.2 631 L183.4 630.7 L182.7 630.3 L182.1 629.8 L181.8 629.3 L181.6 628.7Z" fill="url(#cg5)" stroke="#5f8c1c" stroke-width="0.5"/>
<path d="M190.9 584.9 L191.3 584.3 L191.6 583.8 L191.6 583.2 L191.4 582.7 L191 582.2 L190.5 581.7 L189.8 581.3 L188.9 581 L187.9 580.8 L186.8 580.7 L185.7 580.6 L184.5 580.7 L183.4 580.8 L182.3 581 L181.2 581.3 L180.3 581.7 L179.6 582.2 L178.9 582.7 L178.5 583.2 L178.3 583.8 L178.2 584.3 L178.4 584.9 L178.7 585.4 L179.3 585.8 L180 586.2 L180.9 586.6 L181.9 586.8 L183 586.9 L184.1 587 L185.3 586.9 L186.5 586.8 L187.6 586.5 L188.6 586.2 L189.5 585.8 L190.3 585.4Z" fill="url(#cg5t)"/>
<path d="M284.2 628.3 L284.3 627.8 L284.7 627.2 L285.2 626.7 L285.9 626.2 L286.7 625.8 L287.7 625.5 L288.7 625.2 L289.8 625.1 L290.9 625 L292.1 625.1 L293.1 625.2 L294.1 625.5 L295 625.8 L295.8 626.2 L296.4 626.7 L296.9 627.2 L297.1 627.7 L297.2 628.3 L297.2 629.4 L297.1 629.9 L296.7 630.5 L296.2 631 L295.5 631.5 L294.7 631.9 L293.7 632.3 L292.7 632.5 L291.6 632.7 L290.4 632.7 L289.3 632.7 L288.2 632.5 L287.2 632.3 L286.3 631.9 L285.5 631.5 L284.9 631 L284.5 630.5 L284.2 630 L284.2 629.4Z" fill="url(#cg6)" stroke="#512c8a" stroke-width="0.5"/>
<path d="M296.7 629.5 L297 628.9 L297.2 628.3 L297.1 627.7 L296.9 627.2 L296.4 626.7 L295.8 626.2 L295 625.8 L294.1 625.5 L293.1 625.2 L292.1 625.1 L290.9 625 L289.8 625.1 L288.7 625.2 L287.7 625.5 L286.7 625.8 L285.9 626.2 L285.2 626.7 L284.7 627.2 L284.3 627.8 L284.2 628.3 L284.2 628.9 L284.5 629.5 L284.9 630 L285.5 630.5 L286.3 630.9 L287.2 631.2 L288.2 631.5 L289.3 631.6 L290.4 631.7 L291.6 631.6 L292.7 631.5 L293.7 631.2 L294.7 630.9 L295.5 630.5 L296.2 630Z" fill="url(#cg6t)"/>
<path d="M208.6 593.2 L208.6 592.7 L208.8 592.1 L209.2 591.6 L209.8 591 L210.6 590.6 L211.5 590.2 L212.5 589.9 L213.6 589.6 L214.7 589.5 L215.9 589.4 L217 589.5 L218.1 589.6 L219.1 589.8 L220 590.2 L220.8 590.6 L221.4 591 L221.8 591.5 L222 592.1 L224.2 633.2 L224.2 633.8 L224 634.4 L223.6 634.9 L223 635.5 L222.3 636 L221.4 636.4 L220.4 636.7 L219.3 637 L218.2 637.1 L217 637.2 L215.9 637.1 L214.8 637 L213.8 636.7 L213 636.4 L212.2 636 L211.7 635.5 L211.3 635 L211.1 634.4Z" fill="url(#cg7)" stroke="#5f8c1c" stroke-width="0.5"/>
<path d="M221.3 593.8 L221.7 593.2 L222 592.6 L222 592.1 L221.8 591.5 L221.4 591 L220.8 590.6 L220 590.2 L219.1 589.8 L218.1 589.6 L217 589.5 L215.9 589.4 L214.7 589.5 L213.6 589.6 L212.5 589.9 L211.5 590.2 L210.6 590.6 L209.8 591 L209.2 591.6 L208.8 592.1 L208.6 592.7 L208.6 593.2 L208.7 593.8 L209.1 594.3 L209.7 594.8 L210.5 595.2 L211.3 595.5 L212.4 595.7 L213.5 595.9 L214.6 595.9 L215.8 595.9 L217 595.7 L218.1 595.5 L219.1 595.2 L220 594.7 L220.8 594.3Z" fill="url(#cg7t)"/>
<path d="M314.5 634.2 L314.6 633.6 L314.9 633.1 L315.4 632.5 L316.1 632 L316.9 631.6 L317.9 631.3 L318.9 631 L320 630.9 L321.1 630.8 L322.3 630.9 L323.4 631 L324.4 631.3 L325.3 631.6 L326.1 632 L326.7 632.5 L327.2 633 L327.5 633.6 L327.6 634.2 L327.6 635 L327.5 635.6 L327.1 636.2 L326.6 636.8 L326 637.2 L325.2 637.7 L324.2 638 L323.2 638.3 L322.1 638.4 L320.9 638.5 L319.8 638.4 L318.7 638.3 L317.6 638 L316.7 637.7 L315.9 637.3 L315.3 636.8 L314.8 636.2 L314.6 635.7 L314.5 635.1Z" fill="url(#cg8)" stroke="#512c8a" stroke-width="0.5"/>
<path d="M327.1 635.4 L327.5 634.8 L327.6 634.2 L327.5 633.6 L327.2 633 L326.7 632.5 L326.1 632 L325.3 631.6 L324.4 631.3 L323.4 631 L322.3 630.9 L321.1 630.8 L320 630.9 L318.9 631 L317.9 631.3 L316.9 631.6 L316.1 632 L315.4 632.5 L314.9 633.1 L314.6 633.6 L314.5 634.2 L314.5 634.8 L314.8 635.4 L315.3 635.9 L315.9 636.4 L316.7 636.8 L317.6 637.2 L318.7 637.4 L319.8 637.6 L320.9 637.6 L322 637.6 L323.2 637.4 L324.2 637.1 L325.2 636.8 L326 636.4 L326.6 635.9Z" fill="url(#cg8t)"/>
<path d="M136.6 636.1 L136.6 635.5 L136.9 634.9 L137.4 634.3 L138 633.8 L138.8 633.3 L139.8 632.9 L140.8 632.6 L141.9 632.3 L143.1 632.2 L144.2 632.1 L145.4 632.1 L146.4 632.3 L147.4 632.5 L148.3 632.9 L149 633.3 L149.5 633.8 L149.8 634.3 L150 634.9 L150.2 637.7 L150.1 638.3 L149.9 638.9 L149.4 639.4 L148.8 640 L148 640.5 L147 640.9 L146 641.3 L144.9 641.5 L143.7 641.7 L142.6 641.7 L141.4 641.7 L140.3 641.5 L139.4 641.3 L138.5 640.9 L137.8 640.5 L137.3 640 L137 639.5 L136.8 638.9Z" fill="url(#cg9)" stroke="#a01818" stroke-width="0.5"/>
<path d="M149.2 636.7 L149.6 636.1 L149.9 635.5 L150 634.9 L149.8 634.3 L149.5 633.8 L149 633.3 L148.3 632.9 L147.4 632.5 L146.4 632.3 L145.4 632.1 L144.2 632.1 L143.1 632.2 L141.9 632.3 L140.8 632.6 L139.8 632.9 L138.8 633.3 L138 633.8 L137.4 634.3 L136.9 634.9 L136.6 635.5 L136.6 636.1 L136.7 636.7 L137 637.2 L137.6 637.7 L138.2 638.1 L139.1 638.5 L140.1 638.7 L141.1 638.9 L142.3 638.9 L143.5 638.9 L144.6 638.7 L145.7 638.5 L146.8 638.1 L147.7 637.7 L148.5 637.2Z" fill="url(#cg9t)"/>
<path d="M239.7 612 L239.9 611.4 L240.3 610.9 L240.9 610.4 L241.6 609.9 L242.5 609.5 L243.5 609.1 L244.6 608.9 L245.8 608.7 L246.9 608.7 L248.1 608.7 L249.2 608.9 L250.2 609.1 L251.1 609.5 L251.9 609.9 L252.5 610.3 L252.9 610.9 L253.1 611.4 L253.1 612 L254.2 639.6 L254.1 640.1 L253.7 640.7 L253.1 641.3 L252.4 641.8 L251.5 642.2 L250.5 642.5 L249.5 642.8 L248.3 643 L247.2 643 L246 643 L244.9 642.8 L243.9 642.6 L243 642.2 L242.3 641.8 L241.7 641.3 L241.3 640.8 L241 640.2 L239.8 612.6Z" fill="url(#cg10)" stroke="#5f8c1c" stroke-width="0.5"/>
<path d="M252.6 613.2 L253 612.6 L253.1 612 L253.1 611.4 L252.9 610.9 L252.5 610.3 L251.9 609.9 L251.1 609.5 L250.2 609.1 L249.2 608.9 L248.1 608.7 L246.9 608.7 L245.8 608.7 L244.6 608.9 L243.5 609.1 L242.5 609.5 L241.6 609.9 L240.9 610.4 L240.3 610.9 L239.9 611.4 L239.7 612 L239.8 612.6 L240 613.2 L240.4 613.7 L241 614.2 L241.8 614.6 L242.7 614.9 L243.7 615.2 L244.8 615.3 L246 615.4 L247.1 615.3 L248.3 615.2 L249.4 614.9 L250.4 614.6 L251.3 614.2 L252 613.7Z" fill="url(#cg10t)"/>
<path d="M358 642 L358.3 641.4 L358.4 640.8 L358.3 640.2 L358 639.7 L357.5 639.1 L356.8 638.6 L356 638.2 L355.1 637.9 L354 637.6 L352.9 637.5 L351.8 637.4 L350.7 637.5 L349.5 637.6 L348.5 637.9 L347.6 638.2 L346.8 638.7 L346.1 639.1 L345.6 639.7 L345.3 640.3 L345.2 640.9 L345.3 641.5 L345.6 642 L346.1 642.6 L346.8 643.1 L347.6 643.5 L348.5 643.9 L349.6 644.1 L350.7 644.3 L351.9 644.3 L353 644.3 L354.1 644.1 L355.2 643.8 L356.1 643.5 L356.9 643.1 L357.6 642.6Z" fill="#7446ae"/>
<path d="M166.3 642.7 L166.3 642.1 L166.6 641.5 L167 640.9 L167.6 640.3 L168.4 639.8 L169.4 639.4 L170.4 639 L171.5 638.8 L172.7 638.6 L173.8 638.6 L175 638.6 L176 638.8 L177 639 L177.9 639.4 L178.6 639.8 L179.2 640.3 L179.5 640.8 L179.7 641.4 L179.8 643.5 L179.8 644.1 L179.6 644.7 L179.1 645.3 L178.5 645.9 L177.7 646.4 L176.8 646.8 L175.8 647.2 L174.6 647.4 L173.5 647.6 L172.3 647.6 L171.2 647.6 L170.1 647.4 L169.1 647.2 L168.2 646.8 L167.5 646.4 L166.9 645.9 L166.6 645.3 L166.4 644.8Z" fill="url(#cg12)" stroke="#a01818" stroke-width="0.5"/>
<path d="M179 643.2 L179.4 642.6 L179.6 642 L179.7 641.4 L179.5 640.8 L179.2 640.3 L178.6 639.8 L177.9 639.4 L177 639 L176 638.8 L175 638.6 L173.8 638.6 L172.7 638.6 L171.5 638.8 L170.4 639 L169.4 639.4 L168.4 639.8 L167.6 640.3 L167 640.9 L166.6 641.5 L166.3 642.1 L166.3 642.7 L166.4 643.2 L166.8 643.8 L167.3 644.3 L168 644.7 L168.9 645.1 L169.9 645.3 L171 645.5 L172.1 645.5 L173.3 645.5 L174.5 645.3 L175.6 645.1 L176.6 644.7 L177.6 644.3 L178.3 643.8Z" fill="url(#cg12t)"/>
<path d="M270.8 626.8 L271 626.2 L271.4 625.7 L271.9 625.1 L272.6 624.6 L273.5 624.2 L274.5 623.9 L275.6 623.6 L276.7 623.5 L277.9 623.4 L279 623.5 L280.2 623.6 L281.2 623.9 L282.1 624.2 L282.9 624.6 L283.5 625.1 L284 625.6 L284.2 626.2 L284.3 626.8 L284.7 645.4 L284.6 646 L284.2 646.6 L283.7 647.2 L283 647.7 L282.1 648.1 L281.1 648.5 L280.1 648.7 L278.9 648.9 L277.8 648.9 L276.6 648.9 L275.5 648.7 L274.5 648.5 L273.5 648.1 L272.8 647.7 L272.1 647.2 L271.7 646.6 L271.5 646.1 L271.4 645.4Z" fill="url(#cg13)" stroke="#5f8c1c" stroke-width="0.5"/>
<path d="M283.8 628 L284.1 627.4 L284.3 626.8 L284.2 626.2 L284 625.6 L283.5 625.1 L282.9 624.6 L282.1 624.2 L281.2 623.9 L280.2 623.6 L279 623.5 L277.9 623.4 L276.7 623.5 L275.6 623.6 L274.5 623.9 L273.5 624.2 L272.6 624.6 L271.9 625.1 L271.4 625.7 L271 626.2 L270.8 626.8 L270.9 627.4 L271.1 628 L271.6 628.6 L272.2 629 L273 629.5 L273.9 629.8 L274.9 630.1 L276.1 630.2 L277.2 630.3 L278.4 630.2 L279.6 630.1 L280.6 629.8 L281.6 629.5 L282.5 629 L283.2 628.5Z" fill="url(#cg13t)"/>
<path d="M389.4 647.9 L389.7 647.3 L389.7 646.7 L389.6 646.1 L389.3 645.5 L388.7 645 L388.1 644.5 L387.2 644 L386.3 643.7 L385.2 643.5 L384.1 643.3 L382.9 643.2 L381.8 643.3 L380.7 643.5 L379.6 643.7 L378.7 644.1 L377.9 644.5 L377.3 645 L376.8 645.5 L376.5 646.1 L376.5 646.7 L376.6 647.4 L376.9 647.9 L377.4 648.5 L378.1 649 L379 649.4 L379.9 649.8 L381 650 L382.1 650.2 L383.3 650.3 L384.4 650.2 L385.6 650 L386.6 649.8 L387.5 649.4 L388.3 649 L389 648.5Z" fill="#7446ae"/>
<path d="M209.3 651.3 L209.7 650.7 L209.9 650.1 L210 649.5 L209.8 648.9 L209.4 648.3 L208.8 647.8 L208.1 647.4 L207.2 647 L206.2 646.8 L205.1 646.6 L203.9 646.6 L202.8 646.6 L201.6 646.8 L200.5 647 L199.5 647.4 L198.6 647.8 L197.8 648.3 L197.2 648.9 L196.8 649.5 L196.5 650.1 L196.5 650.7 L196.7 651.3 L197.1 651.9 L197.6 652.4 L198.4 652.8 L199.3 653.2 L200.3 653.4 L201.4 653.6 L202.5 653.6 L203.7 653.6 L204.9 653.4 L206 653.2 L207 652.8 L207.9 652.4 L208.7 651.8Z" fill="#7a1010"/>
<path d="M302.1 638.2 L302.2 637.6 L302.6 637 L303.1 636.5 L303.8 636 L304.7 635.5 L305.6 635.2 L306.7 634.9 L307.9 634.8 L309 634.7 L310.2 634.8 L311.3 634.9 L312.4 635.2 L313.3 635.5 L314.1 635.9 L314.8 636.4 L315.2 637 L315.5 637.6 L315.6 638.2 L315.7 651.4 L315.6 652 L315.3 652.6 L314.7 653.2 L314 653.7 L313.2 654.1 L312.2 654.5 L311.1 654.7 L310 654.9 L308.8 655 L307.7 654.9 L306.5 654.7 L305.5 654.5 L304.6 654.1 L303.7 653.7 L303.1 653.2 L302.6 652.6 L302.4 652 L302.3 651.4Z" fill="url(#cg16)" stroke="#5f8c1c" stroke-width="0.5"/>
<path d="M315.1 639.4 L315.5 638.8 L315.6 638.2 L315.5 637.6 L315.2 637 L314.8 636.4 L314.1 635.9 L313.3 635.5 L312.4 635.2 L311.3 634.9 L310.2 634.8 L309 634.7 L307.9 634.8 L306.7 634.9 L305.6 635.2 L304.7 635.5 L303.8 636 L303.1 636.5 L302.6 637 L302.2 637.6 L302.1 638.2 L302.2 638.8 L302.4 639.4 L302.9 640 L303.6 640.5 L304.4 640.9 L305.3 641.3 L306.4 641.5 L307.5 641.7 L308.7 641.7 L309.8 641.7 L311 641.5 L312.1 641.2 L313.1 640.9 L313.9 640.5 L314.6 639.9Z" fill="url(#cg16t)"/>
<path d="M421.3 653.9 L421.5 653.3 L421.6 652.7 L421.4 652.1 L421 651.5 L420.5 650.9 L419.8 650.4 L418.9 650 L417.9 649.6 L416.8 649.4 L415.7 649.2 L414.5 649.2 L413.4 649.2 L412.3 649.4 L411.3 649.6 L410.3 650 L409.6 650.4 L408.9 650.9 L408.5 651.5 L408.2 652.1 L408.2 652.7 L408.3 653.3 L408.7 653.9 L409.2 654.5 L410 655 L410.8 655.5 L411.8 655.8 L412.9 656.1 L414.1 656.2 L415.2 656.3 L416.4 656.2 L417.5 656.1 L418.5 655.8 L419.5 655.4 L420.2 655 L420.9 654.5Z" fill="#7446ae"/>
<path d="M111.9 576.8 L112 576.2 L112.3 575.7 L112.8 575.1 L113.5 574.6 L114.4 574.1 L115.4 573.7 L116.5 573.4 L117.7 573.1 L119 573 L120.2 572.9 L121.4 573 L122.5 573.1 L123.6 573.4 L124.4 573.7 L125.2 574.1 L125.7 574.6 L126 575.1 L126.2 575.7 L134.1 654.2 L134 654.8 L133.7 655.4 L133.3 656 L132.6 656.6 L131.8 657.1 L130.8 657.6 L129.7 657.9 L128.6 658.2 L127.4 658.4 L126.2 658.4 L125 658.4 L123.9 658.2 L122.9 657.9 L122.1 657.6 L121.4 657.1 L120.9 656.6 L120.5 656 L120.4 655.4Z" fill="url(#cg18)" stroke="#17468a" stroke-width="0.5"/>
<path d="M125.3 577.4 L125.8 576.8 L126.1 576.2 L126.2 575.7 L126 575.1 L125.7 574.6 L125.2 574.1 L124.4 573.7 L123.6 573.4 L122.5 573.1 L121.4 573 L120.2 572.9 L119 573 L117.7 573.1 L116.5 573.4 L115.4 573.7 L114.4 574.1 L113.5 574.6 L112.8 575.1 L112.3 575.7 L112 576.2 L111.9 576.8 L112 577.4 L112.3 577.9 L112.9 578.4 L113.6 578.8 L114.5 579.1 L115.5 579.4 L116.7 579.5 L117.9 579.6 L119.1 579.5 L120.4 579.4 L121.6 579.1 L122.7 578.8 L123.7 578.4 L124.6 577.9Z" fill="url(#cg18t)"/>
<path d="M240 657.3 L240.4 656.7 L240.6 656.1 L240.6 655.5 L240.3 654.9 L239.9 654.3 L239.3 653.8 L238.6 653.4 L237.6 653 L236.6 652.7 L235.5 652.6 L234.4 652.5 L233.2 652.6 L232 652.8 L230.9 653 L229.9 653.4 L229 653.8 L228.2 654.3 L227.7 654.9 L227.3 655.5 L227 656.1 L227 656.8 L227.3 657.4 L227.7 657.9 L228.3 658.5 L229 658.9 L229.9 659.3 L231 659.5 L232.1 659.7 L233.3 659.7 L234.4 659.7 L235.6 659.5 L236.7 659.2 L237.7 658.9 L238.6 658.4 L239.4 657.9Z" fill="#7a1010"/>
<path d="M333.7 657.5 L333.7 653.1 L333.8 652.4 L334.1 651.8 L334.6 651.3 L335.3 650.8 L336.1 650.3 L337.1 650 L338.2 649.7 L339.3 649.5 L340.5 649.5 L341.6 649.5 L342.8 649.7 L343.8 649.9 L344.8 650.3 L345.6 650.7 L346.3 651.2 L346.8 651.8 L347.1 652.4 L347.2 653 L347.2 657.4 L347.1 658.1 L346.8 658.7 L346.3 659.2 L345.6 659.8 L344.8 660.2 L343.8 660.6 L342.7 660.9 L341.6 661 L340.4 661.1 L339.2 661 L338.1 660.9 L337 660.6 L336.1 660.2 L335.2 659.8 L334.6 659.3 L334.1 658.7 L333.8 658.1Z" fill="url(#cg20)" stroke="#5f8c1c" stroke-width="0.5"/>
<path d="M346.8 654.3 L347.1 653.7 L347.2 653 L347.1 652.4 L346.8 651.8 L346.3 651.2 L345.6 650.7 L344.8 650.3 L343.8 649.9 L342.8 649.7 L341.6 649.5 L340.5 649.5 L339.3 649.5 L338.2 649.7 L337.1 650 L336.1 650.3 L335.3 650.8 L334.6 651.3 L334.1 651.8 L333.8 652.4 L333.7 653.1 L333.8 653.7 L334.1 654.3 L334.6 654.9 L335.2 655.4 L336.1 655.8 L337 656.2 L338.1 656.4 L339.3 656.6 L340.4 656.7 L341.6 656.6 L342.8 656.4 L343.8 656.2 L344.8 655.8 L345.6 655.4 L346.3 654.8Z" fill="url(#cg20t)"/>
<path d="M453.7 660 L453.9 659.4 L453.9 658.8 L453.7 658.1 L453.3 657.5 L452.7 657 L452 656.4 L451.1 656 L450.1 655.6 L449 655.4 L447.8 655.2 L446.7 655.2 L445.5 655.2 L444.4 655.4 L443.4 655.7 L442.5 656 L441.7 656.5 L441.1 657 L440.7 657.6 L440.4 658.2 L440.4 658.8 L440.6 659.4 L441 660 L441.6 660.6 L442.3 661.1 L443.2 661.6 L444.2 661.9 L445.3 662.2 L446.5 662.4 L447.7 662.4 L448.8 662.4 L450 662.2 L451 661.9 L451.9 661.5 L452.7 661.1 L453.3 660.6Z" fill="#7446ae"/>
<path d="M144.9 600.6 L145 600 L145.2 599.4 L145.7 598.8 L146.4 598.2 L147.3 597.7 L148.2 597.3 L149.3 597 L150.5 596.7 L151.8 596.6 L153 596.5 L154.2 596.6 L155.3 596.7 L156.3 597 L157.3 597.3 L158 597.7 L158.6 598.2 L158.9 598.8 L159.1 599.3 L164.3 660.3 L164.3 660.9 L164 661.5 L163.6 662.2 L162.9 662.7 L162.1 663.3 L161.1 663.7 L160.1 664.1 L158.9 664.4 L157.7 664.5 L156.5 664.6 L155.3 664.5 L154.2 664.4 L153.2 664.1 L152.3 663.7 L151.6 663.3 L151.1 662.8 L150.7 662.2 L150.6 661.6Z" fill="url(#cg22)" stroke="#17468a" stroke-width="0.5"/>
<path d="M158.3 601.1 L158.7 600.5 L159 599.9 L159.1 599.3 L158.9 598.8 L158.6 598.2 L158 597.7 L157.3 597.3 L156.3 597 L155.3 596.7 L154.2 596.6 L153 596.5 L151.8 596.6 L150.5 596.7 L149.3 597 L148.2 597.3 L147.3 597.7 L146.4 598.2 L145.7 598.8 L145.2 599.4 L145 600 L144.9 600.6 L145 601.1 L145.4 601.7 L145.9 602.2 L146.7 602.6 L147.6 603 L148.6 603.2 L149.8 603.4 L151 603.4 L152.2 603.4 L153.5 603.2 L154.7 602.9 L155.8 602.6 L156.8 602.2 L157.6 601.7Z" fill="url(#cg22t)"/>
<path d="M271.1 663.5 L271.5 662.9 L271.7 662.2 L271.6 661.6 L271.4 661 L270.9 660.4 L270.3 659.9 L269.5 659.5 L268.6 659.1 L267.6 658.8 L266.4 658.7 L265.3 658.6 L264.1 658.7 L262.9 658.8 L261.8 659.1 L260.8 659.5 L259.9 659.9 L259.2 660.4 L258.6 661 L258.2 661.6 L258.1 662.3 L258.1 662.9 L258.3 663.5 L258.8 664.1 L259.4 664.6 L260.2 665.1 L261.1 665.5 L262.1 665.7 L263.3 665.9 L264.5 665.9 L265.7 665.9 L266.8 665.7 L267.9 665.4 L268.9 665.1 L269.8 664.6 L270.6 664.1Z" fill="#7a1010"/>
<path d="M365.6 663.6 L365.6 659.2 L365.7 658.6 L366 657.9 L366.5 657.4 L367.2 656.8 L368 656.4 L368.9 656 L370 655.8 L371.1 655.6 L372.3 655.5 L373.5 655.6 L374.6 655.8 L375.7 656 L376.7 656.4 L377.6 656.8 L378.3 657.3 L378.8 657.9 L379.1 658.5 L379.3 659.2 L379.2 663.6 L379.1 664.2 L378.8 664.8 L378.3 665.4 L377.7 666 L376.9 666.4 L375.9 666.8 L374.8 667.1 L373.7 667.2 L372.5 667.3 L371.3 667.2 L370.2 667.1 L369.1 666.8 L368.1 666.4 L367.2 666 L366.5 665.5 L366 664.9 L365.7 664.3Z" fill="url(#cg24)" stroke="#5f8c1c" stroke-width="0.5"/>
<path d="M378.9 660.4 L379.2 659.8 L379.3 659.2 L379.1 658.5 L378.8 657.9 L378.3 657.3 L377.6 656.8 L376.7 656.4 L375.7 656 L374.6 655.8 L373.5 655.6 L372.3 655.5 L371.1 655.6 L370 655.8 L368.9 656 L368 656.4 L367.2 656.8 L366.5 657.4 L366 657.9 L365.7 658.6 L365.6 659.2 L365.8 659.8 L366.1 660.4 L366.6 661 L367.3 661.5 L368.2 662 L369.2 662.4 L370.2 662.6 L371.4 662.8 L372.6 662.9 L373.8 662.8 L374.9 662.6 L376 662.4 L377 662 L377.8 661.5 L378.4 661Z" fill="url(#cg24t)"/>
<path d="M486.6 666.2 L486.8 665.6 L486.8 664.9 L486.5 664.3 L486.1 663.7 L485.5 663.1 L484.7 662.6 L483.8 662.1 L482.8 661.8 L481.7 661.5 L480.5 661.3 L479.3 661.3 L478.1 661.3 L477 661.5 L476 661.8 L475.1 662.1 L474.4 662.6 L473.8 663.1 L473.4 663.7 L473.2 664.3 L473.2 665 L473.4 665.6 L473.8 666.2 L474.4 666.8 L475.2 667.3 L476.1 667.8 L477.1 668.1 L478.3 668.4 L479.5 668.6 L480.7 668.6 L481.8 668.6 L482.9 668.4 L484 668.1 L484.9 667.8 L485.6 667.3 L486.2 666.8Z" fill="#7446ae"/>
<path d="M179.4 644.1 L179.4 643.5 L179.7 642.8 L180.1 642.2 L180.8 641.6 L181.6 641.1 L182.5 640.7 L183.6 640.3 L184.8 640.1 L186 639.9 L187.2 639.8 L188.4 639.9 L189.5 640 L190.5 640.3 L191.4 640.7 L192.2 641.1 L192.8 641.6 L193.2 642.2 L193.4 642.8 L195 666.5 L195 667.1 L194.8 667.8 L194.3 668.4 L193.7 669 L192.9 669.5 L192 670 L190.9 670.4 L189.7 670.7 L188.5 670.8 L187.3 670.9 L186.2 670.8 L185 670.7 L184 670.4 L183.1 670 L182.3 669.6 L181.8 669 L181.4 668.4 L181.2 667.8Z" fill="url(#cg26)" stroke="#17468a" stroke-width="0.5"/>
<path d="M192.6 644.7 L193.1 644.1 L193.3 643.4 L193.4 642.8 L193.2 642.2 L192.8 641.6 L192.2 641.1 L191.4 640.7 L190.5 640.3 L189.5 640 L188.4 639.9 L187.2 639.8 L186 639.9 L184.8 640.1 L183.6 640.3 L182.5 640.7 L181.6 641.1 L180.8 641.6 L180.1 642.2 L179.7 642.8 L179.4 643.5 L179.4 644.1 L179.6 644.7 L179.9 645.3 L180.5 645.8 L181.3 646.3 L182.2 646.6 L183.2 646.9 L184.4 647.1 L185.6 647.1 L186.8 647 L188 646.9 L189.2 646.6 L190.2 646.2 L191.2 645.8 L192 645.3Z" fill="url(#cg26t)"/>
<path d="M302.8 669.8 L303.1 669.1 L303.3 668.5 L303.2 667.8 L302.9 667.2 L302.5 666.6 L301.8 666.1 L301 665.7 L300.1 665.3 L299 665 L297.9 664.9 L296.7 664.8 L295.5 664.9 L294.3 665 L293.2 665.3 L292.2 665.7 L291.3 666.1 L290.6 666.7 L290.1 667.2 L289.7 667.9 L289.6 668.5 L289.6 669.2 L289.9 669.8 L290.3 670.4 L291 670.9 L291.8 671.4 L292.8 671.7 L293.8 672 L295 672.2 L296.2 672.2 L297.4 672.2 L298.6 672 L299.7 671.7 L300.7 671.4 L301.5 670.9 L302.3 670.4Z" fill="#7a1010"/>
<path d="M398 669.9 L398 667.7 L398.1 667.1 L398.4 666.5 L398.8 665.9 L399.5 665.3 L400.3 664.9 L401.2 664.5 L402.3 664.2 L403.4 664.1 L404.6 664 L405.8 664.1 L407 664.2 L408.1 664.5 L409.1 664.9 L409.9 665.3 L410.7 665.9 L411.2 666.4 L411.6 667.1 L411.8 667.7 L411.7 669.8 L411.6 670.5 L411.4 671.1 L410.9 671.7 L410.3 672.2 L409.5 672.7 L408.5 673.1 L407.5 673.4 L406.3 673.5 L405.1 673.6 L403.9 673.5 L402.7 673.4 L401.6 673.1 L400.6 672.7 L399.7 672.3 L399 671.7 L398.5 671.1 L398.1 670.5Z" fill="url(#cg28)" stroke="#5f8c1c" stroke-width="0.5"/>
<path d="M411.5 669 L411.7 668.4 L411.8 667.7 L411.6 667.1 L411.2 666.4 L410.7 665.9 L409.9 665.3 L409.1 664.9 L408.1 664.5 L407 664.2 L405.8 664.1 L404.6 664 L403.4 664.1 L402.3 664.2 L401.2 664.5 L400.3 664.9 L399.5 665.3 L398.8 665.9 L398.4 666.5 L398.1 667.1 L398 667.7 L398.2 668.4 L398.5 669 L399.1 669.6 L399.8 670.1 L400.7 670.6 L401.7 671 L402.8 671.2 L404 671.4 L405.2 671.5 L406.4 671.4 L407.5 671.2 L408.6 671 L409.6 670.6 L410.4 670.1 L411 669.6Z" fill="url(#cg28t)"/>
<path d="M520 672.5 L520.2 671.8 L520.2 671.2 L519.9 670.5 L519.4 669.9 L518.8 669.3 L518 668.8 L517 668.3 L516 668 L514.8 667.7 L513.7 667.5 L512.5 667.5 L511.3 667.5 L510.2 667.7 L509.2 668 L508.3 668.4 L507.5 668.8 L507 669.4 L506.6 669.9 L506.4 670.6 L506.5 671.2 L506.7 671.9 L507.2 672.5 L507.8 673.1 L508.6 673.6 L509.5 674.1 L510.6 674.5 L511.8 674.7 L513 674.9 L514.2 675 L515.3 674.9 L516.5 674.7 L517.5 674.5 L518.4 674.1 L519.1 673.6 L519.7 673.1Z" fill="#7446ae"/>
<path d="M211.9 667 L211.9 666.3 L212.2 665.7 L212.6 665.1 L213.2 664.5 L214 663.9 L214.9 663.5 L216 663.1 L217.1 662.8 L218.3 662.6 L219.5 662.6 L220.7 662.6 L221.9 662.8 L222.9 663.1 L223.8 663.4 L224.6 663.9 L225.2 664.4 L225.6 665 L225.8 665.7 L226.2 672.8 L226.2 673.5 L226 674.1 L225.6 674.8 L225 675.4 L224.2 675.9 L223.3 676.4 L222.2 676.8 L221.1 677 L219.9 677.2 L218.7 677.3 L217.5 677.2 L216.3 677.1 L215.3 676.8 L214.4 676.4 L213.6 675.9 L213 675.4 L212.6 674.8 L212.4 674.2Z" fill="url(#cg30)" stroke="#17468a" stroke-width="0.5"/>
<path d="M225.2 667.6 L225.6 667 L225.8 666.3 L225.8 665.7 L225.6 665 L225.2 664.4 L224.6 663.9 L223.8 663.4 L222.9 663.1 L221.9 662.8 L220.7 662.6 L219.5 662.6 L218.3 662.6 L217.1 662.8 L216 663.1 L214.9 663.5 L214 663.9 L213.2 664.5 L212.6 665.1 L212.2 665.7 L211.9 666.3 L211.9 667 L212.1 667.6 L212.5 668.2 L213.1 668.8 L213.9 669.2 L214.8 669.6 L215.9 669.9 L217 670 L218.2 670.1 L219.5 670 L220.7 669.9 L221.8 669.6 L222.9 669.2 L223.8 668.7 L224.6 668.2Z" fill="url(#cg30t)"/>
<path d="M335 676.1 L335.3 675.5 L335.4 674.8 L335.3 674.2 L335 673.5 L334.5 672.9 L333.8 672.4 L333 671.9 L332 671.6 L330.9 671.3 L329.8 671.1 L328.6 671.1 L327.4 671.1 L326.2 671.3 L325.1 671.6 L324.1 672 L323.3 672.4 L322.6 673 L322 673.6 L321.7 674.2 L321.6 674.9 L321.7 675.5 L322 676.2 L322.5 676.8 L323.1 677.3 L324 677.8 L325 678.1 L326.1 678.4 L327.2 678.6 L328.4 678.6 L329.6 678.6 L330.8 678.4 L331.9 678.1 L332.9 677.7 L333.8 677.3 L334.5 676.7Z" fill="#7a1010"/>
<path d="M444.5 677.5 L444.7 676.9 L444.7 676.2 L444.5 675.5 L444.1 674.9 L443.5 674.3 L442.8 673.8 L441.9 673.3 L440.8 672.9 L439.7 672.7 L438.5 672.5 L437.3 672.4 L436.1 672.5 L435 672.7 L434 672.9 L433 673.3 L432.2 673.8 L431.6 674.3 L431.2 674.9 L430.9 675.6 L430.9 676.2 L431.1 676.9 L431.5 677.5 L432 678.1 L432.8 678.7 L433.7 679.1 L434.7 679.5 L435.9 679.8 L437.1 680 L438.3 680 L439.5 680 L440.6 679.8 L441.7 679.5 L442.6 679.1 L443.4 678.6 L444 678.1Z" fill="#80b02c"/>
<path d="M554 678.9 L554.2 678.2 L554.1 677.6 L553.8 676.9 L553.3 676.3 L552.6 675.7 L551.8 675.1 L550.8 674.7 L549.7 674.3 L548.6 674 L547.4 673.8 L546.2 673.8 L545 673.9 L543.9 674 L542.9 674.3 L542 674.7 L541.3 675.2 L540.7 675.7 L540.4 676.3 L540.2 676.9 L540.3 677.6 L540.6 678.3 L541.1 678.9 L541.7 679.5 L542.6 680 L543.5 680.5 L544.6 680.9 L545.8 681.2 L547 681.3 L548.2 681.4 L549.4 681.3 L550.5 681.2 L551.6 680.9 L552.4 680.5 L553.2 680 L553.7 679.5Z" fill="#7446ae"/>
<path d="M243.7 672.7 L243.9 672.1 L244.3 671.4 L244.9 670.8 L245.7 670.3 L246.6 669.8 L247.6 669.4 L248.8 669.2 L250 669 L251.2 668.9 L252.4 669 L253.5 669.1 L254.6 669.4 L255.6 669.8 L256.4 670.3 L257 670.8 L257.4 671.4 L257.7 672 L257.7 672.7 L258 679.9 L257.8 680.6 L257.4 681.2 L256.8 681.8 L256.1 682.4 L255.1 682.9 L254.1 683.2 L252.9 683.5 L251.7 683.7 L250.5 683.8 L249.3 683.7 L248.2 683.5 L247.1 683.3 L246.1 682.9 L245.3 682.4 L244.7 681.9 L244.3 681.2 L244 680.6 L243.7 673.4Z" fill="url(#cg34)" stroke="#17468a" stroke-width="0.5"/>
<path d="M257.1 674 L257.5 673.4 L257.7 672.7 L257.7 672 L257.4 671.4 L257 670.8 L256.4 670.3 L255.6 669.8 L254.6 669.4 L253.5 669.1 L252.4 669 L251.2 668.9 L250 669 L248.8 669.2 L247.6 669.4 L246.6 669.8 L245.7 670.3 L244.9 670.8 L244.3 671.4 L243.9 672.1 L243.7 672.7 L243.7 673.4 L243.9 674 L244.4 674.6 L245 675.2 L245.8 675.7 L246.8 676 L247.8 676.3 L249 676.5 L250.2 676.6 L251.4 676.5 L252.6 676.3 L253.8 676 L254.8 675.6 L255.8 675.2 L256.5 674.6Z" fill="url(#cg34t)"/>
<path d="M367.7 682.6 L368 681.9 L368.1 681.3 L368 680.6 L367.6 680 L367.1 679.4 L366.4 678.8 L365.5 678.3 L364.5 678 L363.4 677.7 L362.2 677.5 L361 677.5 L359.8 677.5 L358.7 677.7 L357.6 678 L356.6 678.4 L355.7 678.8 L355.1 679.4 L354.5 680 L354.2 680.6 L354.1 681.3 L354.3 682 L354.6 682.6 L355.1 683.2 L355.8 683.8 L356.7 684.3 L357.7 684.6 L358.8 684.9 L360 685.1 L361.2 685.2 L362.4 685.1 L363.6 684.9 L364.7 684.6 L365.7 684.2 L366.5 683.8 L367.2 683.2Z" fill="#7a1010"/>
<path d="M478.1 684 L478.3 683.3 L478.3 682.7 L478.1 682 L477.6 681.3 L477 680.7 L476.2 680.2 L475.3 679.7 L474.2 679.3 L473.1 679.1 L471.9 678.9 L470.7 678.8 L469.5 678.9 L468.4 679.1 L467.3 679.4 L466.4 679.7 L465.6 680.2 L465 680.8 L464.6 681.4 L464.4 682 L464.4 682.7 L464.6 683.4 L465 684 L465.6 684.6 L466.4 685.2 L467.3 685.6 L468.4 686 L469.5 686.3 L470.8 686.5 L472 686.5 L473.2 686.5 L474.3 686.3 L475.4 686 L476.3 685.6 L477.1 685.1 L477.7 684.6Z" fill="#80b02c"/>
<path d="M588.6 685.4 L588.7 684.7 L588.6 684 L588.3 683.4 L587.7 682.7 L587 682.1 L586.2 681.6 L585.2 681.1 L584.1 680.7 L582.9 680.4 L581.7 680.3 L580.4 680.2 L579.2 680.3 L578.1 680.4 L577.1 680.7 L576.3 681.1 L575.6 681.6 L575 682.1 L574.7 682.7 L574.6 683.4 L574.7 684.1 L575 684.7 L575.5 685.4 L576.2 686 L577.1 686.6 L578.1 687 L579.2 687.4 L580.4 687.7 L581.6 687.9 L582.9 687.9 L584.1 687.9 L585.2 687.7 L586.2 687.4 L587.1 687 L587.8 686.5 L588.3 686Z" fill="#7446ae"/>
<path d="M276 680.1 L276.2 679.5 L276.6 678.8 L277.1 678.2 L277.9 677.7 L278.8 677.2 L279.8 676.8 L281 676.5 L282.2 676.3 L283.4 676.3 L284.6 676.3 L285.8 676.5 L286.9 676.8 L287.8 677.2 L288.7 677.6 L289.3 678.2 L289.8 678.8 L290.1 679.4 L290.1 680.1 L290.3 686.4 L290.1 687.1 L289.7 687.8 L289.2 688.4 L288.4 689 L287.5 689.4 L286.5 689.8 L285.3 690.1 L284.1 690.3 L282.9 690.4 L281.7 690.3 L280.5 690.1 L279.4 689.9 L278.4 689.5 L277.6 689 L277 688.4 L276.5 687.8 L276.2 687.1 L276.2 686.5Z" fill="url(#cg38)" stroke="#17468a" stroke-width="0.5"/>
<path d="M289.6 681.4 L290 680.8 L290.1 680.1 L290.1 679.4 L289.8 678.8 L289.3 678.2 L288.7 677.6 L287.8 677.2 L286.9 676.8 L285.8 676.5 L284.6 676.3 L283.4 676.3 L282.2 676.3 L281 676.5 L279.8 676.8 L278.8 677.2 L277.9 677.7 L277.1 678.2 L276.6 678.8 L276.2 679.5 L276 680.1 L276.1 680.8 L276.3 681.5 L276.8 682.1 L277.4 682.6 L278.3 683.1 L279.2 683.5 L280.3 683.8 L281.5 684 L282.7 684 L284 684 L285.2 683.8 L286.3 683.5 L287.4 683.1 L288.3 682.6 L289 682.1Z" fill="url(#cg38t)"/>
<path d="M401 689.2 L401.2 688.5 L401.3 687.8 L401.1 687.1 L400.8 686.5 L400.2 685.9 L399.5 685.3 L398.6 684.8 L397.5 684.5 L396.4 684.2 L395.2 684 L394 683.9 L392.8 684 L391.6 684.2 L390.6 684.5 L389.6 684.9 L388.7 685.3 L388.1 685.9 L387.6 686.5 L387.3 687.2 L387.2 687.9 L387.4 688.5 L387.7 689.2 L388.3 689.8 L389 690.4 L389.9 690.9 L391 691.3 L392.1 691.5 L393.3 691.7 L394.5 691.8 L395.7 691.7 L396.9 691.5 L398 691.2 L399 690.8 L399.8 690.4 L400.5 689.8Z" fill="#7a1010"/>
<path d="M512.3 690.6 L512.5 689.9 L512.4 689.2 L512.2 688.5 L511.7 687.9 L511.1 687.3 L510.2 686.7 L509.3 686.2 L508.2 685.8 L507 685.6 L505.8 685.4 L504.6 685.3 L503.4 685.4 L502.2 685.6 L501.2 685.9 L500.3 686.3 L499.5 686.7 L498.9 687.3 L498.5 687.9 L498.4 688.6 L498.4 689.3 L498.6 689.9 L499.1 690.6 L499.7 691.2 L500.6 691.8 L501.5 692.3 L502.6 692.7 L503.8 692.9 L505 693.1 L506.2 693.2 L507.5 693.1 L508.6 692.9 L509.7 692.6 L510.6 692.2 L511.3 691.8 L511.9 691.2Z" fill="#80b02c"/>
<path d="M308.8 688.6 L309 687.9 L309.3 687.2 L309.9 686.6 L310.6 686 L311.5 685.6 L312.5 685.2 L313.7 684.9 L314.9 684.7 L316.1 684.6 L317.3 684.7 L318.5 684.9 L319.6 685.1 L320.6 685.5 L321.5 686 L322.2 686.6 L322.7 687.2 L323 687.9 L323 688.5 L323.1 693.1 L322.9 693.8 L322.6 694.4 L322.1 695.1 L321.3 695.6 L320.4 696.1 L319.4 696.5 L318.3 696.8 L317.1 697 L315.8 697.1 L314.6 697 L313.4 696.9 L312.3 696.6 L311.3 696.2 L310.4 695.7 L309.8 695.1 L309.3 694.5 L309 693.8 L308.9 693.1Z" fill="url(#cg41)" stroke="#17468a" stroke-width="0.5"/>
<path d="M322.6 689.9 L322.9 689.2 L323 688.5 L323 687.9 L322.7 687.2 L322.2 686.6 L321.5 686 L320.6 685.5 L319.6 685.1 L318.5 684.9 L317.3 684.7 L316.1 684.6 L314.9 684.7 L313.7 684.9 L312.5 685.2 L311.5 685.6 L310.6 686 L309.9 686.6 L309.3 687.2 L309 687.9 L308.8 688.6 L308.9 689.3 L309.2 689.9 L309.7 690.6 L310.4 691.1 L311.2 691.6 L312.2 692 L313.4 692.3 L314.6 692.5 L315.8 692.5 L317 692.5 L318.2 692.3 L319.4 692 L320.4 691.6 L321.3 691.1 L322 690.5Z" fill="url(#cg41t)"/>
<path d="M434.8 695.9 L435 695.2 L435 694.5 L434.9 693.8 L434.5 693.1 L433.9 692.5 L433.1 691.9 L432.2 691.5 L431.1 691.1 L430 690.8 L428.8 690.6 L427.5 690.5 L426.3 690.6 L425.2 690.8 L424.1 691.1 L423.1 691.5 L422.3 692 L421.6 692.5 L421.2 693.2 L420.9 693.8 L420.9 694.5 L421.1 695.2 L421.5 695.9 L422 696.5 L422.8 697.1 L423.7 697.6 L424.8 698 L425.9 698.3 L427.2 698.5 L428.4 698.5 L429.6 698.4 L430.8 698.3 L431.9 698 L432.9 697.6 L433.7 697.1 L434.3 696.5Z" fill="#7a1010"/>
<path d="M547.1 697.3 L547.2 696.6 L547.1 695.9 L546.8 695.2 L546.3 694.5 L545.7 693.9 L544.8 693.3 L543.8 692.9 L542.7 692.5 L541.5 692.2 L540.3 692 L539.1 691.9 L537.8 692 L536.7 692.2 L535.7 692.5 L534.8 692.9 L534 693.4 L533.5 693.9 L533.1 694.6 L532.9 695.2 L533 695.9 L533.3 696.6 L533.8 697.3 L534.4 697.9 L535.3 698.5 L536.3 699 L537.4 699.4 L538.6 699.7 L539.8 699.9 L541.1 699.9 L542.3 699.9 L543.5 699.7 L544.5 699.4 L545.4 699 L546.1 698.5 L546.7 697.9Z" fill="#80b02c"/>
<path d="M342.2 699.9 L342.2 696.2 L342.3 695.5 L342.6 694.9 L343.1 694.2 L343.9 693.6 L344.7 693.2 L345.7 692.7 L346.9 692.5 L348.1 692.3 L349.3 692.2 L350.5 692.3 L351.7 692.4 L352.9 692.7 L353.9 693.1 L354.8 693.6 L355.5 694.2 L356 694.8 L356.4 695.5 L356.5 696.2 L356.4 699.8 L356.3 700.5 L356 701.2 L355.5 701.9 L354.8 702.4 L353.9 703 L352.9 703.4 L351.8 703.7 L350.6 703.9 L349.3 703.9 L348.1 703.9 L346.9 703.7 L345.7 703.4 L344.7 703 L343.8 702.5 L343.1 701.9 L342.6 701.3 L342.3 700.6Z" fill="url(#cg44)" stroke="#17468a" stroke-width="0.5"/>
<path d="M356.1 697.6 L356.4 696.9 L356.5 696.2 L356.4 695.5 L356 694.8 L355.5 694.2 L354.8 693.6 L353.9 693.1 L352.9 692.7 L351.7 692.4 L350.5 692.3 L349.3 692.2 L348.1 692.3 L346.9 692.5 L345.7 692.7 L344.7 693.2 L343.9 693.6 L343.1 694.2 L342.6 694.9 L342.3 695.5 L342.2 696.2 L342.3 696.9 L342.6 697.6 L343.1 698.3 L343.8 698.8 L344.7 699.3 L345.8 699.7 L346.9 700 L348.1 700.2 L349.4 700.3 L350.6 700.2 L351.8 700 L352.9 699.7 L354 699.3 L354.8 698.8 L355.6 698.2Z" fill="url(#cg44t)"/>
<path d="M469.2 702.6 L469.4 702 L469.4 701.3 L469.2 700.6 L468.7 699.9 L468.1 699.2 L467.3 698.7 L466.3 698.2 L465.3 697.8 L464.1 697.5 L462.9 697.3 L461.6 697.2 L460.4 697.3 L459.2 697.5 L458.2 697.8 L457.2 698.2 L456.4 698.7 L455.8 699.3 L455.3 699.9 L455.1 700.6 L455.1 701.3 L455.3 702 L455.7 702.7 L456.4 703.3 L457.2 703.9 L458.1 704.4 L459.2 704.8 L460.4 705.1 L461.6 705.3 L462.9 705.4 L464.1 705.3 L465.3 705.1 L466.4 704.8 L467.3 704.4 L468.1 703.9 L468.7 703.3Z" fill="#7a1010"/>
<path d="M582.4 704.1 L582.5 703.4 L582.4 702.7 L582.1 702 L581.6 701.3 L580.9 700.7 L580 700.1 L578.9 699.6 L577.8 699.2 L576.6 698.9 L575.3 698.7 L574.1 698.7 L572.9 698.7 L571.7 698.9 L570.7 699.2 L569.8 699.6 L569.1 700.1 L568.5 700.7 L568.2 701.3 L568.1 702 L568.2 702.7 L568.5 703.4 L569 704.1 L569.7 704.8 L570.6 705.3 L571.6 705.8 L572.8 706.2 L574 706.5 L575.3 706.7 L576.5 706.8 L577.7 706.7 L578.9 706.5 L579.9 706.2 L580.8 705.8 L581.6 705.3 L582.1 704.7Z" fill="#80b02c"/>
<path d="M376 706.8 L376.1 702.2 L376.2 701.5 L376.5 700.8 L377 700.1 L377.7 699.5 L378.5 699 L379.5 698.6 L380.7 698.3 L381.9 698.1 L383.1 698.1 L384.3 698.1 L385.6 698.3 L386.7 698.6 L387.8 699 L388.7 699.5 L389.4 700.1 L390 700.7 L390.4 701.4 L390.5 702.1 L390.4 706.7 L390.3 707.4 L390 708.1 L389.5 708.8 L388.8 709.4 L388 709.9 L387 710.3 L385.8 710.6 L384.6 710.8 L383.4 710.9 L382.1 710.8 L380.9 710.6 L379.7 710.3 L378.7 709.9 L377.8 709.4 L377 708.8 L376.5 708.2 L376.1 707.5Z" fill="url(#cg47)" stroke="#17468a" stroke-width="0.5"/>
<path d="M390.2 703.5 L390.4 702.8 L390.5 702.1 L390.4 701.4 L390 700.7 L389.4 700.1 L388.7 699.5 L387.8 699 L386.7 698.6 L385.6 698.3 L384.3 698.1 L383.1 698.1 L381.9 698.1 L380.7 698.3 L379.5 698.6 L378.5 699 L377.7 699.5 L377 700.1 L376.5 700.8 L376.2 701.5 L376.1 702.2 L376.2 702.9 L376.6 703.6 L377.1 704.2 L377.9 704.8 L378.8 705.3 L379.9 705.7 L381 706 L382.2 706.2 L383.5 706.3 L384.8 706.2 L386 706 L387.1 705.7 L388.1 705.3 L389 704.8 L389.7 704.2Z" fill="url(#cg47t)"/>
<path d="M504.2 709.6 L504.3 708.9 L504.3 708.1 L504 707.4 L503.6 706.7 L502.9 706.1 L502.1 705.5 L501.1 705 L500 704.6 L498.8 704.3 L497.6 704.1 L496.3 704.1 L495.1 704.1 L493.9 704.3 L492.8 704.6 L491.9 705 L491.1 705.5 L490.5 706.1 L490.1 706.8 L489.9 707.5 L489.9 708.2 L490.2 708.9 L490.6 709.6 L491.3 710.3 L492.1 710.8 L493.1 711.4 L494.2 711.8 L495.4 712.1 L496.7 712.3 L497.9 712.3 L499.2 712.2 L500.3 712.1 L501.4 711.7 L502.4 711.3 L503.2 710.8 L503.8 710.2Z" fill="#7a1010"/>
<path d="M410.4 713.7 L410.5 711 L410.5 710.3 L410.8 709.6 L411.3 708.9 L412 708.3 L412.8 707.8 L413.8 707.4 L414.9 707.1 L416.1 706.9 L417.4 706.8 L418.6 706.9 L419.9 707.1 L421 707.4 L422.1 707.8 L423.1 708.3 L423.8 708.9 L424.4 709.5 L424.8 710.2 L425 710.9 L424.9 713.7 L424.9 714.4 L424.6 715.1 L424.1 715.8 L423.5 716.4 L422.6 716.9 L421.6 717.4 L420.5 717.7 L419.3 717.9 L418 717.9 L416.8 717.9 L415.5 717.7 L414.3 717.4 L413.3 717 L412.3 716.4 L411.5 715.8 L410.9 715.2 L410.6 714.5Z" fill="url(#cg49)" stroke="#17468a" stroke-width="0.5"/>
<path d="M424.7 712.4 L425 711.7 L425 710.9 L424.8 710.2 L424.4 709.5 L423.8 708.9 L423.1 708.3 L422.1 707.8 L421 707.4 L419.9 707.1 L418.6 706.9 L417.4 706.8 L416.1 706.9 L414.9 707.1 L413.8 707.4 L412.8 707.8 L412 708.3 L411.3 708.9 L410.8 709.6 L410.5 710.3 L410.5 711 L410.7 711.7 L411.1 712.4 L411.7 713.1 L412.4 713.7 L413.4 714.2 L414.5 714.6 L415.6 714.9 L416.9 715.1 L418.2 715.2 L419.4 715.1 L420.6 714.9 L421.8 714.6 L422.8 714.2 L423.6 713.6 L424.3 713Z" fill="url(#cg49t)"/>
<path d="M539.7 716.6 L539.9 715.9 L539.8 715.2 L539.5 714.4 L539 713.7 L538.3 713.1 L537.5 712.5 L536.4 712 L535.3 711.6 L534.1 711.2 L532.8 711.1 L531.6 711 L530.3 711.1 L529.2 711.3 L528.1 711.6 L527.2 712 L526.4 712.5 L525.8 713.1 L525.4 713.8 L525.3 714.5 L525.3 715.2 L525.6 715.9 L526.1 716.6 L526.8 717.3 L527.6 717.9 L528.7 718.4 L529.8 718.8 L531 719.2 L532.3 719.3 L533.6 719.4 L534.8 719.3 L536 719.1 L537.1 718.8 L538 718.4 L538.8 717.9 L539.4 717.3Z" fill="#7a1010"/>
<path d="M445.4 720.9 L445.4 720.1 L445.6 717.4 L445.8 716.6 L446.3 716 L446.9 715.4 L447.7 714.8 L448.7 714.4 L449.8 714.1 L451 713.9 L452.3 713.8 L453.6 713.9 L454.8 714.1 L456 714.4 L457.1 714.8 L458.1 715.3 L458.9 715.9 L459.6 716.6 L460 717.3 L460.2 718 L460.2 718.8 L460 721.6 L459.8 722.3 L459.3 723 L458.7 723.6 L457.9 724.1 L456.9 724.5 L455.8 724.9 L454.6 725.1 L453.3 725.1 L452 725.1 L450.7 724.9 L449.5 724.6 L448.4 724.1 L447.5 723.6 L446.6 723 L446 722.3 L445.6 721.6Z" fill="url(#cg51)" stroke="#17468a" stroke-width="0.5"/>
<path d="M460 719.5 L460.2 718.8 L460.2 718 L460 717.3 L459.6 716.6 L458.9 715.9 L458.1 715.3 L457.1 714.8 L456 714.4 L454.8 714.1 L453.6 713.9 L452.3 713.8 L451 713.9 L449.8 714.1 L448.7 714.4 L447.7 714.8 L446.9 715.4 L446.3 716 L445.8 716.6 L445.6 717.4 L445.6 718.1 L445.8 718.8 L446.2 719.5 L446.8 720.2 L447.6 720.8 L448.6 721.4 L449.7 721.8 L450.9 722.1 L452.2 722.3 L453.5 722.3 L454.7 722.3 L455.9 722.1 L457.1 721.8 L458.1 721.3 L458.9 720.8 L459.5 720.2Z" fill="url(#cg51t)"/>
<path d="M575.9 723.8 L576.1 723 L575.9 722.3 L575.6 721.5 L575.1 720.8 L574.4 720.2 L573.4 719.6 L572.4 719 L571.2 718.6 L570 718.3 L568.7 718.1 L567.4 718.1 L566.2 718.1 L565 718.3 L564 718.6 L563 719.1 L562.3 719.6 L561.7 720.2 L561.4 720.9 L561.2 721.6 L561.3 722.3 L561.7 723.1 L562.2 723.8 L562.9 724.5 L563.8 725.1 L564.9 725.6 L566 726 L567.3 726.4 L568.6 726.5 L569.9 726.6 L571.1 726.5 L572.3 726.3 L573.4 726 L574.3 725.6 L575 725 L575.6 724.4Z" fill="#7a1010"/>
<path d="M481 727.4 L481.2 724.6 L481.4 723.8 L481.8 723.2 L482.5 722.5 L483.3 722 L484.3 721.6 L485.4 721.3 L486.6 721.1 L487.8 721 L489.1 721.1 L490.4 721.2 L491.6 721.6 L492.7 722 L493.7 722.5 L494.6 723.1 L495.3 723.8 L495.7 724.5 L496 725.3 L496 726 L495.8 728.8 L495.6 729.5 L495.2 730.2 L494.6 730.9 L493.7 731.4 L492.8 731.8 L491.7 732.2 L490.4 732.4 L489.2 732.4 L487.9 732.4 L486.6 732.2 L485.4 731.9 L484.2 731.4 L483.2 730.9 L482.4 730.3 L481.7 729.6 L481.2 728.9 L481 728.1Z" fill="url(#cg53)" stroke="#17468a" stroke-width="0.5"/>
<path d="M495.8 726.8 L496 726 L496 725.3 L495.7 724.5 L495.3 723.8 L494.6 723.1 L493.7 722.5 L492.7 722 L491.6 721.6 L490.4 721.2 L489.1 721.1 L487.8 721 L486.6 721.1 L485.4 721.3 L484.3 721.6 L483.3 722 L482.5 722.5 L481.8 723.2 L481.4 723.8 L481.2 724.6 L481.2 725.3 L481.5 726.1 L481.9 726.8 L482.6 727.5 L483.4 728.1 L484.4 728.6 L485.6 729.1 L486.8 729.4 L488.1 729.6 L489.4 729.6 L490.7 729.6 L491.9 729.4 L493 729.1 L494 728.6 L494.8 728.1 L495.4 727.4Z" fill="url(#cg53t)"/>
<path d="M517.2 734.7 L517.5 731.9 L517.6 731.2 L518 730.5 L518.7 729.8 L519.4 729.3 L520.4 728.9 L521.5 728.5 L522.7 728.3 L524 728.3 L525.3 728.3 L526.6 728.5 L527.8 728.8 L529 729.3 L530 729.8 L530.9 730.4 L531.6 731.1 L532.1 731.9 L532.4 732.6 L532.5 733.4 L532.2 736.2 L532 736.9 L531.6 737.6 L531 738.3 L530.2 738.8 L529.3 739.3 L528.2 739.6 L527 739.8 L525.7 739.9 L524.4 739.8 L523.1 739.6 L521.8 739.3 L520.6 738.9 L519.6 738.3 L518.7 737.7 L518 737 L517.5 736.2 L517.2 735.5Z" fill="url(#cg54)" stroke="#17468a" stroke-width="0.5"/>
<path d="M532.3 734.1 L532.5 733.4 L532.4 732.6 L532.1 731.9 L531.6 731.1 L530.9 730.4 L530 729.8 L529 729.3 L527.8 728.8 L526.6 728.5 L525.3 728.3 L524 728.3 L522.7 728.3 L521.5 728.5 L520.4 728.9 L519.4 729.3 L518.7 729.8 L518 730.5 L517.6 731.2 L517.5 731.9 L517.5 732.7 L517.8 733.4 L518.3 734.2 L519 734.9 L519.9 735.5 L520.9 736.1 L522.1 736.5 L523.3 736.8 L524.6 737 L526 737.1 L527.2 737 L528.5 736.8 L529.6 736.5 L530.5 736 L531.3 735.5 L531.9 734.8Z" fill="url(#cg54t)"/>
<path d="M569.1 744.5 L569.2 743.7 L569.1 742.9 L568.8 742.1 L568.3 741.4 L567.5 740.7 L566.6 740 L565.5 739.5 L564.3 739.1 L563.1 738.7 L561.8 738.5 L560.4 738.5 L559.2 738.5 L558 738.8 L556.9 739.1 L555.9 739.5 L555.1 740.1 L554.6 740.7 L554.2 741.4 L554.1 742.2 L554.1 743 L554.5 743.8 L555 744.5 L555.7 745.2 L556.6 745.9 L557.7 746.4 L558.9 746.9 L560.2 747.2 L561.5 747.4 L562.8 747.5 L564.1 747.4 L565.3 747.2 L566.4 746.8 L567.4 746.4 L568.2 745.8 L568.7 745.2Z" fill="#1a4a8c"/>
<text x="68.8" y="513.7" font-size="16" text-anchor="end">80</text>
<text x="73.7" y="554" font-size="16" text-anchor="end">60</text>
<text x="78.7" y="592.7" font-size="16" text-anchor="end">40</text>
<text x="83.4" y="630.2" font-size="16" text-anchor="end">20</text>
<text x="87.8" y="664.8" font-size="16" text-anchor="end">0</text>
<text x="118.7" y="690.7" font-size="16" text-anchor="middle">1</text>
<text x="149" y="695.7" font-size="16" text-anchor="middle">2</text>
<text x="178.8" y="702.3" font-size="16" text-anchor="middle">3</text>
<text x="211.2" y="709.4" font-size="16" text-anchor="middle">4</text>
<text x="243.1" y="716.4" font-size="16" text-anchor="middle">5</text>
<text x="275" y="723" font-size="16" text-anchor="middle">6</text>
<text x="307.4" y="729.3" font-size="16" text-anchor="middle">7</text>
<text x="340.6" y="737.1" font-size="16" text-anchor="middle">8</text>
<text x="376.3" y="743.1" font-size="16" text-anchor="middle">9</text>
<text x="411.3" y="752.5" font-size="16" text-anchor="middle">10</text>
<text x="446.3" y="760.4" font-size="16" text-anchor="middle">11</text>
<text x="483.7" y="767.4" font-size="16" text-anchor="middle">12</text>
<text x="519.6" y="774.8" font-size="16" text-anchor="middle">13</text>
<text x="558.3" y="782.8" font-size="16" text-anchor="middle">14</text>
<text x="274.2" y="754.5" font-size="18.1" text-anchor="middle" font-weight="bold">Individual Cell</text>
<text x="44.6" y="589.5" font-size="15.3" text-anchor="middle" font-weight="bold" transform="rotate(-90 44.6 589.5)" letter-spacing="0.18">Total Telomerase Products</text>
<text x="602.8" y="692" font-size="12" font-weight="bold">CD8+ CD28-</text>
<text x="597" y="710.7" font-size="12" font-weight="bold">CD8+ CD28+</text>
<text x="590.6" y="730.3" font-size="12" font-weight="bold">CD4+ CD28-</text>
<text x="584" y="751.8" font-size="12" font-weight="bold">CD4+ CD28+</text>
<path d="M375 86.7H420.4V78.7L438.2 95.6L420.4 112.4V103.6H375Z" fill="#000"/>
<rect x="369" y="86.7" width="1" height="16.9" fill="#000" stroke="none" stroke-width="0"/>
<rect x="371" y="86.7" width="1" height="16.9" fill="#000" stroke="none" stroke-width="0"/>
<rect x="373" y="86.7" width="1" height="16.9" fill="#000" stroke="none" stroke-width="0"/>
<line x1="511.2" y1="49.6" x2="323" y2="270" stroke="#000" stroke-width="6.2"/>
<path d="M326.3 251.4 L320.6 272.8 L341 263.9" fill="none" stroke="#000" stroke-width="5.6" stroke-linecap="round" stroke-linejoin="round"/>
<path d="M319.8 274 L323.6 259.5 L335.5 266.8Z" fill="#000"/>
<line x1="634.8" y1="169.8" x2="609" y2="268" stroke="#000" stroke-width="7"/>
<path d="M603.4 250.3 L607.9 271.5 L622.8 255.4" fill="none" stroke="#000" stroke-width="6.2" stroke-linecap="round" stroke-linejoin="round"/>
<path d="M607.4 274 L604.8 259 L616.5 262Z" fill="#000"/>
<rect x="105.2" y="818.3" width="201.8" height="138.7" fill="#e8eff3" stroke="none" stroke-width="0"/>
<line x1="101.2" y1="957" x2="105.2" y2="957" stroke="#8c8c8c" stroke-width="1.4"/>
<text x="94" y="961.8" font-size="13.6" text-anchor="end" fill="#111">0.0</text>
<line x1="105.2" y1="929.3" x2="307" y2="929.3" stroke="#9a9e9c" stroke-width="1.6"/>
<line x1="101.2" y1="929.3" x2="105.2" y2="929.3" stroke="#8c8c8c" stroke-width="1.4"/>
<text x="94" y="934.1" font-size="13.6" text-anchor="end" fill="#111">5.0</text>
<line x1="105.2" y1="901.5" x2="307" y2="901.5" stroke="#9a9e9c" stroke-width="1.6"/>
<line x1="101.2" y1="901.5" x2="105.2" y2="901.5" stroke="#8c8c8c" stroke-width="1.4"/>
<text x="94" y="906.3" font-size="13.6" text-anchor="end" fill="#111">10.0</text>
<line x1="105.2" y1="873.8" x2="307" y2="873.8" stroke="#9a9e9c" stroke-width="1.6"/>
<line x1="101.2" y1="873.8" x2="105.2" y2="873.8" stroke="#8c8c8c" stroke-width="1.4"/>
<text x="94" y="878.6" font-size="13.6" text-anchor="end" fill="#111">15.0</text>
<line x1="105.2" y1="846" x2="307" y2="846" stroke="#9a9e9c" stroke-width="1.6"/>
<line x1="101.2" y1="846" x2="105.2" y2="846" stroke="#8c8c8c" stroke-width="1.4"/>
<text x="94" y="850.8" font-size="13.6" text-anchor="end" fill="#111">20.0</text>
<line x1="105.2" y1="818.3" x2="307" y2="818.3" stroke="#9a9e9c" stroke-width="1.6"/>
<line x1="101.2" y1="818.3" x2="105.2" y2="818.3" stroke="#8c8c8c" stroke-width="1.4"/>
<text x="94" y="823.1" font-size="13.6" text-anchor="end" fill="#111">25.0</text>
<line x1="105.2" y1="818.3" x2="105.2" y2="957.8" stroke="#8c8c8c" stroke-width="1.6"/>
<line x1="101.2" y1="957" x2="307" y2="957" stroke="#8c8c8c" stroke-width="1.6"/>
<line x1="105.2" y1="957" x2="105.2" y2="962" stroke="#8c8c8c" stroke-width="1.4"/>
<line x1="172.5" y1="957" x2="172.5" y2="962" stroke="#8c8c8c" stroke-width="1.4"/>
<line x1="239.7" y1="957" x2="239.7" y2="962" stroke="#8c8c8c" stroke-width="1.4"/>
<line x1="307" y1="957" x2="307" y2="962" stroke="#8c8c8c" stroke-width="1.4"/>
<line x1="138.8" y1="875.4" x2="138.8" y2="932" stroke="#111" stroke-width="1.3"/>
<line x1="135.4" y1="875.4" x2="142.2" y2="875.4" stroke="#111" stroke-width="1.8"/>
<rect x="125" y="932" width="27.6" height="25" fill="#4bacc6" stroke="#357d91" stroke-width="1"/>
<line x1="206.1" y1="844.9" x2="206.1" y2="922.3" stroke="#111" stroke-width="1.3"/>
<line x1="202.7" y1="844.9" x2="209.5" y2="844.9" stroke="#111" stroke-width="1.8"/>
<rect x="192.3" y="922.3" width="27.6" height="34.7" fill="#4bacc6" stroke="#357d91" stroke-width="1"/>
<line x1="273.4" y1="947.7" x2="273.4" y2="952.2" stroke="#111" stroke-width="1.3"/>
<line x1="270" y1="947.7" x2="276.8" y2="947.7" stroke="#111" stroke-width="1.8"/>
<rect x="259.6" y="952.2" width="27.6" height="4.8" fill="#4bacc6" stroke="#357d91" stroke-width="1"/>
<text x="138.8" y="978.4" font-size="13.3" text-anchor="middle" font-weight="bold" fill="#111">CD4+</text>
<text x="206.1" y="978.4" font-size="13.3" text-anchor="middle" font-weight="bold" fill="#111">CD8+</text>
<text x="273.4" y="978.4" font-size="13.3" text-anchor="middle" font-weight="bold" fill="#111">LB</text>
<rect x="437.7" y="818.3" width="185.3" height="138.7" fill="#f0f2eb" stroke="none" stroke-width="0"/>
<line x1="433.7" y1="957" x2="437.7" y2="957" stroke="#8c8c8c" stroke-width="1.4"/>
<text x="427" y="961.8" font-size="13.6" text-anchor="end" fill="#111">0.0</text>
<line x1="437.7" y1="933.9" x2="623" y2="933.9" stroke="#9a9e9c" stroke-width="1.6"/>
<line x1="433.7" y1="933.9" x2="437.7" y2="933.9" stroke="#8c8c8c" stroke-width="1.4"/>
<text x="427" y="938.7" font-size="13.6" text-anchor="end" fill="#111">5.0</text>
<line x1="437.7" y1="910.8" x2="623" y2="910.8" stroke="#9a9e9c" stroke-width="1.6"/>
<line x1="433.7" y1="910.8" x2="437.7" y2="910.8" stroke="#8c8c8c" stroke-width="1.4"/>
<text x="427" y="915.6" font-size="13.6" text-anchor="end" fill="#111">10.0</text>
<line x1="437.7" y1="887.6" x2="623" y2="887.6" stroke="#9a9e9c" stroke-width="1.6"/>
<line x1="433.7" y1="887.6" x2="437.7" y2="887.6" stroke="#8c8c8c" stroke-width="1.4"/>
<text x="427" y="892.4" font-size="13.6" text-anchor="end" fill="#111">15.0</text>
<line x1="437.7" y1="864.5" x2="623" y2="864.5" stroke="#9a9e9c" stroke-width="1.6"/>
<line x1="433.7" y1="864.5" x2="437.7" y2="864.5" stroke="#8c8c8c" stroke-width="1.4"/>
<text x="427" y="869.3" font-size="13.6" text-anchor="end" fill="#111">20.0</text>
<line x1="437.7" y1="841.4" x2="623" y2="841.4" stroke="#9a9e9c" stroke-width="1.6"/>
<line x1="433.7" y1="841.4" x2="437.7" y2="841.4" stroke="#8c8c8c" stroke-width="1.4"/>
<text x="427" y="846.2" font-size="13.6" text-anchor="end" fill="#111">25.0</text>
<line x1="437.7" y1="818.3" x2="623" y2="818.3" stroke="#9a9e9c" stroke-width="1.6"/>
<line x1="433.7" y1="818.3" x2="437.7" y2="818.3" stroke="#8c8c8c" stroke-width="1.4"/>
<text x="427" y="823.1" font-size="13.6" text-anchor="end" fill="#111">30.0</text>
<line x1="437.7" y1="818.3" x2="437.7" y2="957.8" stroke="#8c8c8c" stroke-width="1.6"/>
<line x1="433.7" y1="957" x2="623" y2="957" stroke="#8c8c8c" stroke-width="1.6"/>
<line x1="437.7" y1="957" x2="437.7" y2="962" stroke="#8c8c8c" stroke-width="1.4"/>
<line x1="499.5" y1="957" x2="499.5" y2="962" stroke="#8c8c8c" stroke-width="1.4"/>
<line x1="561.2" y1="957" x2="561.2" y2="962" stroke="#8c8c8c" stroke-width="1.4"/>
<line x1="623" y1="957" x2="623" y2="962" stroke="#8c8c8c" stroke-width="1.4"/>
<line x1="468.6" y1="836.8" x2="468.6" y2="909.8" stroke="#111" stroke-width="1.3"/>
<line x1="465.2" y1="836.8" x2="472" y2="836.8" stroke="#111" stroke-width="1.8"/>
<rect x="455.9" y="909.8" width="25.3" height="47.2" fill="#9bbb59" stroke="#6f8a3c" stroke-width="1"/>
<line x1="530.4" y1="950.5" x2="530.4" y2="954.4" stroke="#111" stroke-width="1.3"/>
<line x1="527" y1="950.5" x2="533.8" y2="950.5" stroke="#111" stroke-width="1.8"/>
<rect x="517.7" y="954.4" width="25.3" height="2.6" fill="#9bbb59" stroke="#6f8a3c" stroke-width="1"/>
<line x1="592.1" y1="949.6" x2="592.1" y2="953.3" stroke="#111" stroke-width="1.3"/>
<line x1="588.7" y1="949.6" x2="595.5" y2="949.6" stroke="#111" stroke-width="1.8"/>
<rect x="579.5" y="953.3" width="25.3" height="3.7" fill="#9bbb59" stroke="#6f8a3c" stroke-width="1"/>
<text x="468.6" y="978.4" font-size="13.3" text-anchor="middle" font-weight="bold" fill="#111">CD28+</text>
<text x="530.4" y="978.4" font-size="13.3" text-anchor="middle" font-weight="bold" fill="#111">CD28-</text>
<text x="592.1" y="978.4" font-size="13.3" text-anchor="middle" font-weight="bold" fill="#111">LB</text>
<text x="61" y="890" font-size="10.4" text-anchor="middle" font-weight="bold" fill="#111" transform="rotate(-90 61 890)">Total Telomerase Products</text>
<text x="393.2" y="890" font-size="10.4" text-anchor="middle" font-weight="bold" fill="#111" transform="rotate(-90 393.2 890)">Total Telomerase Products</text>
<text x="466.9" y="840.3" font-size="25.5" text-anchor="middle" font-weight="bold" fill="#111">*</text>
</svg>
</body></html>
